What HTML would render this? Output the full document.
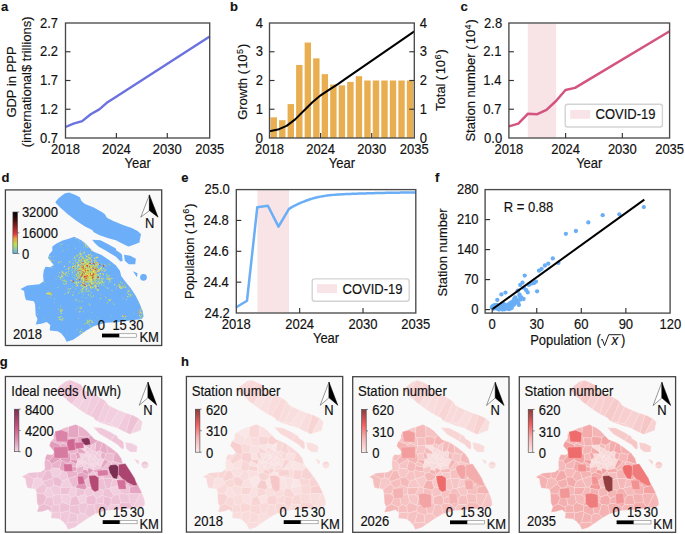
<!DOCTYPE html>
<html><head><meta charset="utf-8"><style>
html,body{margin:0;padding:0;background:#fff;}
svg{display:block;font-family:"Liberation Sans", sans-serif;}
text{stroke:#111;stroke-width:0.15px;}
</style></head><body>
<svg width="685" height="534" viewBox="0 0 685 534">
<rect width="685" height="534" fill="#fff"/>
<text x="0" y="0" font-size="13" text-anchor="start" fill="#111" font-weight="bold" transform="translate(0.9 10.6)">a</text>
<text x="0" y="0" font-size="13" text-anchor="start" fill="#111" font-weight="bold" transform="translate(229.9 10.7)">b</text>
<text x="0" y="0" font-size="13" text-anchor="start" fill="#111" font-weight="bold" transform="translate(460.6 10.6)">c</text>
<text x="0" y="0" font-size="13" text-anchor="start" fill="#111" font-weight="bold" transform="translate(1.6 182.3)">d</text>
<text x="0" y="0" font-size="13" text-anchor="start" fill="#111" font-weight="bold" transform="translate(181.2 182.1)">e</text>
<text x="0" y="0" font-size="13" text-anchor="start" fill="#111" font-weight="bold" transform="translate(435 182)">f</text>
<text x="0" y="0" font-size="13" text-anchor="start" fill="#111" font-weight="bold" transform="translate(-0.2 366)">g</text>
<text x="0" y="0" font-size="13" text-anchor="start" fill="#111" font-weight="bold" transform="translate(181.1 366.2)">h</text>
<polyline points="65.5,127 73.5,123.7 82.2,121.1 90.7,114.2 99.3,109.4 107.6,102.2 116.2,96.7 209.7,36.6" fill="none" stroke="#6b72e0" stroke-width="2.4" stroke-linejoin="round"/>
<rect x="65.5" y="23" width="144.2" height="115" fill="none" stroke="#4a4a4a" stroke-width="1.35"/>
<line x1="65.5" y1="51.75" x2="70.5" y2="51.75" stroke="#333" stroke-width="1.15"/>
<text x="0" y="0" font-size="13" text-anchor="end" fill="#111" transform="translate(58 56.35) scale(1 1.06)">2.2</text>
<line x1="65.5" y1="80.5" x2="70.5" y2="80.5" stroke="#333" stroke-width="1.15"/>
<text x="0" y="0" font-size="13" text-anchor="end" fill="#111" transform="translate(58 85.1) scale(1 1.06)">1.7</text>
<line x1="65.5" y1="109.25" x2="70.5" y2="109.25" stroke="#333" stroke-width="1.15"/>
<text x="0" y="0" font-size="13" text-anchor="end" fill="#111" transform="translate(58 113.85) scale(1 1.06)">1.2</text>
<text x="0" y="0" font-size="13" text-anchor="end" fill="#111" transform="translate(58 27.6) scale(1 1.06)">2.7</text>
<text x="0" y="0" font-size="13" text-anchor="end" fill="#111" transform="translate(58 142.6) scale(1 1.06)">0.7</text>
<line x1="116.39" y1="133" x2="116.39" y2="138" stroke="#333" stroke-width="1.15"/>
<line x1="167.29" y1="133" x2="167.29" y2="138" stroke="#333" stroke-width="1.15"/>
<text x="0" y="0" font-size="13" text-anchor="middle" fill="#111" transform="translate(65.5 153.6) scale(1 1.06)">2018</text>
<text x="0" y="0" font-size="13" text-anchor="middle" fill="#111" transform="translate(116.39 153.6) scale(1 1.06)">2024</text>
<text x="0" y="0" font-size="13" text-anchor="middle" fill="#111" transform="translate(167.29 153.6) scale(1 1.06)">2030</text>
<text x="0" y="0" font-size="13" text-anchor="middle" fill="#111" transform="translate(209.7 153.6) scale(1 1.06)">2035</text>
<text x="0" y="0" font-size="13" text-anchor="middle" fill="#111" transform="translate(137.6 167.7) scale(1 1.06)">Year</text>
<text x="0" y="0" font-size="13" text-anchor="middle" fill="#111" transform="translate(16.2 82) rotate(-90) scale(1 1.03)">GDP in PPP</text>
<text x="0" y="0" font-size="13" text-anchor="middle" fill="#111" transform="translate(31.2 81.8) rotate(-90) scale(1 1.03)">(international$ trillions)</text>
<rect x="270.56" y="117.3" width="6.4" height="20.7" fill="#e9ae50" stroke="none" stroke-width="1"/>
<rect x="279.08" y="120.17" width="6.4" height="17.82" fill="#e9ae50" stroke="none" stroke-width="1"/>
<rect x="287.59" y="104.08" width="6.4" height="33.92" fill="#e9ae50" stroke="none" stroke-width="1"/>
<rect x="296.11" y="64.97" width="6.4" height="73.03" fill="#e9ae50" stroke="none" stroke-width="1"/>
<rect x="304.63" y="42.55" width="6.4" height="95.45" fill="#e9ae50" stroke="none" stroke-width="1"/>
<rect x="313.15" y="58.36" width="6.4" height="79.64" fill="#e9ae50" stroke="none" stroke-width="1"/>
<rect x="321.66" y="74.17" width="6.4" height="63.83" fill="#e9ae50" stroke="none" stroke-width="1"/>
<rect x="330.18" y="84.53" width="6.4" height="53.48" fill="#e9ae50" stroke="none" stroke-width="1"/>
<rect x="338.7" y="85.39" width="6.4" height="52.61" fill="#e9ae50" stroke="none" stroke-width="1"/>
<rect x="347.22" y="81.94" width="6.4" height="56.06" fill="#e9ae50" stroke="none" stroke-width="1"/>
<rect x="355.74" y="76.19" width="6.4" height="61.81" fill="#e9ae50" stroke="none" stroke-width="1"/>
<rect x="364.25" y="80.5" width="6.4" height="57.5" fill="#e9ae50" stroke="none" stroke-width="1"/>
<rect x="372.77" y="80.5" width="6.4" height="57.5" fill="#e9ae50" stroke="none" stroke-width="1"/>
<rect x="381.29" y="80.5" width="6.4" height="57.5" fill="#e9ae50" stroke="none" stroke-width="1"/>
<rect x="389.81" y="80.5" width="6.4" height="57.5" fill="#e9ae50" stroke="none" stroke-width="1"/>
<rect x="398.32" y="80.5" width="6.4" height="57.5" fill="#e9ae50" stroke="none" stroke-width="1"/>
<rect x="406.84" y="80.5" width="6.4" height="57.5" fill="#e9ae50" stroke="none" stroke-width="1"/>
<polyline points="269.5,131.3 277.9,129.6 286.6,125.9 295.2,119.4 303.8,110.8 312.4,102.2 321,95.1 329.7,89.3 338.3,83.9 345,79.1 414.3,31.4" fill="none" stroke="#000" stroke-width="2" stroke-linejoin="round"/>
<rect x="269.5" y="23" width="144.8" height="115" fill="none" stroke="#4a4a4a" stroke-width="1.35"/>
<line x1="269.5" y1="51.75" x2="274.5" y2="51.75" stroke="#333" stroke-width="1.15"/>
<line x1="409.3" y1="51.75" x2="414.3" y2="51.75" stroke="#333" stroke-width="1.15"/>
<line x1="269.5" y1="80.5" x2="274.5" y2="80.5" stroke="#333" stroke-width="1.15"/>
<line x1="409.3" y1="80.5" x2="414.3" y2="80.5" stroke="#333" stroke-width="1.15"/>
<line x1="269.5" y1="109.25" x2="274.5" y2="109.25" stroke="#333" stroke-width="1.15"/>
<line x1="409.3" y1="109.25" x2="414.3" y2="109.25" stroke="#333" stroke-width="1.15"/>
<text x="0" y="0" font-size="13" text-anchor="end" fill="#111" transform="translate(263 27.6) scale(1 1.06)">4</text>
<text x="0" y="0" font-size="13" text-anchor="start" fill="#111" transform="translate(419.8 27.6) scale(1 1.06)">4</text>
<text x="0" y="0" font-size="13" text-anchor="end" fill="#111" transform="translate(263 56.35) scale(1 1.06)">3</text>
<text x="0" y="0" font-size="13" text-anchor="start" fill="#111" transform="translate(419.8 56.35) scale(1 1.06)">3</text>
<text x="0" y="0" font-size="13" text-anchor="end" fill="#111" transform="translate(263 85.1) scale(1 1.06)">2</text>
<text x="0" y="0" font-size="13" text-anchor="start" fill="#111" transform="translate(419.8 85.1) scale(1 1.06)">2</text>
<text x="0" y="0" font-size="13" text-anchor="end" fill="#111" transform="translate(263 113.85) scale(1 1.06)">1</text>
<text x="0" y="0" font-size="13" text-anchor="start" fill="#111" transform="translate(419.8 113.85) scale(1 1.06)">1</text>
<text x="0" y="0" font-size="13" text-anchor="end" fill="#111" transform="translate(263 142.6) scale(1 1.06)">0</text>
<text x="0" y="0" font-size="13" text-anchor="start" fill="#111" transform="translate(419.8 142.6) scale(1 1.06)">0</text>
<line x1="320.61" y1="133" x2="320.61" y2="138" stroke="#333" stroke-width="1.15"/>
<line x1="371.71" y1="133" x2="371.71" y2="138" stroke="#333" stroke-width="1.15"/>
<text x="0" y="0" font-size="13" text-anchor="middle" fill="#111" transform="translate(269.5 153.6) scale(1 1.06)">2018</text>
<text x="0" y="0" font-size="13" text-anchor="middle" fill="#111" transform="translate(320.61 153.6) scale(1 1.06)">2024</text>
<text x="0" y="0" font-size="13" text-anchor="middle" fill="#111" transform="translate(371.71 153.6) scale(1 1.06)">2030</text>
<text x="0" y="0" font-size="13" text-anchor="middle" fill="#111" transform="translate(414.3 153.6) scale(1 1.06)">2035</text>
<text x="0" y="0" font-size="13" text-anchor="middle" fill="#111" transform="translate(341.9 167.7) scale(1 1.06)">Year</text>
<text x="0" y="0" font-size="13" text-anchor="middle" fill="#111" transform="translate(247.4 81.8) rotate(-90) scale(1 1.03)">Growth (<tspan dx="1.2">10</tspan><tspan font-size="9" dy="-4.6" dx="0.3">5</tspan><tspan dy="4.6" dx="1">)</tspan></text>
<text x="0" y="0" font-size="13" text-anchor="middle" fill="#111" transform="translate(445.3 80.1) rotate(-90) scale(1 1.03)">Total (<tspan dx="1.2">10</tspan><tspan font-size="9" dy="-4.6" dx="0.3">6</tspan><tspan dy="4.6" dx="1">)</tspan></text>
<rect x="527.81" y="23.5" width="28.36" height="114" fill="#f8e4e6" stroke="none" stroke-width="1"/>
<polyline points="508.9,126.4 518.3,123.6 527.8,113.8 537.3,114.2 546.5,109.8 556,101 565.5,90 575,87.9 669.6,31.2" fill="none" stroke="#d4547f" stroke-width="2.5" stroke-linejoin="round"/>
<rect x="508.9" y="23" width="160.7" height="115" fill="none" stroke="#4a4a4a" stroke-width="1.35"/>
<line x1="508.9" y1="51.75" x2="513.9" y2="51.75" stroke="#333" stroke-width="1.15"/>
<text x="0" y="0" font-size="13" text-anchor="end" fill="#111" transform="translate(501.4 56.35) scale(1 1.06)">2.1</text>
<line x1="508.9" y1="80.5" x2="513.9" y2="80.5" stroke="#333" stroke-width="1.15"/>
<text x="0" y="0" font-size="13" text-anchor="end" fill="#111" transform="translate(501.4 85.1) scale(1 1.06)">1.4</text>
<line x1="508.9" y1="109.25" x2="513.9" y2="109.25" stroke="#333" stroke-width="1.15"/>
<text x="0" y="0" font-size="13" text-anchor="end" fill="#111" transform="translate(501.4 113.85) scale(1 1.06)">0.7</text>
<text x="0" y="0" font-size="13" text-anchor="end" fill="#111" transform="translate(502.1 27.6) scale(1 1.06)">2.8</text>
<text x="0" y="0" font-size="13" text-anchor="end" fill="#111" transform="translate(502.1 142.6) scale(1 1.06)">0.0</text>
<line x1="565.62" y1="133" x2="565.62" y2="138" stroke="#333" stroke-width="1.15"/>
<line x1="622.34" y1="133" x2="622.34" y2="138" stroke="#333" stroke-width="1.15"/>
<text x="0" y="0" font-size="13" text-anchor="middle" fill="#111" transform="translate(508.9 153.6) scale(1 1.06)">2018</text>
<text x="0" y="0" font-size="13" text-anchor="middle" fill="#111" transform="translate(565.62 153.6) scale(1 1.06)">2024</text>
<text x="0" y="0" font-size="13" text-anchor="middle" fill="#111" transform="translate(622.34 153.6) scale(1 1.06)">2030</text>
<text x="0" y="0" font-size="13" text-anchor="middle" fill="#111" transform="translate(669.6 153.6) scale(1 1.06)">2035</text>
<text x="0" y="0" font-size="13" text-anchor="middle" fill="#111" transform="translate(589.25 167.7) scale(1 1.06)">Year</text>
<text x="0" y="0" font-size="13" text-anchor="middle" fill="#111" transform="translate(475.4 80.4) rotate(-90) scale(1 1.03)">Station number (<tspan dx="1.2">10</tspan><tspan font-size="9" dy="-4.6" dx="0.3">4</tspan><tspan dy="4.6" dx="1">)</tspan></text>
<rect x="565.2" y="104.2" width="97.2" height="22.8" fill="#fff" stroke="#d3d3d3" stroke-width="1.4" rx="2.5"/>
<rect x="570.2" y="110" width="20" height="8.8" fill="#f8e4e6" stroke="none" stroke-width="1"/>
<text x="0" y="0" font-size="13" text-anchor="start" fill="#111" transform="translate(595.6 119.3) scale(1 1.06)">COVID-19</text>
<rect x="257.42" y="190.1" width="31.68" height="122.4" fill="#f8e4e6" stroke="none" stroke-width="1"/>
<polyline points="236.3,307.2 247,300.7 257.3,207.2 267.9,205.8 278.5,226.6 289,208.9 291.11,207.65 293.23,206.44 295.34,205.31 297.45,204.25 299.57,203.29 301.68,202.4 303.79,201.54 305.91,200.73 308.02,199.96 310.13,199.26 312.25,198.62 314.36,198.05 316.47,197.56 318.59,197.09 320.7,196.65 322.81,196.25 324.93,195.88 327.04,195.56 329.15,195.28 331.27,195.07 333.38,194.88 335.49,194.71 337.61,194.56 339.72,194.42 341.83,194.3 343.95,194.18 346.06,194.08 348.17,193.98 350.29,193.89 352.4,193.8 354.51,193.72 356.63,193.64 358.74,193.57 360.85,193.51 362.97,193.44 365.08,193.38 367.19,193.32 369.31,193.27 371.42,193.21 373.53,193.16 375.65,193.1 377.76,193.05 379.87,193 381.99,192.96 384.1,192.91 386.21,192.87 388.33,192.82 390.44,192.78 392.55,192.74 394.67,192.71 396.78,192.67 398.89,192.63 401.01,192.6 403.12,192.57 405.23,192.54 407.35,192.51 409.46,192.48 411.57,192.45 413.69,192.42 415.8,192.4" fill="none" stroke="#6aaef5" stroke-width="2.5" stroke-linejoin="round"/>
<rect x="236.3" y="189.6" width="179.5" height="123.4" fill="none" stroke="#4a4a4a" stroke-width="1.35"/>
<line x1="236.3" y1="220.45" x2="241.3" y2="220.45" stroke="#333" stroke-width="1.15"/>
<text x="0" y="0" font-size="13" text-anchor="end" fill="#111" transform="translate(228.8 225.05) scale(1 1.06)">24.8</text>
<line x1="236.3" y1="251.3" x2="241.3" y2="251.3" stroke="#333" stroke-width="1.15"/>
<text x="0" y="0" font-size="13" text-anchor="end" fill="#111" transform="translate(228.8 255.9) scale(1 1.06)">24.6</text>
<line x1="236.3" y1="282.15" x2="241.3" y2="282.15" stroke="#333" stroke-width="1.15"/>
<text x="0" y="0" font-size="13" text-anchor="end" fill="#111" transform="translate(228.8 286.75) scale(1 1.06)">24.4</text>
<text x="0" y="0" font-size="13" text-anchor="end" fill="#111" transform="translate(229.8 194.2) scale(1 1.06)">25.0</text>
<text x="0" y="0" font-size="13" text-anchor="end" fill="#111" transform="translate(229.8 317.6) scale(1 1.06)">24.2</text>
<line x1="299.65" y1="308" x2="299.65" y2="313" stroke="#333" stroke-width="1.15"/>
<line x1="363.01" y1="308" x2="363.01" y2="313" stroke="#333" stroke-width="1.15"/>
<text x="0" y="0" font-size="13" text-anchor="middle" fill="#111" transform="translate(236.3 328.6) scale(1 1.06)">2018</text>
<text x="0" y="0" font-size="13" text-anchor="middle" fill="#111" transform="translate(299.65 328.6) scale(1 1.06)">2024</text>
<text x="0" y="0" font-size="13" text-anchor="middle" fill="#111" transform="translate(363.01 328.6) scale(1 1.06)">2030</text>
<text x="0" y="0" font-size="13" text-anchor="middle" fill="#111" transform="translate(415.8 328.6) scale(1 1.06)">2035</text>
<text x="0" y="0" font-size="13" text-anchor="middle" fill="#111" transform="translate(326.05 343) scale(1 1.06)">Year</text>
<text x="0" y="0" font-size="13" text-anchor="middle" fill="#111" transform="translate(193.9 251.1) rotate(-90) scale(1 1.03)">Population (<tspan dx="1.2">10</tspan><tspan font-size="9" dy="-4.6" dx="0.3">6</tspan><tspan dy="4.6" dx="1">)</tspan></text>
<rect x="312.2" y="278.9" width="97" height="22.4" fill="#fff" stroke="#d3d3d3" stroke-width="1.4" rx="2.5"/>
<rect x="317" y="284.2" width="20" height="8.9" fill="#f8e4e6" stroke="none" stroke-width="1"/>
<text x="0" y="0" font-size="13" text-anchor="start" fill="#111" transform="translate(342.6 293.6) scale(1 1.06)">COVID-19</text>
<circle cx="552.8" cy="258.4" r="2.15" fill="#6aaef5"/>
<circle cx="558.4" cy="262.9" r="2.15" fill="#6aaef5"/>
<circle cx="548.3" cy="263.6" r="2.15" fill="#6aaef5"/>
<circle cx="544.9" cy="265.5" r="2.15" fill="#6aaef5"/>
<circle cx="541.6" cy="268.8" r="2.15" fill="#6aaef5"/>
<circle cx="539" cy="270.7" r="2.15" fill="#6aaef5"/>
<circle cx="524.7" cy="275.6" r="2.15" fill="#6aaef5"/>
<circle cx="536" cy="281.6" r="2.15" fill="#6aaef5"/>
<circle cx="534.1" cy="283.1" r="2.15" fill="#6aaef5"/>
<circle cx="531.8" cy="283.4" r="2.15" fill="#6aaef5"/>
<circle cx="529.6" cy="284.2" r="2.15" fill="#6aaef5"/>
<circle cx="528.8" cy="284.9" r="2.15" fill="#6aaef5"/>
<circle cx="522.5" cy="282.7" r="2.15" fill="#6aaef5"/>
<circle cx="520.2" cy="284.9" r="2.15" fill="#6aaef5"/>
<circle cx="524" cy="287.9" r="2.15" fill="#6aaef5"/>
<circle cx="526.2" cy="290.2" r="2.15" fill="#6aaef5"/>
<circle cx="527.7" cy="292.4" r="2.15" fill="#6aaef5"/>
<circle cx="537.1" cy="291.3" r="2.15" fill="#6aaef5"/>
<circle cx="518" cy="290.6" r="2.15" fill="#6aaef5"/>
<circle cx="519.5" cy="294.7" r="2.15" fill="#6aaef5"/>
<circle cx="492.6" cy="306.1" r="2.15" fill="#6aaef5"/>
<circle cx="494.4" cy="305.2" r="2.15" fill="#6aaef5"/>
<circle cx="496.7" cy="304.9" r="2.15" fill="#6aaef5"/>
<circle cx="499" cy="307.2" r="2.15" fill="#6aaef5"/>
<circle cx="499" cy="309.6" r="2.15" fill="#6aaef5"/>
<circle cx="501.4" cy="307.2" r="2.15" fill="#6aaef5"/>
<circle cx="503.7" cy="304.3" r="2.15" fill="#6aaef5"/>
<circle cx="504.3" cy="307.2" r="2.15" fill="#6aaef5"/>
<circle cx="507.2" cy="308.4" r="2.15" fill="#6aaef5"/>
<circle cx="508.4" cy="304.3" r="2.15" fill="#6aaef5"/>
<circle cx="510.7" cy="308.4" r="2.15" fill="#6aaef5"/>
<circle cx="511.3" cy="306.1" r="2.15" fill="#6aaef5"/>
<circle cx="513.1" cy="301.4" r="2.15" fill="#6aaef5"/>
<circle cx="514.2" cy="299" r="2.15" fill="#6aaef5"/>
<circle cx="516" cy="302.5" r="2.15" fill="#6aaef5"/>
<circle cx="518.9" cy="304.9" r="2.15" fill="#6aaef5"/>
<circle cx="519.5" cy="296.1" r="2.15" fill="#6aaef5"/>
<circle cx="521.3" cy="297.3" r="2.15" fill="#6aaef5"/>
<circle cx="523.6" cy="299" r="2.15" fill="#6aaef5"/>
<circle cx="516.6" cy="299.6" r="2.15" fill="#6aaef5"/>
<circle cx="497.3" cy="299.9" r="2.15" fill="#6aaef5"/>
<circle cx="501.4" cy="294.4" r="2.15" fill="#6aaef5"/>
<circle cx="505.5" cy="292.6" r="2.15" fill="#6aaef5"/>
<circle cx="517.7" cy="290.8" r="2.15" fill="#6aaef5"/>
<circle cx="498.5" cy="308.4" r="2.15" fill="#6aaef5"/>
<circle cx="506" cy="306.1" r="2.15" fill="#6aaef5"/>
<circle cx="509.6" cy="306.6" r="2.15" fill="#6aaef5"/>
<circle cx="512.5" cy="304.3" r="2.15" fill="#6aaef5"/>
<circle cx="502.5" cy="309.6" r="2.15" fill="#6aaef5"/>
<circle cx="494.9" cy="307.2" r="2.15" fill="#6aaef5"/>
<circle cx="491.8" cy="307.5" r="2.15" fill="#6aaef5"/>
<circle cx="493.5" cy="308.8" r="2.15" fill="#6aaef5"/>
<circle cx="496.5" cy="308.6" r="2.15" fill="#6aaef5"/>
<circle cx="500.5" cy="305.5" r="2.15" fill="#6aaef5"/>
<circle cx="505.2" cy="305" r="2.15" fill="#6aaef5"/>
<circle cx="507.8" cy="306.8" r="2.15" fill="#6aaef5"/>
<circle cx="510" cy="303.2" r="2.15" fill="#6aaef5"/>
<circle cx="512" cy="302" r="2.15" fill="#6aaef5"/>
<circle cx="515.3" cy="301.2" r="2.15" fill="#6aaef5"/>
<circle cx="517.5" cy="300.3" r="2.15" fill="#6aaef5"/>
<circle cx="514" cy="304.8" r="2.15" fill="#6aaef5"/>
<circle cx="502.8" cy="303.4" r="2.15" fill="#6aaef5"/>
<circle cx="498.2" cy="305.8" r="2.15" fill="#6aaef5"/>
<circle cx="495.6" cy="306.5" r="2.15" fill="#6aaef5"/>
<circle cx="509" cy="309.2" r="2.15" fill="#6aaef5"/>
<circle cx="511.8" cy="307.8" r="2.15" fill="#6aaef5"/>
<circle cx="504.8" cy="309.3" r="2.15" fill="#6aaef5"/>
<circle cx="515.2" cy="297.5" r="2.15" fill="#6aaef5"/>
<circle cx="520.5" cy="299.6" r="2.15" fill="#6aaef5"/>
<circle cx="518.2" cy="302.8" r="2.15" fill="#6aaef5"/>
<circle cx="565.9" cy="233.8" r="2.15" fill="#6aaef5"/>
<circle cx="575.9" cy="231" r="2.15" fill="#6aaef5"/>
<circle cx="588.3" cy="222.4" r="2.15" fill="#6aaef5"/>
<circle cx="602.7" cy="215.2" r="2.15" fill="#6aaef5"/>
<circle cx="619.3" cy="214.3" r="2.15" fill="#6aaef5"/>
<circle cx="643.8" cy="207.1" r="2.15" fill="#6aaef5"/>
<line x1="492.3" y1="309.3" x2="644.3" y2="199.6" stroke="#000" stroke-width="2"/>
<rect x="485.1" y="189.6" width="185" height="123.5" fill="none" stroke="#4a4a4a" stroke-width="1.35"/>
<line x1="485.1" y1="219.6" x2="490.1" y2="219.6" stroke="#333" stroke-width="1.15"/>
<text x="0" y="0" font-size="13" text-anchor="end" fill="#111" transform="translate(478.6 224.2) scale(1 1.06)">210</text>
<line x1="485.1" y1="249.6" x2="490.1" y2="249.6" stroke="#333" stroke-width="1.15"/>
<text x="0" y="0" font-size="13" text-anchor="end" fill="#111" transform="translate(478.6 254.2) scale(1 1.06)">140</text>
<line x1="485.1" y1="279.6" x2="490.1" y2="279.6" stroke="#333" stroke-width="1.15"/>
<text x="0" y="0" font-size="13" text-anchor="end" fill="#111" transform="translate(478.6 284.2) scale(1 1.06)">70</text>
<line x1="485.1" y1="309.6" x2="490.1" y2="309.6" stroke="#333" stroke-width="1.15"/>
<text x="0" y="0" font-size="13" text-anchor="end" fill="#111" transform="translate(478.6 314.2) scale(1 1.06)">0</text>
<text x="0" y="0" font-size="13" text-anchor="end" fill="#111" transform="translate(478.6 194.2) scale(1 1.06)">280</text>
<line x1="492.2" y1="308.1" x2="492.2" y2="313.1" stroke="#333" stroke-width="1.15"/>
<line x1="536.75" y1="308.1" x2="536.75" y2="313.1" stroke="#333" stroke-width="1.15"/>
<line x1="581.3" y1="308.1" x2="581.3" y2="313.1" stroke="#333" stroke-width="1.15"/>
<line x1="625.85" y1="308.1" x2="625.85" y2="313.1" stroke="#333" stroke-width="1.15"/>
<text x="0" y="0" font-size="13" text-anchor="middle" fill="#111" transform="translate(492.2 328.6) scale(1 1.06)">0</text>
<text x="0" y="0" font-size="13" text-anchor="middle" fill="#111" transform="translate(536.75 328.6) scale(1 1.06)">30</text>
<text x="0" y="0" font-size="13" text-anchor="middle" fill="#111" transform="translate(581.3 328.6) scale(1 1.06)">60</text>
<text x="0" y="0" font-size="13" text-anchor="middle" fill="#111" transform="translate(625.85 328.6) scale(1 1.06)">90</text>
<text x="0" y="0" font-size="13" text-anchor="middle" fill="#111" transform="translate(670.4 328.6) scale(1 1.06)">120</text>
<text x="0" y="0" font-size="13" text-anchor="start" fill="#111" transform="translate(503.8 211.8) scale(1 1.06)">R = 0.88</text>
<text x="0" y="0" font-size="13" text-anchor="middle" fill="#111" transform="translate(447.2 252.5) rotate(-90) scale(1 1.03)">Station number</text>
<text x="0" y="0" font-size="13" text-anchor="start" fill="#111" transform="translate(530.2 345.2) scale(1 1.06)">Population</text>
<text x="0" y="0" font-size="13" text-anchor="start" fill="#111" transform="translate(596.5 345.2) scale(1 1.06)">(</text>
<path d="M600.9,340.2 L602.3,339.3 L604.6,345.6 L608.7,334.7 L620.8,334.7" fill="none" stroke="#111" stroke-width="0.95" stroke-linejoin="miter"/>
<text x="0" y="0" font-size="13.4" text-anchor="start" fill="#111" transform="translate(611.4 345.2) scale(1 1.06)" font-style="italic">x</text>
<text x="0" y="0" font-size="13" text-anchor="start" fill="#111" transform="translate(620.9 345.2) scale(1 1.06)">)</text>
<rect x="5.4" y="189.9" width="156.3" height="155.6" fill="#f9f9f9" stroke="#444" stroke-width="1.3"/>
<path transform="translate(5.4 189.9)" d="M50.1,11.8 L53.4,8.1 L59.2,3.7 L63.6,2.7 L70.1,5.2 L74.5,7.4 L76,11.1 L79.6,14 L88.4,17.6 L96.4,22 L99.3,24.2 L101.5,27.8 L107.4,30.8 L117.6,35.1 L126.4,38.1 L132.2,41 L135.1,43.9 L135.7,44.2 L134.4,49.7 L134.2,52.5 L132.2,53.4 L124.2,56.3 L122.9,56.6 L114.6,52.7 L110.5,50.4 L103,48.3 L94.2,45.4 L88.4,42.4 L86.8,40.1 L79.6,36.6 L70.9,30.8 L62.1,24.2 L54.8,17.6 L50.4,13.2ZM86.8,49.9 L95,50.4 L103.3,54.5 L110.5,58.6 L111,60.7 L114.6,62.8 L116.7,64.8 L117.2,71 L115.1,71.5 L110.5,66.9 L100.2,60.7 L93,56.6 L88.9,52.5ZM118.6,64.8 L124.9,65.8 L130.5,68.8 L129.8,74.4 L123.4,74.4 L119.4,70.8ZM127.6,81.4 L132.2,83.3 L131.5,87.4ZM68.8,46.9 L75.5,50 L79.6,53 L87.8,61.7 L96.2,65.1 L104,70.3 L110.6,75.6 L114.5,80.8 L115.8,86.1 L119.7,91.3 L125,97.9 L130.2,105.7 L134.2,113.6 L137.4,121.5 L138.1,126.7 L136.1,129.3 L128.2,130.2 L113.7,132.1 L100.6,132.8 L88.8,136.1 L80.9,140.7 L74.3,145.3 L67.7,149.9 L61.2,151.9 L59.9,149.2 L59.5,148 L55.9,143.7 L52.2,141.3 L44.3,140.6 L44.9,135.2 L41.3,132.1 L35.8,133.9 L30.3,134.6 L32.1,129.1 L30.3,125.4 L29.7,114.5 L28.5,111.4 L20.6,110.2 L19.3,105.9 L18.7,101.1 L15.1,99.2 L21.8,95.6 L26.8,95 L34,94.4 L38.2,91.3 L37.7,85.3 L38.4,80.4 L40.2,76.8 L45.1,77.4 L48.1,74.9 L45.7,71.9 L42.6,68.2 L43.8,64.6 L46.9,60.9 L46.9,56.7 L51.1,53.6 L57.2,50.6 L63.3,48.8ZM134.7,87.4 a3.4,3.4 0 1,0 6.8,0 a3.4,3.4 0 1,0 -6.8,0Z" fill="#6caef8"/>
<g transform="translate(5.4 189.9)"><rect x="73.7" y="75.3" width="1.1" height="1.1" fill="#dfe35a"/><rect x="87.5" y="79.8" width="0.9" height="0.9" fill="#dfe35a"/><rect x="78.3" y="89.0" width="0.9" height="0.9" fill="#a8da78"/><rect x="72.1" y="78.9" width="1.1" height="1.1" fill="#a8da78"/><rect x="78.3" y="70.0" width="1.1" height="1.1" fill="#dfe35a"/><rect x="76.5" y="80.4" width="1.1" height="1.1" fill="#dfe35a"/><rect x="83.9" y="80.1" width="1.1" height="1.1" fill="#d8382a"/><rect x="81.9" y="69.0" width="1.4" height="1.4" fill="#a8da78"/><rect x="75.2" y="83.4" width="1.4" height="1.4" fill="#dfe35a"/><rect x="80.1" y="80.1" width="0.9" height="0.9" fill="#d8382a"/><rect x="76.4" y="75.8" width="0.9" height="0.9" fill="#ee9a3a"/><rect x="77.5" y="92.6" width="0.9" height="0.9" fill="#a8da78"/><rect x="70.6" y="89.0" width="1.1" height="1.1" fill="#a8da78"/><rect x="76.9" y="68.8" width="1.1" height="1.1" fill="#d8382a"/><rect x="81.7" y="89.0" width="1.1" height="1.1" fill="#a8da78"/><rect x="74.2" y="82.7" width="1.1" height="1.1" fill="#a8da78"/><rect x="90.2" y="82.0" width="0.9" height="0.9" fill="#dfe35a"/><rect x="87.5" y="85.4" width="1.4" height="1.4" fill="#ee9a3a"/><rect x="83.6" y="91.1" width="1.4" height="1.4" fill="#dfe35a"/><rect x="82.2" y="86.1" width="1.1" height="1.1" fill="#d8382a"/><rect x="80.7" y="84.0" width="0.9" height="0.9" fill="#ee9a3a"/><rect x="83.1" y="71.1" width="1.4" height="1.4" fill="#a8da78"/><rect x="76.1" y="91.7" width="1.1" height="1.1" fill="#ee9a3a"/><rect x="75.7" y="87.7" width="1.4" height="1.4" fill="#dfe35a"/><rect x="75.4" y="89.4" width="1.1" height="1.1" fill="#dfe35a"/><rect x="80.0" y="79.1" width="1.1" height="1.1" fill="#dfe35a"/><rect x="87.2" y="75.1" width="0.9" height="0.9" fill="#dfe35a"/><rect x="79.1" y="80.2" width="1.4" height="1.4" fill="#d8382a"/><rect x="77.4" y="80.0" width="1.4" height="1.4" fill="#a8da78"/><rect x="81.0" y="79.1" width="1.4" height="1.4" fill="#d8382a"/><rect x="92.5" y="80.2" width="1.4" height="1.4" fill="#ee9a3a"/><rect x="80.8" y="74.9" width="1.4" height="1.4" fill="#d8382a"/><rect x="79.7" y="77.9" width="0.9" height="0.9" fill="#ee9a3a"/><rect x="83.6" y="88.9" width="1.4" height="1.4" fill="#dfe35a"/><rect x="87.4" y="93.3" width="0.9" height="0.9" fill="#dfe35a"/><rect x="77.0" y="75.8" width="1.4" height="1.4" fill="#dfe35a"/><rect x="81.9" y="84.9" width="1.1" height="1.1" fill="#dfe35a"/><rect x="85.6" y="82.1" width="0.9" height="0.9" fill="#ee9a3a"/><rect x="84.6" y="84.0" width="0.9" height="0.9" fill="#ee9a3a"/><rect x="83.3" y="86.3" width="1.1" height="1.1" fill="#ee9a3a"/><rect x="80.9" y="88.1" width="1.1" height="1.1" fill="#a8da78"/><rect x="77.8" y="72.3" width="1.4" height="1.4" fill="#dfe35a"/><rect x="84.7" y="72.2" width="0.9" height="0.9" fill="#a8da78"/><rect x="70.1" y="83.9" width="1.1" height="1.1" fill="#dfe35a"/><rect x="88.0" y="72.6" width="1.4" height="1.4" fill="#d8382a"/><rect x="76.9" y="77.0" width="1.1" height="1.1" fill="#d8382a"/><rect x="88.3" y="83.3" width="1.1" height="1.1" fill="#dfe35a"/><rect x="80.1" y="77.0" width="1.4" height="1.4" fill="#dfe35a"/><rect x="76.1" y="99.2" width="1.1" height="1.1" fill="#dfe35a"/><rect x="88.9" y="88.5" width="1.4" height="1.4" fill="#dfe35a"/><rect x="77.1" y="80.9" width="1.1" height="1.1" fill="#ee9a3a"/><rect x="79.6" y="82.2" width="0.9" height="0.9" fill="#d8382a"/><rect x="91.7" y="72.9" width="1.1" height="1.1" fill="#dfe35a"/><rect x="81.0" y="74.5" width="0.9" height="0.9" fill="#dfe35a"/><rect x="82.3" y="85.1" width="0.9" height="0.9" fill="#dfe35a"/><rect x="77.3" y="87.6" width="0.9" height="0.9" fill="#ee9a3a"/><rect x="91.3" y="77.0" width="0.9" height="0.9" fill="#ee9a3a"/><rect x="87.8" y="74.7" width="0.9" height="0.9" fill="#dfe35a"/><rect x="77.8" y="83.5" width="0.9" height="0.9" fill="#d8382a"/><rect x="86.4" y="85.5" width="0.9" height="0.9" fill="#a8da78"/><rect x="83.9" y="94.2" width="1.4" height="1.4" fill="#dfe35a"/><rect x="85.3" y="88.6" width="1.4" height="1.4" fill="#dfe35a"/><rect x="78.6" y="76.6" width="0.9" height="0.9" fill="#dfe35a"/><rect x="95.8" y="73.5" width="1.1" height="1.1" fill="#a8da78"/><rect x="87.9" y="77.3" width="0.9" height="0.9" fill="#a8da78"/><rect x="83.4" y="87.4" width="1.1" height="1.1" fill="#dfe35a"/><rect x="76.9" y="92.0" width="1.4" height="1.4" fill="#dfe35a"/><rect x="77.8" y="79.4" width="0.9" height="0.9" fill="#ee9a3a"/><rect x="82.9" y="79.0" width="0.9" height="0.9" fill="#a8da78"/><rect x="89.1" y="80.9" width="0.9" height="0.9" fill="#a8da78"/><rect x="77.3" y="73.9" width="1.4" height="1.4" fill="#a8da78"/><rect x="79.6" y="75.8" width="1.4" height="1.4" fill="#ee9a3a"/><rect x="80.9" y="79.5" width="1.4" height="1.4" fill="#d8382a"/><rect x="83.2" y="83.2" width="1.1" height="1.1" fill="#dfe35a"/><rect x="89.0" y="88.4" width="0.9" height="0.9" fill="#dfe35a"/><rect x="81.8" y="85.4" width="1.1" height="1.1" fill="#a8da78"/><rect x="86.6" y="88.2" width="1.1" height="1.1" fill="#d8382a"/><rect x="87.6" y="79.0" width="1.1" height="1.1" fill="#dfe35a"/><rect x="77.5" y="96.9" width="1.4" height="1.4" fill="#a8da78"/><rect x="79.3" y="83.7" width="0.9" height="0.9" fill="#ee9a3a"/><rect x="85.4" y="78.6" width="1.1" height="1.1" fill="#a8da78"/><rect x="87.9" y="78.5" width="1.1" height="1.1" fill="#d8382a"/><rect x="76.3" y="66.2" width="1.4" height="1.4" fill="#a8da78"/><rect x="79.6" y="83.2" width="1.1" height="1.1" fill="#a8da78"/><rect x="72.9" y="78.4" width="1.1" height="1.1" fill="#ee9a3a"/><rect x="74.1" y="78.7" width="1.1" height="1.1" fill="#d8382a"/><rect x="83.8" y="76.1" width="1.4" height="1.4" fill="#d8382a"/><rect x="77.8" y="92.7" width="1.4" height="1.4" fill="#d8382a"/><rect x="75.8" y="79.6" width="1.1" height="1.1" fill="#a8da78"/><rect x="82.0" y="88.8" width="1.4" height="1.4" fill="#ee9a3a"/><rect x="77.3" y="75.0" width="1.4" height="1.4" fill="#ee9a3a"/><rect x="75.9" y="78.9" width="1.4" height="1.4" fill="#dfe35a"/><rect x="78.2" y="63.4" width="1.1" height="1.1" fill="#a8da78"/><rect x="87.9" y="82.8" width="1.1" height="1.1" fill="#dfe35a"/><rect x="91.9" y="80.9" width="1.1" height="1.1" fill="#dfe35a"/><rect x="79.0" y="77.3" width="0.9" height="0.9" fill="#dfe35a"/><rect x="77.0" y="83.6" width="1.1" height="1.1" fill="#a8da78"/><rect x="73.3" y="84.3" width="1.1" height="1.1" fill="#a8da78"/><rect x="83.9" y="89.8" width="1.1" height="1.1" fill="#dfe35a"/><rect x="82.0" y="71.0" width="1.1" height="1.1" fill="#dfe35a"/><rect x="75.5" y="72.8" width="1.4" height="1.4" fill="#d8382a"/><rect x="72.3" y="87.7" width="0.9" height="0.9" fill="#dfe35a"/><rect x="75.1" y="77.5" width="1.1" height="1.1" fill="#dfe35a"/><rect x="78.6" y="82.7" width="0.9" height="0.9" fill="#d8382a"/><rect x="84.3" y="84.4" width="1.1" height="1.1" fill="#a8da78"/><rect x="78.6" y="86.5" width="1.1" height="1.1" fill="#dfe35a"/><rect x="75.3" y="65.7" width="1.1" height="1.1" fill="#dfe35a"/><rect x="85.9" y="90.3" width="1.4" height="1.4" fill="#a8da78"/><rect x="82.3" y="81.5" width="0.9" height="0.9" fill="#d8382a"/><rect x="78.8" y="86.9" width="1.1" height="1.1" fill="#d8382a"/><rect x="84.5" y="87.2" width="1.1" height="1.1" fill="#dfe35a"/><rect x="75.5" y="81.7" width="1.4" height="1.4" fill="#ee9a3a"/><rect x="81.6" y="90.8" width="1.4" height="1.4" fill="#a8da78"/><rect x="83.2" y="73.2" width="0.9" height="0.9" fill="#ee9a3a"/><rect x="88.2" y="73.3" width="1.4" height="1.4" fill="#d8382a"/><rect x="80.4" y="74.1" width="1.4" height="1.4" fill="#dfe35a"/><rect x="75.5" y="72.8" width="1.1" height="1.1" fill="#dfe35a"/><rect x="85.0" y="84.2" width="1.4" height="1.4" fill="#dfe35a"/><rect x="81.4" y="87.4" width="1.1" height="1.1" fill="#a8da78"/><rect x="81.1" y="78.4" width="1.4" height="1.4" fill="#ee9a3a"/><rect x="90.3" y="88.6" width="1.1" height="1.1" fill="#d8382a"/><rect x="89.5" y="83.5" width="1.4" height="1.4" fill="#dfe35a"/><rect x="73.0" y="82.9" width="1.1" height="1.1" fill="#ee9a3a"/><rect x="74.5" y="94.8" width="0.9" height="0.9" fill="#ee9a3a"/><rect x="80.8" y="73.1" width="1.4" height="1.4" fill="#dfe35a"/><rect x="73.0" y="88.1" width="1.1" height="1.1" fill="#a8da78"/><rect x="79.0" y="89.2" width="0.9" height="0.9" fill="#a8da78"/><rect x="84.4" y="82.1" width="1.1" height="1.1" fill="#d8382a"/><rect x="88.5" y="88.5" width="0.9" height="0.9" fill="#dfe35a"/><rect x="87.6" y="85.8" width="1.1" height="1.1" fill="#d8382a"/><rect x="83.0" y="73.0" width="0.9" height="0.9" fill="#dfe35a"/><rect x="81.8" y="77.9" width="1.4" height="1.4" fill="#dfe35a"/><rect x="85.3" y="93.8" width="1.4" height="1.4" fill="#dfe35a"/><rect x="85.9" y="76.4" width="1.4" height="1.4" fill="#d8382a"/><rect x="82.4" y="82.0" width="1.1" height="1.1" fill="#d8382a"/><rect x="85.7" y="83.7" width="1.4" height="1.4" fill="#a8da78"/><rect x="70.5" y="80.2" width="0.9" height="0.9" fill="#a8da78"/><rect x="85.2" y="84.9" width="1.1" height="1.1" fill="#a8da78"/><rect x="80.9" y="75.2" width="1.1" height="1.1" fill="#d8382a"/><rect x="80.8" y="85.5" width="1.1" height="1.1" fill="#ee9a3a"/><rect x="85.6" y="83.3" width="1.1" height="1.1" fill="#dfe35a"/><rect x="69.4" y="75.3" width="1.1" height="1.1" fill="#dfe35a"/><rect x="90.6" y="92.8" width="1.1" height="1.1" fill="#dfe35a"/><rect x="77.8" y="89.3" width="1.4" height="1.4" fill="#a8da78"/><rect x="73.2" y="78.8" width="1.4" height="1.4" fill="#dfe35a"/><rect x="65.0" y="90.1" width="1.1" height="1.1" fill="#dfe35a"/><rect x="80.6" y="84.2" width="1.1" height="1.1" fill="#ee9a3a"/><rect x="82.7" y="79.3" width="1.1" height="1.1" fill="#a8da78"/><rect x="85.4" y="91.3" width="1.4" height="1.4" fill="#dfe35a"/><rect x="76.3" y="99.3" width="1.1" height="1.1" fill="#a8da78"/><rect x="78.9" y="77.0" width="1.1" height="1.1" fill="#ee9a3a"/><rect x="82.5" y="83.3" width="1.1" height="1.1" fill="#ee9a3a"/><rect x="73.6" y="79.8" width="1.1" height="1.1" fill="#d8382a"/><rect x="90.2" y="88.1" width="0.9" height="0.9" fill="#dfe35a"/><rect x="85.8" y="70.8" width="1.1" height="1.1" fill="#dfe35a"/><rect x="82.6" y="81.4" width="1.4" height="1.4" fill="#ee9a3a"/><rect x="72.4" y="91.7" width="1.4" height="1.4" fill="#dfe35a"/><rect x="74.9" y="71.7" width="1.4" height="1.4" fill="#a8da78"/><rect x="90.3" y="90.1" width="0.9" height="0.9" fill="#dfe35a"/><rect x="77.7" y="92.9" width="1.4" height="1.4" fill="#dfe35a"/><rect x="78.3" y="85.5" width="1.1" height="1.1" fill="#dfe35a"/><rect x="66.5" y="86.1" width="0.9" height="0.9" fill="#a8da78"/><rect x="71.2" y="80.2" width="0.9" height="0.9" fill="#ee9a3a"/><rect x="83.9" y="81.0" width="1.4" height="1.4" fill="#a8da78"/><rect x="77.3" y="83.1" width="1.4" height="1.4" fill="#ee9a3a"/><rect x="81.1" y="82.9" width="0.9" height="0.9" fill="#dfe35a"/><rect x="73.6" y="87.5" width="0.9" height="0.9" fill="#a8da78"/><rect x="69.3" y="92.2" width="1.1" height="1.1" fill="#dfe35a"/><rect x="77.8" y="87.0" width="0.9" height="0.9" fill="#dfe35a"/><rect x="82.3" y="87.4" width="0.9" height="0.9" fill="#dfe35a"/><rect x="78.2" y="90.3" width="0.9" height="0.9" fill="#a8da78"/><rect x="81.5" y="87.6" width="1.1" height="1.1" fill="#a8da78"/><rect x="84.9" y="89.0" width="1.4" height="1.4" fill="#dfe35a"/><rect x="77.3" y="85.3" width="1.1" height="1.1" fill="#d8382a"/><rect x="75.1" y="76.2" width="1.1" height="1.1" fill="#d8382a"/><rect x="78.4" y="89.9" width="1.1" height="1.1" fill="#a8da78"/><rect x="74.4" y="91.4" width="1.1" height="1.1" fill="#dfe35a"/><rect x="97.1" y="83.5" width="1.4" height="1.4" fill="#dfe35a"/><rect x="77.2" y="67.3" width="1.1" height="1.1" fill="#dfe35a"/><rect x="82.2" y="82.2" width="0.9" height="0.9" fill="#dfe35a"/><rect x="94.3" y="83.2" width="1.4" height="1.4" fill="#dfe35a"/><rect x="85.2" y="85.9" width="1.1" height="1.1" fill="#dfe35a"/><rect x="90.7" y="72.0" width="1.1" height="1.1" fill="#dfe35a"/><rect x="91.1" y="71.9" width="0.9" height="0.9" fill="#dfe35a"/><rect x="98.4" y="74.7" width="1.4" height="1.4" fill="#dfe35a"/><rect x="93.5" y="81.1" width="0.9" height="0.9" fill="#dfe35a"/><rect x="89.2" y="83.3" width="1.4" height="1.4" fill="#dfe35a"/><rect x="81.0" y="73.5" width="1.1" height="1.1" fill="#a8da78"/><rect x="91.9" y="81.0" width="1.1" height="1.1" fill="#ee9a3a"/><rect x="87.0" y="86.2" width="0.9" height="0.9" fill="#d8382a"/><rect x="85.8" y="92.8" width="1.1" height="1.1" fill="#dfe35a"/><rect x="72.7" y="70.2" width="1.4" height="1.4" fill="#dfe35a"/><rect x="89.7" y="77.4" width="1.4" height="1.4" fill="#d8382a"/><rect x="80.2" y="81.6" width="0.9" height="0.9" fill="#d8382a"/><rect x="78.2" y="88.2" width="1.1" height="1.1" fill="#a8da78"/><rect x="80.6" y="91.3" width="1.4" height="1.4" fill="#ee9a3a"/><rect x="76.9" y="81.0" width="1.1" height="1.1" fill="#d8382a"/><rect x="76.8" y="86.4" width="1.4" height="1.4" fill="#dfe35a"/><rect x="67.0" y="73.1" width="1.4" height="1.4" fill="#a8da78"/><rect x="84.9" y="85.3" width="1.4" height="1.4" fill="#ee9a3a"/><rect x="78.8" y="78.8" width="1.1" height="1.1" fill="#d8382a"/><rect x="76.7" y="93.6" width="0.9" height="0.9" fill="#a8da78"/><rect x="92.0" y="80.7" width="0.9" height="0.9" fill="#a8da78"/><rect x="84.7" y="69.7" width="0.9" height="0.9" fill="#d8382a"/><rect x="75.6" y="85.8" width="0.9" height="0.9" fill="#a8da78"/><rect x="75.8" y="80.4" width="1.1" height="1.1" fill="#dfe35a"/><rect x="87.4" y="80.0" width="0.9" height="0.9" fill="#d8382a"/><rect x="83.1" y="82.9" width="1.4" height="1.4" fill="#ee9a3a"/><rect x="83.4" y="73.4" width="0.9" height="0.9" fill="#a8da78"/><rect x="84.1" y="87.3" width="1.4" height="1.4" fill="#a8da78"/><rect x="79.5" y="75.4" width="1.4" height="1.4" fill="#d8382a"/><rect x="80.9" y="73.9" width="1.1" height="1.1" fill="#dfe35a"/><rect x="79.2" y="84.7" width="1.1" height="1.1" fill="#ee9a3a"/><rect x="82.0" y="79.0" width="1.4" height="1.4" fill="#a8da78"/><rect x="80.9" y="79.5" width="0.9" height="0.9" fill="#dfe35a"/><rect x="76.5" y="89.1" width="0.9" height="0.9" fill="#a8da78"/><rect x="77.4" y="88.2" width="1.4" height="1.4" fill="#a8da78"/><rect x="84.5" y="81.6" width="1.4" height="1.4" fill="#d8382a"/><rect x="81.3" y="89.0" width="1.4" height="1.4" fill="#ee9a3a"/><rect x="70.5" y="89.1" width="1.1" height="1.1" fill="#dfe35a"/><rect x="83.4" y="81.4" width="1.1" height="1.1" fill="#a8da78"/><rect x="76.4" y="85.6" width="1.1" height="1.1" fill="#dfe35a"/><rect x="83.5" y="79.9" width="1.4" height="1.4" fill="#a8da78"/><rect x="68.5" y="67.0" width="1.4" height="1.4" fill="#dfe35a"/><rect x="72.1" y="82.4" width="1.4" height="1.4" fill="#dfe35a"/><rect x="84.2" y="81.8" width="1.1" height="1.1" fill="#d8382a"/><rect x="89.7" y="75.0" width="1.4" height="1.4" fill="#a8da78"/><rect x="72.0" y="74.5" width="1.4" height="1.4" fill="#dfe35a"/><rect x="84.9" y="85.5" width="0.9" height="0.9" fill="#a8da78"/><rect x="85.7" y="76.9" width="0.9" height="0.9" fill="#d8382a"/><rect x="76.0" y="86.2" width="1.4" height="1.4" fill="#a8da78"/><rect x="92.0" y="100.2" width="1.1" height="1.1" fill="#dfe35a"/><rect x="88.5" y="86.5" width="1.1" height="1.1" fill="#dfe35a"/><rect x="90.0" y="83.7" width="1.4" height="1.4" fill="#a8da78"/><rect x="80.7" y="85.1" width="0.9" height="0.9" fill="#d8382a"/><rect x="93.9" y="74.3" width="0.9" height="0.9" fill="#d8382a"/><rect x="81.5" y="88.9" width="1.4" height="1.4" fill="#dfe35a"/><rect x="73.2" y="81.0" width="0.9" height="0.9" fill="#dfe35a"/><rect x="92.0" y="83.9" width="1.4" height="1.4" fill="#a8da78"/><rect x="82.0" y="81.6" width="0.9" height="0.9" fill="#ee9a3a"/><rect x="86.6" y="81.8" width="0.9" height="0.9" fill="#ee9a3a"/><rect x="76.0" y="72.0" width="0.9" height="0.9" fill="#ee9a3a"/><rect x="80.1" y="72.5" width="1.4" height="1.4" fill="#a8da78"/><rect x="92.5" y="80.0" width="1.1" height="1.1" fill="#dfe35a"/><rect x="84.2" y="83.5" width="1.4" height="1.4" fill="#d8382a"/><rect x="85.4" y="84.6" width="1.1" height="1.1" fill="#dfe35a"/><rect x="74.5" y="82.7" width="0.9" height="0.9" fill="#d8382a"/><rect x="75.0" y="76.2" width="1.1" height="1.1" fill="#dfe35a"/><rect x="95.0" y="78.4" width="1.4" height="1.4" fill="#dfe35a"/><rect x="66.5" y="81.7" width="1.1" height="1.1" fill="#dfe35a"/><rect x="69.6" y="92.0" width="0.9" height="0.9" fill="#a8da78"/><rect x="97.6" y="75.3" width="1.4" height="1.4" fill="#d8382a"/><rect x="81.4" y="78.8" width="0.9" height="0.9" fill="#ee9a3a"/><rect x="85.7" y="76.8" width="1.4" height="1.4" fill="#dfe35a"/><rect x="70.9" y="78.0" width="0.9" height="0.9" fill="#a8da78"/><rect x="85.4" y="88.2" width="1.4" height="1.4" fill="#a8da78"/><rect x="85.6" y="81.6" width="1.4" height="1.4" fill="#a8da78"/><rect x="84.0" y="68.3" width="1.1" height="1.1" fill="#dfe35a"/><rect x="84.1" y="77.3" width="1.4" height="1.4" fill="#a8da78"/><rect x="75.5" y="85.6" width="0.9" height="0.9" fill="#dfe35a"/><rect x="93.0" y="88.6" width="0.9" height="0.9" fill="#a8da78"/><rect x="83.7" y="88.7" width="1.4" height="1.4" fill="#a8da78"/><rect x="78.4" y="89.6" width="1.1" height="1.1" fill="#dfe35a"/><rect x="75.2" y="69.8" width="1.4" height="1.4" fill="#dfe35a"/><rect x="77.1" y="72.8" width="0.9" height="0.9" fill="#dfe35a"/><rect x="91.8" y="82.1" width="0.9" height="0.9" fill="#d8382a"/><rect x="94.1" y="86.0" width="1.1" height="1.1" fill="#dfe35a"/><rect x="85.0" y="75.5" width="0.9" height="0.9" fill="#a8da78"/><rect x="80.9" y="91.7" width="1.1" height="1.1" fill="#dfe35a"/><rect x="80.7" y="84.1" width="0.9" height="0.9" fill="#dfe35a"/><rect x="75.1" y="94.3" width="0.9" height="0.9" fill="#a8da78"/><rect x="83.8" y="87.6" width="0.9" height="0.9" fill="#dfe35a"/><rect x="92.4" y="74.0" width="1.1" height="1.1" fill="#dfe35a"/><rect x="79.4" y="89.4" width="0.9" height="0.9" fill="#d8382a"/><rect x="83.9" y="87.9" width="1.4" height="1.4" fill="#a8da78"/><rect x="91.8" y="86.9" width="0.9" height="0.9" fill="#a8da78"/><rect x="83.6" y="82.4" width="0.9" height="0.9" fill="#ee9a3a"/><rect x="82.3" y="84.6" width="1.4" height="1.4" fill="#a8da78"/><rect x="91.0" y="85.1" width="1.1" height="1.1" fill="#a8da78"/><rect x="84.4" y="75.3" width="1.4" height="1.4" fill="#dfe35a"/><rect x="86.2" y="87.7" width="0.9" height="0.9" fill="#dfe35a"/><rect x="80.3" y="87.8" width="1.4" height="1.4" fill="#d8382a"/><rect x="82.6" y="82.5" width="1.4" height="1.4" fill="#dfe35a"/><rect x="87.4" y="82.1" width="1.4" height="1.4" fill="#d8382a"/><rect x="76.7" y="81.8" width="1.4" height="1.4" fill="#d8382a"/><rect x="88.0" y="79.9" width="0.9" height="0.9" fill="#dfe35a"/><rect x="83.3" y="76.4" width="0.9" height="0.9" fill="#ee9a3a"/><rect x="80.6" y="86.7" width="0.9" height="0.9" fill="#dfe35a"/><rect x="82.4" y="86.1" width="1.1" height="1.1" fill="#d8382a"/><rect x="79.4" y="81.6" width="1.1" height="1.1" fill="#a8da78"/><rect x="67.0" y="77.1" width="1.1" height="1.1" fill="#dfe35a"/><rect x="88.7" y="78.0" width="1.4" height="1.4" fill="#dfe35a"/><rect x="87.5" y="81.3" width="0.9" height="0.9" fill="#dfe35a"/><rect x="85.1" y="85.5" width="1.4" height="1.4" fill="#a8da78"/><rect x="89.8" y="85.9" width="0.9" height="0.9" fill="#dfe35a"/><rect x="86.8" y="80.0" width="1.4" height="1.4" fill="#d8382a"/><rect x="89.3" y="80.1" width="1.1" height="1.1" fill="#dfe35a"/><rect x="85.4" y="78.7" width="1.4" height="1.4" fill="#dfe35a"/><rect x="82.2" y="83.1" width="0.9" height="0.9" fill="#dfe35a"/><rect x="87.0" y="77.3" width="1.1" height="1.1" fill="#d8382a"/><rect x="79.1" y="89.5" width="1.1" height="1.1" fill="#d8382a"/><rect x="89.7" y="89.3" width="0.9" height="0.9" fill="#a8da78"/><rect x="82.5" y="66.7" width="1.1" height="1.1" fill="#dfe35a"/><rect x="70.8" y="73.7" width="0.9" height="0.9" fill="#d8382a"/><rect x="83.7" y="84.0" width="1.4" height="1.4" fill="#d8382a"/><rect x="82.3" y="71.3" width="0.9" height="0.9" fill="#a8da78"/><rect x="80.9" y="90.3" width="1.1" height="1.1" fill="#a8da78"/><rect x="87.1" y="97.5" width="0.9" height="0.9" fill="#dfe35a"/><rect x="81.2" y="81.5" width="1.1" height="1.1" fill="#a8da78"/><rect x="76.7" y="77.8" width="1.4" height="1.4" fill="#a8da78"/><rect x="82.9" y="73.9" width="1.4" height="1.4" fill="#a8da78"/><rect x="79.9" y="81.0" width="1.4" height="1.4" fill="#d8382a"/><rect x="78.1" y="77.6" width="1.1" height="1.1" fill="#a8da78"/><rect x="79.7" y="82.6" width="1.1" height="1.1" fill="#a8da78"/><rect x="79.1" y="85.8" width="1.4" height="1.4" fill="#d8382a"/><rect x="86.1" y="80.5" width="1.1" height="1.1" fill="#ee9a3a"/><rect x="85.8" y="65.3" width="1.1" height="1.1" fill="#dfe35a"/><rect x="75.5" y="78.9" width="0.9" height="0.9" fill="#dfe35a"/><rect x="77.1" y="83.6" width="0.9" height="0.9" fill="#ee9a3a"/><rect x="79.8" y="75.6" width="1.4" height="1.4" fill="#d8382a"/><rect x="81.5" y="88.9" width="1.1" height="1.1" fill="#a8da78"/><rect x="89.0" y="86.9" width="1.4" height="1.4" fill="#a8da78"/><rect x="89.5" y="83.8" width="1.4" height="1.4" fill="#d8382a"/><rect x="82.6" y="80.4" width="1.1" height="1.1" fill="#a8da78"/><rect x="71.5" y="84.7" width="0.9" height="0.9" fill="#d8382a"/><rect x="77.8" y="84.6" width="1.4" height="1.4" fill="#dfe35a"/><rect x="80.0" y="88.9" width="1.4" height="1.4" fill="#dfe35a"/><rect x="85.5" y="86.6" width="1.4" height="1.4" fill="#dfe35a"/><rect x="78.8" y="94.6" width="1.4" height="1.4" fill="#d8382a"/><rect x="87.7" y="84.7" width="0.9" height="0.9" fill="#d8382a"/><rect x="77.0" y="72.2" width="1.4" height="1.4" fill="#d8382a"/><rect x="85.0" y="94.3" width="1.4" height="1.4" fill="#d8382a"/><rect x="78.4" y="73.0" width="0.9" height="0.9" fill="#a8da78"/><rect x="77.5" y="86.9" width="1.1" height="1.1" fill="#ee9a3a"/><rect x="79.5" y="80.1" width="1.4" height="1.4" fill="#d8382a"/><rect x="75.3" y="95.2" width="1.4" height="1.4" fill="#dfe35a"/><rect x="81.9" y="83.7" width="1.1" height="1.1" fill="#d8382a"/><rect x="81.6" y="80.0" width="0.9" height="0.9" fill="#a8da78"/><rect x="71.7" y="79.0" width="0.9" height="0.9" fill="#a8da78"/><rect x="83.2" y="95.4" width="0.9" height="0.9" fill="#dfe35a"/><rect x="80.1" y="85.8" width="1.1" height="1.1" fill="#d8382a"/><rect x="85.1" y="75.8" width="1.4" height="1.4" fill="#d8382a"/><rect x="87.3" y="81.1" width="1.1" height="1.1" fill="#dfe35a"/><rect x="92.9" y="87.4" width="1.4" height="1.4" fill="#dfe35a"/><rect x="78.5" y="71.3" width="1.4" height="1.4" fill="#a8da78"/><rect x="78.4" y="61.6" width="1.1" height="1.1" fill="#dfe35a"/><rect x="89.4" y="85.3" width="1.4" height="1.4" fill="#dfe35a"/><rect x="80.9" y="80.6" width="1.4" height="1.4" fill="#dfe35a"/><rect x="86.2" y="75.8" width="1.1" height="1.1" fill="#a8da78"/><rect x="76.5" y="94.3" width="0.9" height="0.9" fill="#dfe35a"/><rect x="84.7" y="88.4" width="0.9" height="0.9" fill="#a8da78"/><rect x="86.9" y="81.9" width="1.4" height="1.4" fill="#dfe35a"/><rect x="69.2" y="77.0" width="0.9" height="0.9" fill="#dfe35a"/><rect x="79.5" y="78.2" width="1.1" height="1.1" fill="#d8382a"/><rect x="82.7" y="85.3" width="1.4" height="1.4" fill="#dfe35a"/><rect x="81.7" y="88.7" width="0.9" height="0.9" fill="#dfe35a"/><rect x="73.9" y="78.1" width="1.4" height="1.4" fill="#dfe35a"/><rect x="87.1" y="77.0" width="0.9" height="0.9" fill="#a8da78"/><rect x="78.9" y="81.5" width="1.4" height="1.4" fill="#a8da78"/><rect x="86.8" y="79.3" width="1.4" height="1.4" fill="#dfe35a"/><rect x="73.3" y="87.0" width="1.1" height="1.1" fill="#a8da78"/><rect x="76.0" y="78.1" width="0.9" height="0.9" fill="#ee9a3a"/><rect x="85.6" y="87.1" width="0.9" height="0.9" fill="#d8382a"/><rect x="79.8" y="81.8" width="0.9" height="0.9" fill="#ee9a3a"/><rect x="87.1" y="83.7" width="1.4" height="1.4" fill="#d8382a"/><rect x="79.9" y="75.8" width="1.4" height="1.4" fill="#a8da78"/><rect x="81.9" y="86.7" width="1.1" height="1.1" fill="#dfe35a"/><rect x="79.8" y="87.1" width="1.1" height="1.1" fill="#a8da78"/><rect x="79.0" y="83.8" width="1.4" height="1.4" fill="#ee9a3a"/><rect x="73.5" y="87.1" width="1.4" height="1.4" fill="#ee9a3a"/><rect x="66.7" y="76.3" width="0.9" height="0.9" fill="#dfe35a"/><rect x="84.4" y="88.0" width="0.9" height="0.9" fill="#dfe35a"/><rect x="90.7" y="66.9" width="1.4" height="1.4" fill="#dfe35a"/><rect x="71.5" y="76.2" width="1.4" height="1.4" fill="#dfe35a"/><rect x="89.7" y="87.4" width="0.9" height="0.9" fill="#dfe35a"/><rect x="79.6" y="79.0" width="1.1" height="1.1" fill="#ee9a3a"/><rect x="85.7" y="93.0" width="1.1" height="1.1" fill="#dfe35a"/><rect x="84.0" y="89.0" width="1.4" height="1.4" fill="#dfe35a"/><rect x="81.6" y="76.2" width="0.9" height="0.9" fill="#ee9a3a"/><rect x="87.0" y="89.8" width="1.1" height="1.1" fill="#ee9a3a"/><rect x="85.0" y="81.4" width="0.9" height="0.9" fill="#dfe35a"/><rect x="88.6" y="72.2" width="1.1" height="1.1" fill="#dfe35a"/><rect x="82.1" y="88.3" width="0.9" height="0.9" fill="#dfe35a"/><rect x="89.7" y="79.3" width="1.1" height="1.1" fill="#d8382a"/><rect x="84.1" y="85.8" width="1.4" height="1.4" fill="#dfe35a"/><rect x="83.5" y="68.0" width="1.4" height="1.4" fill="#dfe35a"/><rect x="83.3" y="72.7" width="0.9" height="0.9" fill="#dfe35a"/><rect x="86.8" y="88.0" width="1.1" height="1.1" fill="#d8382a"/><rect x="83.8" y="88.0" width="1.4" height="1.4" fill="#a8da78"/><rect x="85.5" y="69.7" width="1.1" height="1.1" fill="#dfe35a"/><rect x="78.0" y="80.0" width="1.4" height="1.4" fill="#ee9a3a"/><rect x="96.1" y="80.1" width="1.1" height="1.1" fill="#dfe35a"/><rect x="92.5" y="84.6" width="1.1" height="1.1" fill="#dfe35a"/><rect x="84.1" y="76.4" width="1.1" height="1.1" fill="#d8382a"/><rect x="79.7" y="85.8" width="1.4" height="1.4" fill="#a8da78"/><rect x="78.8" y="85.0" width="1.1" height="1.1" fill="#d8382a"/><rect x="78.2" y="78.0" width="1.4" height="1.4" fill="#d8382a"/><rect x="90.9" y="76.9" width="1.4" height="1.4" fill="#a8da78"/><rect x="74.9" y="78.0" width="1.1" height="1.1" fill="#dfe35a"/><rect x="76.9" y="82.0" width="1.1" height="1.1" fill="#d8382a"/><rect x="84.3" y="83.8" width="0.9" height="0.9" fill="#ee9a3a"/><rect x="67.3" y="76.1" width="1.4" height="1.4" fill="#dfe35a"/><rect x="79.4" y="71.9" width="1.4" height="1.4" fill="#dfe35a"/><rect x="92.5" y="78.7" width="1.4" height="1.4" fill="#dfe35a"/><rect x="87.6" y="80.6" width="1.4" height="1.4" fill="#dfe35a"/><rect x="76.6" y="85.7" width="0.9" height="0.9" fill="#d8382a"/><rect x="83.5" y="72.2" width="1.1" height="1.1" fill="#a8da78"/><rect x="79.6" y="83.0" width="0.9" height="0.9" fill="#ee9a3a"/><rect x="84.9" y="85.4" width="1.4" height="1.4" fill="#a8da78"/><rect x="79.9" y="74.5" width="1.4" height="1.4" fill="#ee9a3a"/><rect x="72.2" y="84.6" width="1.4" height="1.4" fill="#a8da78"/><rect x="92.2" y="91.2" width="1.4" height="1.4" fill="#dfe35a"/><rect x="85.5" y="87.3" width="1.4" height="1.4" fill="#dfe35a"/><rect x="83.6" y="81.4" width="0.9" height="0.9" fill="#a8da78"/><rect x="75.5" y="69.6" width="0.9" height="0.9" fill="#ee9a3a"/><rect x="93.7" y="81.3" width="0.9" height="0.9" fill="#ee9a3a"/><rect x="87.1" y="83.8" width="1.4" height="1.4" fill="#ee9a3a"/><rect x="73.2" y="86.6" width="1.1" height="1.1" fill="#dfe35a"/><rect x="68.7" y="80.6" width="0.9" height="0.9" fill="#dfe35a"/><rect x="79.2" y="68.7" width="1.1" height="1.1" fill="#a8da78"/><rect x="85.0" y="84.5" width="1.4" height="1.4" fill="#dfe35a"/><rect x="81.3" y="72.7" width="0.9" height="0.9" fill="#dfe35a"/><rect x="77.7" y="94.4" width="1.1" height="1.1" fill="#a8da78"/><rect x="71.3" y="94.9" width="1.4" height="1.4" fill="#dfe35a"/><rect x="68.3" y="75.7" width="0.9" height="0.9" fill="#dfe35a"/><rect x="90.0" y="74.1" width="1.1" height="1.1" fill="#dfe35a"/><rect x="88.1" y="82.4" width="1.4" height="1.4" fill="#dfe35a"/><rect x="81.8" y="88.8" width="1.1" height="1.1" fill="#dfe35a"/><rect x="72.1" y="93.0" width="0.9" height="0.9" fill="#dfe35a"/><rect x="77.3" y="80.4" width="0.9" height="0.9" fill="#a8da78"/><rect x="70.5" y="95.8" width="0.9" height="0.9" fill="#dfe35a"/><rect x="89.2" y="78.9" width="0.9" height="0.9" fill="#d8382a"/><rect x="84.4" y="86.2" width="1.4" height="1.4" fill="#dfe35a"/><rect x="80.7" y="85.5" width="1.4" height="1.4" fill="#dfe35a"/><rect x="82.6" y="64.5" width="1.4" height="1.4" fill="#dfe35a"/><rect x="82.8" y="81.0" width="1.1" height="1.1" fill="#a8da78"/><rect x="91.2" y="72.5" width="1.1" height="1.1" fill="#dfe35a"/><rect x="76.1" y="83.2" width="1.1" height="1.1" fill="#d8382a"/><rect x="85.9" y="76.3" width="1.1" height="1.1" fill="#dfe35a"/><rect x="75.4" y="82.1" width="1.4" height="1.4" fill="#a8da78"/><rect x="78.3" y="75.8" width="1.4" height="1.4" fill="#dfe35a"/><rect x="77.7" y="78.6" width="1.1" height="1.1" fill="#d8382a"/><rect x="85.0" y="66.9" width="1.4" height="1.4" fill="#a8da78"/><rect x="83.0" y="72.4" width="0.9" height="0.9" fill="#dfe35a"/><rect x="88.6" y="69.8" width="1.4" height="1.4" fill="#a8da78"/><rect x="86.9" y="87.3" width="1.1" height="1.1" fill="#a8da78"/><rect x="77.4" y="82.9" width="1.1" height="1.1" fill="#a8da78"/><rect x="71.3" y="85.8" width="0.9" height="0.9" fill="#dfe35a"/><rect x="82.3" y="82.7" width="1.4" height="1.4" fill="#ee9a3a"/><rect x="71.3" y="85.9" width="0.9" height="0.9" fill="#a8da78"/><rect x="77.9" y="76.2" width="0.9" height="0.9" fill="#d8382a"/><rect x="78.6" y="86.8" width="1.1" height="1.1" fill="#ee9a3a"/><rect x="76.6" y="79.3" width="1.1" height="1.1" fill="#dfe35a"/><rect x="78.9" y="80.7" width="0.9" height="0.9" fill="#dfe35a"/><rect x="84.4" y="96.6" width="1.1" height="1.1" fill="#ee9a3a"/><rect x="83.0" y="89.3" width="0.9" height="0.9" fill="#dfe35a"/><rect x="84.4" y="69.6" width="0.9" height="0.9" fill="#dfe35a"/><rect x="79.2" y="76.9" width="0.9" height="0.9" fill="#d8382a"/><rect x="79.6" y="76.6" width="1.4" height="1.4" fill="#a8da78"/><rect x="86.9" y="85.2" width="1.1" height="1.1" fill="#d8382a"/><rect x="81.8" y="84.3" width="0.9" height="0.9" fill="#ee9a3a"/><rect x="74.8" y="79.1" width="1.1" height="1.1" fill="#ee9a3a"/><rect x="79.4" y="75.0" width="1.1" height="1.1" fill="#dfe35a"/><rect x="80.9" y="89.3" width="1.4" height="1.4" fill="#ee9a3a"/><rect x="67.6" y="77.2" width="0.9" height="0.9" fill="#d8382a"/><rect x="85.4" y="85.2" width="1.1" height="1.1" fill="#d8382a"/><rect x="89.3" y="91.3" width="0.9" height="0.9" fill="#dfe35a"/><rect x="79.0" y="78.8" width="1.1" height="1.1" fill="#dfe35a"/><rect x="78.4" y="77.9" width="1.1" height="1.1" fill="#a8da78"/><rect x="79.2" y="83.7" width="1.1" height="1.1" fill="#ee9a3a"/><rect x="87.2" y="86.5" width="0.9" height="0.9" fill="#dfe35a"/><rect x="81.3" y="75.1" width="1.4" height="1.4" fill="#d8382a"/><rect x="83.5" y="82.8" width="0.9" height="0.9" fill="#a8da78"/><rect x="91.9" y="86.7" width="1.4" height="1.4" fill="#d8382a"/><rect x="91.2" y="99.2" width="0.9" height="0.9" fill="#dfe35a"/><rect x="84.9" y="81.5" width="0.9" height="0.9" fill="#d8382a"/><rect x="77.4" y="89.0" width="1.4" height="1.4" fill="#dfe35a"/><rect x="83.9" y="74.5" width="1.4" height="1.4" fill="#dfe35a"/><rect x="83.1" y="85.3" width="1.4" height="1.4" fill="#dfe35a"/><rect x="82.0" y="78.5" width="1.1" height="1.1" fill="#a8da78"/><rect x="80.5" y="81.3" width="1.4" height="1.4" fill="#dfe35a"/><rect x="82.8" y="85.3" width="0.9" height="0.9" fill="#dfe35a"/><rect x="84.4" y="79.0" width="0.9" height="0.9" fill="#d8382a"/><rect x="84.2" y="81.5" width="1.1" height="1.1" fill="#ee9a3a"/><rect x="85.1" y="81.3" width="1.4" height="1.4" fill="#a8da78"/><rect x="90.2" y="87.0" width="1.4" height="1.4" fill="#dfe35a"/><rect x="81.1" y="82.9" width="1.4" height="1.4" fill="#ee9a3a"/><rect x="75.1" y="76.5" width="1.1" height="1.1" fill="#dfe35a"/><rect x="91.1" y="74.7" width="1.4" height="1.4" fill="#dfe35a"/><rect x="84.9" y="89.5" width="0.9" height="0.9" fill="#dfe35a"/><rect x="82.8" y="83.1" width="0.9" height="0.9" fill="#ee9a3a"/><rect x="88.6" y="84.0" width="1.4" height="1.4" fill="#ee9a3a"/><rect x="91.7" y="66.9" width="1.1" height="1.1" fill="#dfe35a"/><rect x="81.8" y="80.0" width="1.4" height="1.4" fill="#d8382a"/><rect x="84.1" y="77.6" width="1.1" height="1.1" fill="#dfe35a"/><rect x="74.8" y="79.1" width="1.4" height="1.4" fill="#ee9a3a"/><rect x="84.0" y="85.0" width="0.9" height="0.9" fill="#ee9a3a"/><rect x="73.7" y="89.3" width="1.1" height="1.1" fill="#d8382a"/><rect x="75.8" y="76.8" width="1.1" height="1.1" fill="#d8382a"/><rect x="76.2" y="84.3" width="1.1" height="1.1" fill="#d8382a"/><rect x="84.9" y="95.8" width="1.1" height="1.1" fill="#dfe35a"/><rect x="75.6" y="85.4" width="1.4" height="1.4" fill="#a8da78"/><rect x="81.9" y="87.5" width="1.4" height="1.4" fill="#dfe35a"/><rect x="89.1" y="81.0" width="1.4" height="1.4" fill="#ee9a3a"/><rect x="77.0" y="78.6" width="0.9" height="0.9" fill="#d8382a"/><rect x="78.8" y="75.1" width="0.9" height="0.9" fill="#d8382a"/><rect x="86.1" y="93.6" width="1.1" height="1.1" fill="#dfe35a"/><rect x="79.7" y="87.4" width="0.9" height="0.9" fill="#ee9a3a"/><rect x="78.2" y="77.0" width="1.1" height="1.1" fill="#ee9a3a"/><rect x="91.3" y="75.7" width="0.9" height="0.9" fill="#dfe35a"/><rect x="84.2" y="84.3" width="1.1" height="1.1" fill="#d8382a"/><rect x="81.2" y="85.0" width="1.4" height="1.4" fill="#d8382a"/><rect x="87.0" y="76.5" width="0.9" height="0.9" fill="#a8da78"/><rect x="79.9" y="83.0" width="1.4" height="1.4" fill="#dfe35a"/><rect x="80.7" y="66.0" width="1.4" height="1.4" fill="#dfe35a"/><rect x="87.4" y="83.8" width="0.9" height="0.9" fill="#ee9a3a"/><rect x="90.4" y="78.7" width="1.4" height="1.4" fill="#ee9a3a"/><rect x="77.1" y="94.1" width="1.1" height="1.1" fill="#d8382a"/><rect x="71.8" y="82.5" width="1.4" height="1.4" fill="#a8da78"/><rect x="76.4" y="86.5" width="1.4" height="1.4" fill="#dfe35a"/><rect x="78.8" y="73.2" width="0.9" height="0.9" fill="#a8da78"/><rect x="72.5" y="74.2" width="1.4" height="1.4" fill="#dfe35a"/><rect x="90.7" y="86.8" width="1.1" height="1.1" fill="#a8da78"/><rect x="88.9" y="76.5" width="1.4" height="1.4" fill="#dfe35a"/><rect x="88.2" y="80.7" width="1.1" height="1.1" fill="#dfe35a"/><rect x="80.9" y="83.5" width="1.1" height="1.1" fill="#dfe35a"/><rect x="77.3" y="90.2" width="1.1" height="1.1" fill="#dfe35a"/><rect x="85.6" y="89.4" width="1.4" height="1.4" fill="#dfe35a"/><rect x="88.7" y="92.2" width="1.4" height="1.4" fill="#ee9a3a"/><rect x="86.3" y="75.0" width="0.9" height="0.9" fill="#dfe35a"/><rect x="84.2" y="77.2" width="1.1" height="1.1" fill="#ee9a3a"/><rect x="88.6" y="67.5" width="1.4" height="1.4" fill="#dfe35a"/><rect x="87.3" y="83.1" width="1.4" height="1.4" fill="#d8382a"/><rect x="77.1" y="77.2" width="0.9" height="0.9" fill="#d8382a"/><rect x="87.1" y="87.8" width="1.4" height="1.4" fill="#dfe35a"/><rect x="70.1" y="91.4" width="1.1" height="1.1" fill="#a8da78"/><rect x="69.6" y="98.4" width="1.1" height="1.1" fill="#a8da78"/><rect x="82.8" y="82.5" width="0.9" height="0.9" fill="#dfe35a"/><rect x="82.1" y="82.1" width="1.1" height="1.1" fill="#dfe35a"/><rect x="95.1" y="76.9" width="1.4" height="1.4" fill="#dfe35a"/><rect x="79.1" y="86.4" width="1.1" height="1.1" fill="#d8382a"/><rect x="80.1" y="81.6" width="0.9" height="0.9" fill="#a8da78"/><rect x="89.9" y="81.0" width="0.9" height="0.9" fill="#ee9a3a"/><rect x="75.3" y="85.6" width="1.4" height="1.4" fill="#d8382a"/><rect x="78.5" y="75.2" width="1.1" height="1.1" fill="#a8da78"/><rect x="73.1" y="80.1" width="1.1" height="1.1" fill="#ee9a3a"/><rect x="75.9" y="77.5" width="1.1" height="1.1" fill="#dfe35a"/><rect x="87.0" y="81.8" width="1.1" height="1.1" fill="#dfe35a"/><rect x="81.6" y="86.9" width="1.4" height="1.4" fill="#ee9a3a"/><rect x="85.0" y="76.5" width="1.4" height="1.4" fill="#dfe35a"/><rect x="86.7" y="87.1" width="1.4" height="1.4" fill="#d8382a"/><rect x="78.0" y="92.9" width="0.9" height="0.9" fill="#dfe35a"/><rect x="82.8" y="78.4" width="1.4" height="1.4" fill="#ee9a3a"/><rect x="77.0" y="70.9" width="0.9" height="0.9" fill="#a8da78"/><rect x="84.3" y="69.5" width="1.1" height="1.1" fill="#ee9a3a"/><rect x="82.3" y="78.9" width="1.4" height="1.4" fill="#dfe35a"/><rect x="71.1" y="84.5" width="0.9" height="0.9" fill="#dfe35a"/><rect x="81.7" y="68.8" width="1.1" height="1.1" fill="#dfe35a"/><rect x="79.3" y="92.0" width="0.9" height="0.9" fill="#a8da78"/><rect x="74.8" y="84.5" width="0.9" height="0.9" fill="#dfe35a"/><rect x="78.7" y="86.3" width="0.9" height="0.9" fill="#d8382a"/><rect x="80.2" y="78.3" width="1.1" height="1.1" fill="#ee9a3a"/><rect x="80.5" y="90.7" width="1.1" height="1.1" fill="#d8382a"/><rect x="89.4" y="82.2" width="1.1" height="1.1" fill="#dfe35a"/><rect x="80.2" y="82.8" width="0.9" height="0.9" fill="#ee9a3a"/><rect x="75.0" y="84.1" width="1.4" height="1.4" fill="#ee9a3a"/><rect x="89.9" y="97.9" width="1.4" height="1.4" fill="#a8da78"/><rect x="90.2" y="70.5" width="0.9" height="0.9" fill="#dfe35a"/><rect x="81.0" y="84.3" width="1.1" height="1.1" fill="#dfe35a"/><rect x="89.9" y="97.3" width="0.9" height="0.9" fill="#dfe35a"/><rect x="78.1" y="84.4" width="1.1" height="1.1" fill="#a8da78"/><rect x="89.5" y="77.7" width="0.9" height="0.9" fill="#ee9a3a"/><rect x="80.0" y="83.6" width="1.1" height="1.1" fill="#a8da78"/><rect x="77.5" y="80.2" width="1.4" height="1.4" fill="#dfe35a"/><rect x="80.3" y="79.2" width="1.1" height="1.1" fill="#dfe35a"/><rect x="85.1" y="75.9" width="1.1" height="1.1" fill="#dfe35a"/><rect x="85.3" y="91.1" width="1.4" height="1.4" fill="#dfe35a"/><rect x="85.8" y="82.0" width="1.1" height="1.1" fill="#a8da78"/><rect x="86.0" y="81.5" width="0.9" height="0.9" fill="#dfe35a"/><rect x="86.5" y="82.5" width="1.4" height="1.4" fill="#a8da78"/><rect x="67.3" y="90.8" width="1.4" height="1.4" fill="#d8382a"/><rect x="93.5" y="79.1" width="1.4" height="1.4" fill="#dfe35a"/><rect x="79.8" y="84.9" width="1.4" height="1.4" fill="#ee9a3a"/><rect x="80.1" y="86.2" width="1.1" height="1.1" fill="#d8382a"/><rect x="83.8" y="72.9" width="1.4" height="1.4" fill="#d8382a"/><rect x="78.5" y="85.2" width="0.9" height="0.9" fill="#dfe35a"/><rect x="84.8" y="81.1" width="1.4" height="1.4" fill="#a8da78"/><rect x="74.4" y="76.2" width="1.1" height="1.1" fill="#dfe35a"/><rect x="74.8" y="74.0" width="1.1" height="1.1" fill="#dfe35a"/><rect x="90.1" y="84.1" width="1.4" height="1.4" fill="#dfe35a"/><rect x="79.2" y="82.3" width="0.9" height="0.9" fill="#ee9a3a"/><rect x="91.5" y="81.0" width="1.4" height="1.4" fill="#dfe35a"/><rect x="100.3" y="88.3" width="0.9" height="0.9" fill="#a8da78"/><rect x="79.7" y="90.9" width="0.9" height="0.9" fill="#dfe35a"/><rect x="74.5" y="78.7" width="1.4" height="1.4" fill="#a8da78"/><rect x="90.2" y="86.6" width="1.4" height="1.4" fill="#a8da78"/><rect x="92.0" y="97.3" width="0.9" height="0.9" fill="#d8382a"/><rect x="91.0" y="84.0" width="0.9" height="0.9" fill="#dfe35a"/><rect x="83.4" y="83.8" width="1.4" height="1.4" fill="#dfe35a"/><rect x="75.3" y="76.1" width="1.1" height="1.1" fill="#a8da78"/><rect x="85.5" y="60.1" width="1.2" height="1.2" fill="#dfe35a"/><rect x="66.2" y="83.6" width="1.0" height="1.0" fill="#a8da78"/><rect x="62.1" y="83.2" width="0.8" height="0.8" fill="#a8da78"/><rect x="73.2" y="69.1" width="1.0" height="1.0" fill="#a8da78"/><rect x="62.4" y="102.2" width="1.2" height="1.2" fill="#dfe35a"/><rect x="76.8" y="68.1" width="1.0" height="1.0" fill="#a8da78"/><rect x="52.1" y="97.2" width="1.2" height="1.2" fill="#a8da78"/><rect x="84.6" y="96.4" width="1.2" height="1.2" fill="#dfe35a"/><rect x="88.3" y="85.5" width="1.0" height="1.0" fill="#dfe35a"/><rect x="94.1" y="91.8" width="1.0" height="1.0" fill="#dfe35a"/><rect x="70.5" y="65.5" width="1.2" height="1.2" fill="#a8da78"/><rect x="104.2" y="74.7" width="0.8" height="0.8" fill="#dfe35a"/><rect x="85.9" y="106.2" width="0.8" height="0.8" fill="#dfe35a"/><rect x="80.2" y="76.6" width="1.2" height="1.2" fill="#a8da78"/><rect x="81.3" y="101.0" width="1.0" height="1.0" fill="#a8da78"/><rect x="80.8" y="65.7" width="0.8" height="0.8" fill="#dfe35a"/><rect x="80.8" y="71.9" width="1.0" height="1.0" fill="#a8da78"/><rect x="104.1" y="104.3" width="0.8" height="0.8" fill="#a8da78"/><rect x="76.3" y="86.0" width="0.8" height="0.8" fill="#a8da78"/><rect x="85.6" y="81.7" width="0.8" height="0.8" fill="#dfe35a"/><rect x="76.6" y="96.3" width="0.8" height="0.8" fill="#dfe35a"/><rect x="89.0" y="92.3" width="1.0" height="1.0" fill="#dfe35a"/><rect x="69.9" y="69.4" width="0.8" height="0.8" fill="#dfe35a"/><rect x="100.5" y="75.8" width="0.8" height="0.8" fill="#dfe35a"/><rect x="62.9" y="79.0" width="1.0" height="1.0" fill="#dfe35a"/><rect x="73.1" y="78.1" width="0.8" height="0.8" fill="#dfe35a"/><rect x="83.2" y="65.7" width="1.0" height="1.0" fill="#ee9a3a"/><rect x="83.0" y="87.9" width="0.8" height="0.8" fill="#dfe35a"/><rect x="80.7" y="91.2" width="0.8" height="0.8" fill="#a8da78"/><rect x="70.4" y="69.5" width="0.8" height="0.8" fill="#a8da78"/><rect x="83.1" y="99.6" width="0.8" height="0.8" fill="#dfe35a"/><rect x="88.9" y="81.7" width="1.2" height="1.2" fill="#dfe35a"/><rect x="65.8" y="80.2" width="0.8" height="0.8" fill="#a8da78"/><rect x="80.3" y="107.7" width="1.0" height="1.0" fill="#a8da78"/><rect x="96.6" y="88.9" width="0.8" height="0.8" fill="#a8da78"/><rect x="97.9" y="94.7" width="1.2" height="1.2" fill="#a8da78"/><rect x="71.8" y="87.7" width="1.0" height="1.0" fill="#a8da78"/><rect x="63.7" y="71.4" width="1.2" height="1.2" fill="#dfe35a"/><rect x="89.7" y="95.5" width="1.0" height="1.0" fill="#dfe35a"/><rect x="84.3" y="63.8" width="1.0" height="1.0" fill="#dfe35a"/><rect x="86.9" y="97.2" width="1.0" height="1.0" fill="#dfe35a"/><rect x="104.3" y="91.2" width="1.2" height="1.2" fill="#a8da78"/><rect x="72.0" y="72.2" width="1.2" height="1.2" fill="#dfe35a"/><rect x="66.3" y="78.6" width="0.8" height="0.8" fill="#a8da78"/><rect x="69.4" y="70.8" width="1.0" height="1.0" fill="#a8da78"/><rect x="102.9" y="92.6" width="0.8" height="0.8" fill="#a8da78"/><rect x="52.7" y="71.9" width="1.2" height="1.2" fill="#dfe35a"/><rect x="83.8" y="91.2" width="0.8" height="0.8" fill="#a8da78"/><rect x="69.0" y="87.3" width="1.0" height="1.0" fill="#dfe35a"/><rect x="77.1" y="62.6" width="1.2" height="1.2" fill="#a8da78"/><rect x="101.9" y="97.6" width="1.2" height="1.2" fill="#dfe35a"/><rect x="92.5" y="79.2" width="1.2" height="1.2" fill="#a8da78"/><rect x="89.9" y="84.0" width="1.2" height="1.2" fill="#dfe35a"/><rect x="68.9" y="66.6" width="0.8" height="0.8" fill="#a8da78"/><rect x="82.2" y="84.5" width="1.2" height="1.2" fill="#dfe35a"/><rect x="87.4" y="105.5" width="1.2" height="1.2" fill="#a8da78"/><rect x="74.7" y="83.5" width="0.8" height="0.8" fill="#a8da78"/><rect x="71.4" y="64.9" width="0.8" height="0.8" fill="#a8da78"/><rect x="97.4" y="85.8" width="0.8" height="0.8" fill="#a8da78"/><rect x="89.2" y="69.7" width="0.8" height="0.8" fill="#dfe35a"/><rect x="80.6" y="91.6" width="1.0" height="1.0" fill="#a8da78"/><rect x="74.6" y="84.4" width="1.0" height="1.0" fill="#dfe35a"/><rect x="77.7" y="95.7" width="0.8" height="0.8" fill="#a8da78"/><rect x="96.2" y="88.0" width="1.0" height="1.0" fill="#dfe35a"/><rect x="84.8" y="97.2" width="1.2" height="1.2" fill="#dfe35a"/><rect x="91.0" y="72.1" width="1.2" height="1.2" fill="#ee9a3a"/><rect x="83.4" y="67.1" width="0.8" height="0.8" fill="#dfe35a"/><rect x="73.1" y="110.7" width="1.0" height="1.0" fill="#a8da78"/><rect x="76.6" y="107.2" width="0.8" height="0.8" fill="#a8da78"/><rect x="57.5" y="93.3" width="1.0" height="1.0" fill="#a8da78"/><rect x="103.3" y="73.6" width="1.2" height="1.2" fill="#a8da78"/><rect x="89.4" y="86.0" width="1.2" height="1.2" fill="#a8da78"/><rect x="83.2" y="79.2" width="1.0" height="1.0" fill="#dfe35a"/><rect x="79.5" y="83.1" width="1.2" height="1.2" fill="#dfe35a"/><rect x="74.7" y="60.6" width="1.0" height="1.0" fill="#a8da78"/><rect x="78.4" y="76.7" width="1.2" height="1.2" fill="#a8da78"/><rect x="71.2" y="72.2" width="1.2" height="1.2" fill="#dfe35a"/><rect x="70.6" y="85.2" width="1.2" height="1.2" fill="#a8da78"/><rect x="83.1" y="72.4" width="1.0" height="1.0" fill="#a8da78"/><rect x="73.9" y="81.1" width="0.8" height="0.8" fill="#dfe35a"/><rect x="83.1" y="75.2" width="1.0" height="1.0" fill="#dfe35a"/><rect x="62.6" y="77.6" width="1.2" height="1.2" fill="#dfe35a"/><rect x="81.2" y="86.7" width="0.8" height="0.8" fill="#a8da78"/><rect x="78.1" y="101.5" width="0.8" height="0.8" fill="#dfe35a"/><rect x="80.0" y="100.4" width="1.2" height="1.2" fill="#a8da78"/><rect x="61.4" y="85.4" width="1.0" height="1.0" fill="#dfe35a"/><rect x="69.2" y="78.3" width="1.2" height="1.2" fill="#dfe35a"/><rect x="84.3" y="107.7" width="0.8" height="0.8" fill="#a8da78"/><rect x="90.2" y="67.7" width="0.8" height="0.8" fill="#dfe35a"/><rect x="69.1" y="91.1" width="0.8" height="0.8" fill="#a8da78"/><rect x="94.7" y="108.0" width="1.0" height="1.0" fill="#dfe35a"/><rect x="80.9" y="95.2" width="1.2" height="1.2" fill="#dfe35a"/><rect x="81.4" y="71.0" width="1.0" height="1.0" fill="#a8da78"/><rect x="79.9" y="94.1" width="1.0" height="1.0" fill="#dfe35a"/><rect x="82.5" y="104.5" width="1.0" height="1.0" fill="#dfe35a"/><rect x="94.8" y="104.4" width="1.0" height="1.0" fill="#a8da78"/><rect x="66.4" y="79.8" width="0.8" height="0.8" fill="#a8da78"/><rect x="85.5" y="102.2" width="0.8" height="0.8" fill="#dfe35a"/><rect x="84.1" y="77.9" width="1.0" height="1.0" fill="#dfe35a"/><rect x="92.6" y="91.7" width="1.0" height="1.0" fill="#a8da78"/><rect x="79.6" y="97.4" width="0.8" height="0.8" fill="#dfe35a"/><rect x="92.4" y="79.4" width="1.0" height="1.0" fill="#a8da78"/><rect x="78.8" y="96.3" width="1.2" height="1.2" fill="#dfe35a"/><rect x="77.1" y="87.4" width="1.0" height="1.0" fill="#dfe35a"/><rect x="66.8" y="96.6" width="1.0" height="1.0" fill="#a8da78"/><rect x="100.4" y="85.4" width="1.2" height="1.2" fill="#a8da78"/><rect x="89.1" y="96.2" width="1.0" height="1.0" fill="#dfe35a"/><rect x="85.2" y="94.4" width="0.8" height="0.8" fill="#a8da78"/><rect x="64.7" y="76.8" width="1.0" height="1.0" fill="#a8da78"/><rect x="62.8" y="81.0" width="0.8" height="0.8" fill="#a8da78"/><rect x="80.4" y="95.9" width="1.2" height="1.2" fill="#dfe35a"/><rect x="68.5" y="67.0" width="0.8" height="0.8" fill="#dfe35a"/><rect x="83.8" y="81.0" width="0.8" height="0.8" fill="#ee9a3a"/><rect x="80.9" y="97.9" width="1.2" height="1.2" fill="#dfe35a"/><rect x="59.3" y="90.6" width="1.2" height="1.2" fill="#a8da78"/><rect x="83.0" y="75.6" width="0.8" height="0.8" fill="#dfe35a"/><rect x="88.0" y="85.6" width="1.2" height="1.2" fill="#dfe35a"/><rect x="79.0" y="78.5" width="1.0" height="1.0" fill="#a8da78"/><rect x="72.2" y="111.5" width="0.8" height="0.8" fill="#a8da78"/><rect x="82.5" y="92.3" width="1.2" height="1.2" fill="#a8da78"/><rect x="70.9" y="91.7" width="0.8" height="0.8" fill="#dfe35a"/><rect x="108.6" y="94.0" width="1.2" height="1.2" fill="#dfe35a"/><rect x="70.1" y="93.7" width="1.0" height="1.0" fill="#dfe35a"/><rect x="96.1" y="77.8" width="0.8" height="0.8" fill="#dfe35a"/><rect x="89.3" y="76.5" width="1.0" height="1.0" fill="#a8da78"/><rect x="84.4" y="104.7" width="1.0" height="1.0" fill="#a8da78"/><rect x="89.5" y="94.9" width="1.2" height="1.2" fill="#dfe35a"/><rect x="81.5" y="73.7" width="1.2" height="1.2" fill="#dfe35a"/><rect x="89.4" y="73.3" width="0.8" height="0.8" fill="#dfe35a"/><rect x="74.9" y="81.2" width="0.8" height="0.8" fill="#dfe35a"/><rect x="66.8" y="69.3" width="1.0" height="1.0" fill="#a8da78"/><rect x="69.8" y="57.9" width="0.8" height="0.8" fill="#dfe35a"/><rect x="89.0" y="71.7" width="1.0" height="1.0" fill="#dfe35a"/><rect x="60.3" y="79.0" width="0.8" height="0.8" fill="#dfe35a"/><rect x="82.6" y="94.1" width="1.2" height="1.2" fill="#a8da78"/><rect x="68.2" y="101.7" width="0.8" height="0.8" fill="#a8da78"/><rect x="96.7" y="91.9" width="0.8" height="0.8" fill="#a8da78"/><rect x="89.4" y="81.8" width="1.0" height="1.0" fill="#a8da78"/><rect x="80.7" y="69.4" width="1.0" height="1.0" fill="#dfe35a"/><rect x="94.6" y="78.1" width="0.8" height="0.8" fill="#dfe35a"/><rect x="69.5" y="70.7" width="1.0" height="1.0" fill="#a8da78"/><rect x="88.6" y="81.8" width="0.8" height="0.8" fill="#a8da78"/><rect x="86.4" y="83.6" width="1.0" height="1.0" fill="#a8da78"/><rect x="87.5" y="80.3" width="1.2" height="1.2" fill="#dfe35a"/><rect x="58.4" y="75.8" width="1.2" height="1.2" fill="#dfe35a"/><rect x="69.2" y="78.4" width="1.0" height="1.0" fill="#a8da78"/><rect x="78.7" y="76.7" width="1.0" height="1.0" fill="#dfe35a"/><rect x="89.2" y="90.1" width="1.2" height="1.2" fill="#a8da78"/><rect x="106.0" y="100.1" width="1.2" height="1.2" fill="#a8da78"/><rect x="106.5" y="88.3" width="0.8" height="0.8" fill="#dfe35a"/><rect x="95.6" y="90.9" width="1.2" height="1.2" fill="#dfe35a"/><rect x="103.8" y="88.0" width="1.0" height="1.0" fill="#dfe35a"/><rect x="71.4" y="81.0" width="0.8" height="0.8" fill="#a8da78"/><rect x="83.3" y="100.2" width="1.0" height="1.0" fill="#a8da78"/><rect x="99.9" y="79.3" width="1.0" height="1.0" fill="#dfe35a"/><rect x="64.8" y="93.7" width="0.8" height="0.8" fill="#a8da78"/><rect x="97.8" y="78.2" width="1.0" height="1.0" fill="#dfe35a"/><rect x="79.3" y="84.8" width="1.0" height="1.0" fill="#a8da78"/><rect x="104.1" y="85.2" width="0.8" height="0.8" fill="#a8da78"/><rect x="85.7" y="72.9" width="1.0" height="1.0" fill="#dfe35a"/><rect x="82.8" y="82.2" width="1.0" height="1.0" fill="#a8da78"/><rect x="83.5" y="81.3" width="1.2" height="1.2" fill="#a8da78"/><rect x="90.4" y="84.3" width="1.2" height="1.2" fill="#a8da78"/><rect x="69.9" y="109.3" width="1.2" height="1.2" fill="#dfe35a"/><rect x="90.4" y="63.4" width="0.8" height="0.8" fill="#a8da78"/><rect x="70.8" y="93.5" width="1.0" height="1.0" fill="#a8da78"/><rect x="87.8" y="74.9" width="1.2" height="1.2" fill="#dfe35a"/><rect x="71.4" y="74.6" width="0.8" height="0.8" fill="#dfe35a"/><rect x="74.9" y="78.8" width="1.0" height="1.0" fill="#a8da78"/><rect x="77.0" y="82.0" width="0.8" height="0.8" fill="#dfe35a"/><rect x="84.0" y="85.1" width="0.8" height="0.8" fill="#a8da78"/><rect x="76.1" y="73.1" width="1.0" height="1.0" fill="#dfe35a"/><rect x="70.3" y="92.3" width="1.2" height="1.2" fill="#dfe35a"/><rect x="74.1" y="63.4" width="1.2" height="1.2" fill="#dfe35a"/><rect x="77.5" y="90.5" width="1.2" height="1.2" fill="#dfe35a"/><rect x="88.9" y="90.4" width="1.0" height="1.0" fill="#a8da78"/><rect x="78.5" y="92.8" width="1.2" height="1.2" fill="#ee9a3a"/><rect x="83.3" y="113.7" width="1.2" height="1.2" fill="#a8da78"/><rect x="75.6" y="83.0" width="1.0" height="1.0" fill="#a8da78"/><rect x="66.8" y="77.7" width="1.0" height="1.0" fill="#a8da78"/><rect x="74.0" y="86.0" width="0.8" height="0.8" fill="#dfe35a"/><rect x="85.8" y="97.9" width="0.8" height="0.8" fill="#dfe35a"/><rect x="72.9" y="102.8" width="1.2" height="1.2" fill="#a8da78"/><rect x="92.1" y="99.2" width="1.2" height="1.2" fill="#dfe35a"/><rect x="74.7" y="82.3" width="1.2" height="1.2" fill="#a8da78"/><rect x="99.3" y="80.0" width="1.0" height="1.0" fill="#dfe35a"/><rect x="64.5" y="98.2" width="1.0" height="1.0" fill="#dfe35a"/><rect x="91.1" y="88.8" width="1.2" height="1.2" fill="#a8da78"/><rect x="68.7" y="81.8" width="0.8" height="0.8" fill="#a8da78"/><rect x="79.6" y="70.7" width="1.2" height="1.2" fill="#a8da78"/><rect x="68.2" y="85.1" width="0.8" height="0.8" fill="#a8da78"/><rect x="66.9" y="104.6" width="1.2" height="1.2" fill="#dfe35a"/><rect x="98.3" y="80.9" width="1.0" height="1.0" fill="#dfe35a"/><rect x="96.3" y="89.9" width="1.0" height="1.0" fill="#a8da78"/><rect x="84.5" y="81.1" width="1.2" height="1.2" fill="#a8da78"/><rect x="63.7" y="76.9" width="1.0" height="1.0" fill="#a8da78"/><rect x="90.0" y="96.3" width="1.2" height="1.2" fill="#dfe35a"/><rect x="85.5" y="83.3" width="1.2" height="1.2" fill="#dfe35a"/><rect x="70.0" y="74.1" width="0.8" height="0.8" fill="#a8da78"/><rect x="54.9" y="71.3" width="1.2" height="1.2" fill="#a8da78"/><rect x="93.4" y="90.0" width="0.8" height="0.8" fill="#dfe35a"/><rect x="75.4" y="99.4" width="0.8" height="0.8" fill="#a8da78"/><rect x="80.8" y="91.1" width="0.8" height="0.8" fill="#dfe35a"/><rect x="77.3" y="104.2" width="0.8" height="0.8" fill="#a8da78"/><rect x="79.0" y="75.2" width="1.2" height="1.2" fill="#dfe35a"/><rect x="85.0" y="103.5" width="0.8" height="0.8" fill="#a8da78"/><rect x="77.3" y="78.9" width="1.0" height="1.0" fill="#dfe35a"/><rect x="76.4" y="95.3" width="1.0" height="1.0" fill="#a8da78"/><rect x="75.8" y="111.0" width="1.2" height="1.2" fill="#a8da78"/><rect x="82.8" y="76.3" width="0.8" height="0.8" fill="#a8da78"/><rect x="68.8" y="87.8" width="0.8" height="0.8" fill="#a8da78"/><rect x="83.9" y="82.2" width="1.0" height="1.0" fill="#dfe35a"/><rect x="76.9" y="81.8" width="0.8" height="0.8" fill="#a8da78"/><rect x="82.9" y="101.3" width="0.8" height="0.8" fill="#dfe35a"/><rect x="87.1" y="92.0" width="1.2" height="1.2" fill="#a8da78"/><rect x="85.3" y="85.8" width="1.0" height="1.0" fill="#dfe35a"/><rect x="62.9" y="83.2" width="1.0" height="1.0" fill="#a8da78"/><rect x="101.4" y="85.7" width="0.8" height="0.8" fill="#a8da78"/><rect x="68.0" y="92.0" width="1.2" height="1.2" fill="#a8da78"/><rect x="74.4" y="63.6" width="1.2" height="1.2" fill="#dfe35a"/><rect x="80.1" y="65.5" width="1.0" height="1.0" fill="#dfe35a"/><rect x="93.8" y="88.0" width="1.0" height="1.0" fill="#dfe35a"/><rect x="92.6" y="95.6" width="1.0" height="1.0" fill="#dfe35a"/><rect x="103.2" y="89.1" width="1.2" height="1.2" fill="#a8da78"/><rect x="81.2" y="83.6" width="1.2" height="1.2" fill="#dfe35a"/><rect x="79.1" y="133.9" width="0.8" height="0.8" fill="#ee9a3a"/><rect x="81.7" y="129.7" width="1.2" height="1.2" fill="#a8da78"/><rect x="78.4" y="133.6" width="1.0" height="1.0" fill="#a8da78"/><rect x="81.1" y="133.0" width="0.8" height="0.8" fill="#dfe35a"/><rect x="80.3" y="133.0" width="1.0" height="1.0" fill="#a8da78"/><rect x="81.5" y="131.1" width="1.2" height="1.2" fill="#a8da78"/><rect x="82.6" y="131.0" width="1.0" height="1.0" fill="#a8da78"/><rect x="81.5" y="132.3" width="1.0" height="1.0" fill="#dfe35a"/><rect x="56.7" y="81.9" width="1.2" height="1.2" fill="#dfe35a"/><rect x="53.7" y="82.4" width="0.8" height="0.8" fill="#dfe35a"/><rect x="57.3" y="82.9" width="1.0" height="1.0" fill="#dfe35a"/><rect x="56.3" y="84.9" width="0.8" height="0.8" fill="#dfe35a"/><rect x="59.5" y="82.5" width="0.8" height="0.8" fill="#dfe35a"/><rect x="59.3" y="83.1" width="0.8" height="0.8" fill="#a8da78"/><rect x="58.1" y="83.4" width="0.8" height="0.8" fill="#dfe35a"/><rect x="55.9" y="84.0" width="1.2" height="1.2" fill="#ee9a3a"/><rect x="56.5" y="81.5" width="1.0" height="1.0" fill="#dfe35a"/><rect x="57.3" y="85.1" width="0.8" height="0.8" fill="#dfe35a"/><rect x="55.6" y="80.8" width="0.8" height="0.8" fill="#a8da78"/><rect x="60.5" y="82.3" width="1.0" height="1.0" fill="#dfe35a"/><rect x="55.8" y="83.7" width="0.8" height="0.8" fill="#dfe35a"/><rect x="45.6" y="104.4" width="1.0" height="1.0" fill="#dfe35a"/><rect x="42.6" y="102.8" width="1.0" height="1.0" fill="#dfe35a"/><rect x="45.9" y="103.6" width="1.0" height="1.0" fill="#ee9a3a"/><rect x="44.2" y="104.1" width="1.0" height="1.0" fill="#a8da78"/><rect x="45.2" y="101.7" width="0.8" height="0.8" fill="#a8da78"/><rect x="43.8" y="103.1" width="1.0" height="1.0" fill="#dfe35a"/><rect x="43.5" y="104.1" width="0.8" height="0.8" fill="#dfe35a"/><rect x="42.9" y="101.9" width="1.0" height="1.0" fill="#a8da78"/><rect x="45.6" y="102.3" width="1.0" height="1.0" fill="#ee9a3a"/><rect x="42.3" y="104.0" width="0.8" height="0.8" fill="#dfe35a"/><rect x="40.6" y="103.1" width="1.2" height="1.2" fill="#dfe35a"/><rect x="44.1" y="66.5" width="1.0" height="1.0" fill="#dfe35a"/><rect x="43.6" y="67.0" width="0.8" height="0.8" fill="#a8da78"/><rect x="44.7" y="70.4" width="1.2" height="1.2" fill="#dfe35a"/><rect x="47.6" y="66.1" width="0.8" height="0.8" fill="#a8da78"/><rect x="48.0" y="70.0" width="0.8" height="0.8" fill="#dfe35a"/><rect x="44.2" y="69.6" width="1.0" height="1.0" fill="#dfe35a"/><rect x="134.7" y="122.2" width="0.8" height="0.8" fill="#a8da78"/><rect x="134.6" y="120.8" width="0.8" height="0.8" fill="#dfe35a"/><rect x="134.2" y="119.7" width="0.8" height="0.8" fill="#dfe35a"/><rect x="135.3" y="118.4" width="1.2" height="1.2" fill="#dfe35a"/><rect x="134.1" y="122.6" width="0.8" height="0.8" fill="#dfe35a"/><rect x="133.4" y="120.9" width="0.8" height="0.8" fill="#dfe35a"/><rect x="136.3" y="118.8" width="0.8" height="0.8" fill="#dfe35a"/><rect x="133.0" y="121.4" width="1.2" height="1.2" fill="#ee9a3a"/><rect x="134.3" y="122.3" width="1.0" height="1.0" fill="#dfe35a"/><rect x="133.3" y="123.7" width="1.0" height="1.0" fill="#ee9a3a"/><rect x="135.7" y="122.7" width="1.2" height="1.2" fill="#dfe35a"/><rect x="104.4" y="89.0" width="1.0" height="1.0" fill="#a8da78"/><rect x="102.0" y="84.9" width="1.2" height="1.2" fill="#a8da78"/><rect x="103.8" y="89.8" width="1.0" height="1.0" fill="#dfe35a"/><rect x="103.4" y="91.5" width="0.8" height="0.8" fill="#a8da78"/><rect x="101.2" y="89.0" width="0.8" height="0.8" fill="#dfe35a"/><rect x="101.2" y="87.8" width="1.2" height="1.2" fill="#dfe35a"/><rect x="102.6" y="88.6" width="1.2" height="1.2" fill="#dfe35a"/><rect x="102.8" y="86.6" width="1.0" height="1.0" fill="#dfe35a"/><rect x="100.6" y="83.7" width="1.0" height="1.0" fill="#a8da78"/><rect x="102.3" y="87.5" width="0.8" height="0.8" fill="#ee9a3a"/><rect x="105.4" y="87.9" width="1.0" height="1.0" fill="#dfe35a"/><rect x="76.6" y="73.6" width="1.0" height="1.0" fill="#a8da78"/><rect x="78.6" y="72.5" width="1.2" height="1.2" fill="#a8da78"/><rect x="74.8" y="75.4" width="1.2" height="1.2" fill="#ee9a3a"/><rect x="77.6" y="73.0" width="1.0" height="1.0" fill="#dfe35a"/><rect x="79.2" y="73.9" width="0.8" height="0.8" fill="#dfe35a"/><rect x="78.8" y="71.1" width="0.8" height="0.8" fill="#dfe35a"/><rect x="58.0" y="127.9" width="1.0" height="1.0" fill="#a8da78"/><rect x="54.3" y="129.0" width="1.0" height="1.0" fill="#dfe35a"/><rect x="53.0" y="126.9" width="0.8" height="0.8" fill="#a8da78"/><rect x="56.2" y="129.2" width="1.0" height="1.0" fill="#dfe35a"/><rect x="53.4" y="129.2" width="0.8" height="0.8" fill="#dfe35a"/><rect x="53.5" y="127.1" width="1.2" height="1.2" fill="#a8da78"/><rect x="53.1" y="126.9" width="1.0" height="1.0" fill="#dfe35a"/><rect x="54.2" y="129.6" width="0.8" height="0.8" fill="#dfe35a"/><rect x="55.1" y="126.3" width="1.0" height="1.0" fill="#dfe35a"/><rect x="53.9" y="127.0" width="1.0" height="1.0" fill="#dfe35a"/><rect x="56.2" y="129.8" width="1.0" height="1.0" fill="#dfe35a"/><rect x="81.9" y="130.7" width="0.8" height="0.8" fill="#a8da78"/><rect x="84.8" y="130.0" width="0.8" height="0.8" fill="#a8da78"/><rect x="83.2" y="133.8" width="1.0" height="1.0" fill="#dfe35a"/><rect x="86.6" y="131.7" width="1.2" height="1.2" fill="#a8da78"/><rect x="83.0" y="131.7" width="1.2" height="1.2" fill="#a8da78"/><rect x="86.6" y="132.0" width="0.8" height="0.8" fill="#dfe35a"/><rect x="83.5" y="130.5" width="1.2" height="1.2" fill="#a8da78"/><rect x="85.6" y="130.4" width="0.8" height="0.8" fill="#dfe35a"/><rect x="83.9" y="129.8" width="0.8" height="0.8" fill="#dfe35a"/><rect x="84.6" y="135.7" width="1.2" height="1.2" fill="#a8da78"/><rect x="86.0" y="131.5" width="1.0" height="1.0" fill="#dfe35a"/><rect x="121.1" y="102.7" width="1.0" height="1.0" fill="#a8da78"/><rect x="123.9" y="100.4" width="0.8" height="0.8" fill="#a8da78"/><rect x="122.4" y="99.8" width="0.8" height="0.8" fill="#dfe35a"/><rect x="122.4" y="97.8" width="0.8" height="0.8" fill="#a8da78"/><rect x="122.7" y="103.9" width="1.2" height="1.2" fill="#dfe35a"/><rect x="124.1" y="101.8" width="0.8" height="0.8" fill="#dfe35a"/><rect x="122.2" y="100.8" width="1.2" height="1.2" fill="#dfe35a"/><rect x="123.4" y="100.5" width="0.8" height="0.8" fill="#a8da78"/><rect x="118.6" y="128.0" width="1.2" height="1.2" fill="#a8da78"/><rect x="119.2" y="128.0" width="0.8" height="0.8" fill="#a8da78"/><rect x="117.3" y="126.2" width="1.0" height="1.0" fill="#dfe35a"/><rect x="116.6" y="125.6" width="1.0" height="1.0" fill="#dfe35a"/><rect x="118.5" y="125.1" width="1.2" height="1.2" fill="#ee9a3a"/><rect x="119.8" y="126.1" width="1.0" height="1.0" fill="#dfe35a"/><rect x="44.3" y="105.8" width="1.0" height="1.0" fill="#ee9a3a"/><rect x="43.3" y="102.7" width="1.0" height="1.0" fill="#dfe35a"/><rect x="44.9" y="103.3" width="0.8" height="0.8" fill="#a8da78"/><rect x="45.3" y="104.5" width="0.8" height="0.8" fill="#a8da78"/><rect x="44.2" y="103.1" width="1.2" height="1.2" fill="#dfe35a"/><rect x="41.7" y="102.6" width="1.2" height="1.2" fill="#dfe35a"/><rect x="95.6" y="90.4" width="1.2" height="1.2" fill="#a8da78"/><rect x="98.4" y="91.7" width="1.0" height="1.0" fill="#a8da78"/><rect x="97.4" y="92.2" width="0.8" height="0.8" fill="#dfe35a"/><rect x="93.4" y="89.2" width="0.8" height="0.8" fill="#a8da78"/><rect x="93.7" y="92.8" width="1.2" height="1.2" fill="#dfe35a"/><rect x="95.7" y="94.6" width="1.0" height="1.0" fill="#a8da78"/><rect x="96.1" y="92.7" width="0.8" height="0.8" fill="#dfe35a"/><rect x="97.2" y="92.3" width="1.2" height="1.2" fill="#a8da78"/><rect x="96.3" y="91.2" width="1.0" height="1.0" fill="#dfe35a"/><rect x="95.8" y="88.6" width="0.8" height="0.8" fill="#dfe35a"/><rect x="96.9" y="88.2" width="1.2" height="1.2" fill="#dfe35a"/><rect x="94.8" y="91.6" width="1.2" height="1.2" fill="#a8da78"/><rect x="96.0" y="92.5" width="1.2" height="1.2" fill="#a8da78"/><rect x="57.2" y="88.2" width="0.8" height="0.8" fill="#a8da78"/><rect x="59.4" y="84.1" width="1.2" height="1.2" fill="#dfe35a"/><rect x="54.4" y="87.0" width="1.2" height="1.2" fill="#dfe35a"/><rect x="54.5" y="89.1" width="0.8" height="0.8" fill="#dfe35a"/><rect x="52.3" y="86.0" width="1.2" height="1.2" fill="#a8da78"/><rect x="58.5" y="89.6" width="1.2" height="1.2" fill="#a8da78"/><rect x="56.6" y="86.5" width="1.0" height="1.0" fill="#dfe35a"/><rect x="55.0" y="87.5" width="1.0" height="1.0" fill="#dfe35a"/><rect x="55.9" y="85.9" width="1.2" height="1.2" fill="#dfe35a"/><rect x="126.2" y="104.4" width="1.0" height="1.0" fill="#a8da78"/><rect x="121.8" y="106.2" width="1.2" height="1.2" fill="#dfe35a"/><rect x="124.4" y="105.3" width="1.2" height="1.2" fill="#dfe35a"/><rect x="124.8" y="104.1" width="1.0" height="1.0" fill="#a8da78"/><rect x="120.8" y="109.4" width="0.8" height="0.8" fill="#dfe35a"/><rect x="122.6" y="106.5" width="0.8" height="0.8" fill="#a8da78"/><rect x="55.5" y="123.1" width="1.0" height="1.0" fill="#dfe35a"/><rect x="54.7" y="121.3" width="1.2" height="1.2" fill="#dfe35a"/><rect x="54.4" y="120.8" width="0.8" height="0.8" fill="#a8da78"/><rect x="55.9" y="121.0" width="0.8" height="0.8" fill="#dfe35a"/><rect x="54.9" y="118.8" width="1.0" height="1.0" fill="#a8da78"/><rect x="54.5" y="115.7" width="1.0" height="1.0" fill="#a8da78"/><rect x="55.0" y="120.3" width="1.2" height="1.2" fill="#a8da78"/><rect x="55.0" y="117.9" width="1.0" height="1.0" fill="#ee9a3a"/><rect x="56.4" y="119.8" width="1.0" height="1.0" fill="#dfe35a"/><rect x="55.3" y="119.9" width="1.0" height="1.0" fill="#dfe35a"/><rect x="56.2" y="119.1" width="0.8" height="0.8" fill="#a8da78"/><rect x="53.0" y="119.3" width="0.8" height="0.8" fill="#dfe35a"/><rect x="118.7" y="94.3" width="1.2" height="1.2" fill="#a8da78"/><rect x="115.4" y="93.2" width="0.8" height="0.8" fill="#a8da78"/><rect x="113.8" y="95.6" width="1.0" height="1.0" fill="#dfe35a"/><rect x="113.6" y="96.5" width="1.0" height="1.0" fill="#dfe35a"/><rect x="113.5" y="93.4" width="0.8" height="0.8" fill="#ee9a3a"/><rect x="118.1" y="94.5" width="1.0" height="1.0" fill="#ee9a3a"/><rect x="119.3" y="96.9" width="1.2" height="1.2" fill="#dfe35a"/><rect x="114.8" y="96.0" width="0.8" height="0.8" fill="#dfe35a"/><rect x="116.2" y="96.2" width="1.0" height="1.0" fill="#dfe35a"/><rect x="114.6" y="91.6" width="1.0" height="1.0" fill="#a8da78"/><rect x="116.7" y="92.6" width="0.8" height="0.8" fill="#dfe35a"/><rect x="71.9" y="65.5" width="1.0" height="1.0" fill="#dfe35a"/><rect x="73.4" y="67.2" width="1.2" height="1.2" fill="#dfe35a"/><rect x="75.1" y="64.1" width="1.2" height="1.2" fill="#dfe35a"/><rect x="72.3" y="64.5" width="1.0" height="1.0" fill="#a8da78"/><rect x="74.1" y="62.6" width="1.0" height="1.0" fill="#dfe35a"/><rect x="71.3" y="64.9" width="0.8" height="0.8" fill="#a8da78"/><rect x="74.9" y="66.4" width="0.8" height="0.8" fill="#dfe35a"/><rect x="73.8" y="63.9" width="0.8" height="0.8" fill="#a8da78"/><rect x="60.7" y="91.2" width="1.0" height="1.0" fill="#dfe35a"/><rect x="58.2" y="91.5" width="1.0" height="1.0" fill="#a8da78"/><rect x="57.0" y="90.3" width="1.0" height="1.0" fill="#dfe35a"/><rect x="59.0" y="94.1" width="0.8" height="0.8" fill="#dfe35a"/><rect x="60.1" y="93.0" width="1.2" height="1.2" fill="#dfe35a"/><rect x="75.3" y="70.9" width="0.8" height="0.8" fill="#a8da78"/><rect x="78.4" y="69.2" width="0.8" height="0.8" fill="#a8da78"/><rect x="76.9" y="68.1" width="1.0" height="1.0" fill="#a8da78"/><rect x="79.5" y="70.4" width="1.0" height="1.0" fill="#dfe35a"/><rect x="77.2" y="68.5" width="1.2" height="1.2" fill="#dfe35a"/><rect x="75.8" y="68.8" width="1.0" height="1.0" fill="#dfe35a"/><rect x="80.9" y="70.1" width="1.0" height="1.0" fill="#dfe35a"/><rect x="79.3" y="68.5" width="1.2" height="1.2" fill="#a8da78"/><rect x="82.7" y="77.2" width="1.0" height="1.0" fill="#dfe35a"/><rect x="83.5" y="79.5" width="1.2" height="1.2" fill="#dfe35a"/><rect x="81.7" y="81.5" width="1.2" height="1.2" fill="#a8da78"/><rect x="84.1" y="80.4" width="1.0" height="1.0" fill="#a8da78"/><rect x="81.7" y="79.3" width="1.0" height="1.0" fill="#a8da78"/><rect x="80.9" y="80.5" width="1.0" height="1.0" fill="#dfe35a"/><rect x="82.9" y="78.1" width="1.2" height="1.2" fill="#a8da78"/><rect x="82.5" y="77.4" width="1.0" height="1.0" fill="#a8da78"/><rect x="80.6" y="78.5" width="1.2" height="1.2" fill="#dfe35a"/><rect x="78.8" y="81.1" width="0.8" height="0.8" fill="#dfe35a"/><rect x="80.1" y="99.2" width="1.0" height="1.0" fill="#dfe35a"/><rect x="77.5" y="99.3" width="0.8" height="0.8" fill="#a8da78"/><rect x="76.1" y="100.7" width="0.8" height="0.8" fill="#dfe35a"/><rect x="74.3" y="100.5" width="1.0" height="1.0" fill="#a8da78"/><rect x="76.6" y="98.1" width="1.2" height="1.2" fill="#dfe35a"/><rect x="76.0" y="101.4" width="1.0" height="1.0" fill="#dfe35a"/><rect x="76.0" y="101.2" width="1.2" height="1.2" fill="#a8da78"/><rect x="74.2" y="118.4" width="0.8" height="0.8" fill="#a8da78"/><rect x="74.4" y="117.8" width="1.0" height="1.0" fill="#dfe35a"/><rect x="77.6" y="121.4" width="0.8" height="0.8" fill="#dfe35a"/><rect x="75.7" y="116.7" width="0.8" height="0.8" fill="#dfe35a"/><rect x="74.8" y="117.4" width="0.8" height="0.8" fill="#a8da78"/><rect x="72.3" y="116.7" width="1.0" height="1.0" fill="#a8da78"/><rect x="75.8" y="118.4" width="0.8" height="0.8" fill="#dfe35a"/><rect x="74.3" y="121.1" width="1.0" height="1.0" fill="#a8da78"/><rect x="73.5" y="121.4" width="1.0" height="1.0" fill="#dfe35a"/><rect x="79.4" y="54.2" width="1.0" height="1.0" fill="#dfe35a"/><rect x="77.9" y="52.5" width="1.0" height="1.0" fill="#dfe35a"/><rect x="81.5" y="56.9" width="1.0" height="1.0" fill="#dfe35a"/><rect x="79.5" y="55.3" width="0.8" height="0.8" fill="#a8da78"/><rect x="82.2" y="56.9" width="1.0" height="1.0" fill="#a8da78"/><rect x="80.0" y="56.2" width="0.8" height="0.8" fill="#dfe35a"/><rect x="77.9" y="57.2" width="0.8" height="0.8" fill="#a8da78"/><rect x="80.2" y="55.4" width="0.8" height="0.8" fill="#dfe35a"/><rect x="79.8" y="55.8" width="1.2" height="1.2" fill="#a8da78"/><rect x="137.8" y="125.5" width="0.8" height="0.8" fill="#dfe35a"/><rect x="135.0" y="127.6" width="1.0" height="1.0" fill="#a8da78"/><rect x="133.7" y="125.2" width="1.0" height="1.0" fill="#dfe35a"/><rect x="134.4" y="127.8" width="0.8" height="0.8" fill="#dfe35a"/><rect x="134.6" y="126.1" width="1.2" height="1.2" fill="#a8da78"/><rect x="135.5" y="125.1" width="0.8" height="0.8" fill="#a8da78"/><rect x="73.5" y="141.8" width="0.8" height="0.8" fill="#dfe35a"/><rect x="75.6" y="138.8" width="0.8" height="0.8" fill="#dfe35a"/><rect x="76.6" y="142.4" width="1.0" height="1.0" fill="#dfe35a"/><rect x="74.8" y="140.9" width="1.2" height="1.2" fill="#dfe35a"/><rect x="74.5" y="143.3" width="0.8" height="0.8" fill="#dfe35a"/><rect x="110.8" y="96.3" width="0.8" height="0.8" fill="#dfe35a"/><rect x="113.2" y="94.0" width="1.0" height="1.0" fill="#a8da78"/><rect x="112.8" y="95.1" width="1.0" height="1.0" fill="#dfe35a"/><rect x="114.6" y="97.4" width="1.2" height="1.2" fill="#dfe35a"/><rect x="117.1" y="96.5" width="1.2" height="1.2" fill="#dfe35a"/><rect x="113.8" y="97.0" width="1.2" height="1.2" fill="#dfe35a"/><rect x="114.4" y="91.4" width="0.8" height="0.8" fill="#a8da78"/><rect x="115.6" y="97.8" width="1.2" height="1.2" fill="#dfe35a"/><rect x="112.4" y="95.2" width="0.8" height="0.8" fill="#a8da78"/><rect x="114.2" y="94.7" width="0.8" height="0.8" fill="#dfe35a"/><rect x="101.7" y="112.1" width="0.8" height="0.8" fill="#dfe35a"/><rect x="103.9" y="110.0" width="1.2" height="1.2" fill="#dfe35a"/><rect x="99.8" y="106.9" width="1.0" height="1.0" fill="#dfe35a"/><rect x="101.3" y="112.2" width="1.2" height="1.2" fill="#a8da78"/><rect x="102.9" y="109.4" width="1.2" height="1.2" fill="#dfe35a"/><rect x="103.7" y="110.3" width="0.8" height="0.8" fill="#dfe35a"/><rect x="104.2" y="109.1" width="0.8" height="0.8" fill="#a8da78"/><rect x="59.7" y="97.8" width="0.8" height="0.8" fill="#ee9a3a"/><rect x="62.3" y="98.5" width="1.0" height="1.0" fill="#dfe35a"/><rect x="61.8" y="101.7" width="0.8" height="0.8" fill="#dfe35a"/><rect x="63.2" y="100.5" width="1.0" height="1.0" fill="#a8da78"/><rect x="63.2" y="99.3" width="0.8" height="0.8" fill="#a8da78"/><rect x="59.8" y="103.3" width="0.8" height="0.8" fill="#dfe35a"/><rect x="89.1" y="94.7" width="1.0" height="1.0" fill="#a8da78"/><rect x="88.2" y="95.9" width="1.2" height="1.2" fill="#a8da78"/><rect x="90.8" y="93.7" width="1.0" height="1.0" fill="#a8da78"/><rect x="91.7" y="92.7" width="1.2" height="1.2" fill="#a8da78"/><rect x="86.9" y="92.8" width="1.0" height="1.0" fill="#dfe35a"/><rect x="88.9" y="95.2" width="1.2" height="1.2" fill="#a8da78"/><rect x="89.5" y="95.2" width="1.2" height="1.2" fill="#dfe35a"/><rect x="87.1" y="94.0" width="0.8" height="0.8" fill="#a8da78"/><rect x="93.2" y="93.4" width="1.2" height="1.2" fill="#dfe35a"/><rect x="70.3" y="118.7" width="0.8" height="0.8" fill="#dfe35a"/><rect x="56.6" y="128.0" width="0.8" height="0.8" fill="#dfe35a"/><rect x="47.8" y="75.4" width="0.8" height="0.8" fill="#dfe35a"/><rect x="107.4" y="112.7" width="0.8" height="0.8" fill="#dfe35a"/><rect x="105.7" y="108.7" width="0.8" height="0.8" fill="#a8da78"/><rect x="67.2" y="102.5" width="0.8" height="0.8" fill="#a8da78"/><rect x="98.1" y="78.8" width="0.8" height="0.8" fill="#a8da78"/><rect x="72.9" y="128.1" width="0.8" height="0.8" fill="#dfe35a"/><rect x="33.7" y="117.6" width="0.8" height="0.8" fill="#dfe35a"/><rect x="58.2" y="90.0" width="0.8" height="0.8" fill="#dfe35a"/><rect x="94.5" y="83.4" width="0.8" height="0.8" fill="#dfe35a"/><rect x="50.2" y="89.0" width="0.8" height="0.8" fill="#a8da78"/><rect x="46.1" y="77.5" width="0.8" height="0.8" fill="#dfe35a"/><rect x="70.2" y="109.2" width="0.8" height="0.8" fill="#a8da78"/><rect x="48.8" y="108.5" width="0.8" height="0.8" fill="#dfe35a"/><rect x="128.0" y="122.8" width="0.8" height="0.8" fill="#a8da78"/><rect x="44.1" y="69.7" width="0.8" height="0.8" fill="#a8da78"/><rect x="70.2" y="73.0" width="0.8" height="0.8" fill="#dfe35a"/><rect x="53.1" y="85.7" width="0.8" height="0.8" fill="#a8da78"/><rect x="108.4" y="114.0" width="0.8" height="0.8" fill="#dfe35a"/><rect x="92.3" y="76.0" width="0.8" height="0.8" fill="#a8da78"/><rect x="105.3" y="125.8" width="0.8" height="0.8" fill="#a8da78"/><rect x="55.0" y="53.6" width="0.8" height="0.8" fill="#dfe35a"/><rect x="62.9" y="55.3" width="0.8" height="0.8" fill="#a8da78"/><rect x="38.6" y="127.7" width="0.8" height="0.8" fill="#a8da78"/><rect x="57.1" y="60.5" width="0.8" height="0.8" fill="#dfe35a"/><rect x="133.3" y="112.9" width="0.8" height="0.8" fill="#dfe35a"/><rect x="80.8" y="82.6" width="0.8" height="0.8" fill="#a8da78"/><rect x="99.8" y="97.2" width="0.8" height="0.8" fill="#a8da78"/><rect x="71.0" y="139.4" width="0.8" height="0.8" fill="#dfe35a"/><rect x="110.4" y="98.1" width="0.8" height="0.8" fill="#a8da78"/><rect x="84.3" y="115.3" width="0.8" height="0.8" fill="#dfe35a"/><rect x="69.7" y="48.2" width="0.8" height="0.8" fill="#dfe35a"/><rect x="58.9" y="104.1" width="0.8" height="0.8" fill="#a8da78"/><rect x="117.2" y="107.9" width="0.8" height="0.8" fill="#dfe35a"/><rect x="77.2" y="98.9" width="0.8" height="0.8" fill="#a8da78"/><rect x="77.9" y="103.8" width="0.8" height="0.8" fill="#a8da78"/><rect x="63.0" y="81.0" width="0.8" height="0.8" fill="#dfe35a"/><rect x="48.5" y="112.1" width="0.8" height="0.8" fill="#a8da78"/><rect x="86.1" y="122.2" width="0.8" height="0.8" fill="#a8da78"/><rect x="73.8" y="50.7" width="0.8" height="0.8" fill="#a8da78"/><rect x="120.0" y="96.3" width="0.8" height="0.8" fill="#a8da78"/><rect x="31.7" y="124.0" width="0.8" height="0.8" fill="#dfe35a"/><rect x="61.6" y="59.2" width="0.8" height="0.8" fill="#a8da78"/><rect x="56.2" y="54.2" width="0.8" height="0.8" fill="#dfe35a"/><rect x="91.6" y="127.3" width="0.8" height="0.8" fill="#a8da78"/><rect x="61.0" y="144.0" width="0.8" height="0.8" fill="#a8da78"/><rect x="54.9" y="56.6" width="0.8" height="0.8" fill="#a8da78"/><rect x="44.5" y="107.2" width="0.8" height="0.8" fill="#a8da78"/><rect x="38.8" y="92.0" width="0.8" height="0.8" fill="#dfe35a"/><rect x="82.6" y="90.8" width="0.8" height="0.8" fill="#dfe35a"/></g>
<defs><linearGradient id="g221" x1="0" y1="1" x2="0" y2="0"><stop offset="0" stop-color="#5aa8f0"/><stop offset="0.1" stop-color="#8cc8a8"/><stop offset="0.22" stop-color="#bce052"/><stop offset="0.36" stop-color="#f0a040"/><stop offset="0.47" stop-color="#e83a3a"/><stop offset="0.62" stop-color="#a02222"/><stop offset="0.82" stop-color="#3a0a0a"/><stop offset="1" stop-color="#000"/></linearGradient></defs>
<rect x="12.9" y="212" width="4.6" height="41.6" fill="url(#g221)" stroke="#444" stroke-width="0.6"/>
<line x1="17.5" y1="212" x2="19.3" y2="212" stroke="#555" stroke-width="0.7"/>
<text x="0" y="0" font-size="13" text-anchor="start" fill="#111" transform="translate(21.9 217.2) scale(1 1.06)">32000</text>
<line x1="17.5" y1="232.8" x2="19.3" y2="232.8" stroke="#555" stroke-width="0.7"/>
<text x="0" y="0" font-size="13" text-anchor="start" fill="#111" transform="translate(21.9 238) scale(1 1.06)">16000</text>
<line x1="17.5" y1="253.6" x2="19.3" y2="253.6" stroke="#555" stroke-width="0.7"/>
<text x="0" y="0" font-size="13" text-anchor="start" fill="#111" transform="translate(21.9 258.8) scale(1 1.06)">0</text>
<path d="M149.4,194.9 L140.8,217.2 L149.4,210.6 Z" fill="#fff" stroke="#333" stroke-width="0.5"/>
<path d="M149.4,194.9 L158.1,217.2 L149.4,210.6 Z" fill="#000" stroke="#000" stroke-width="0.5"/>
<text x="0" y="0" font-size="13" text-anchor="middle" fill="#111" transform="translate(149.8 227.5) scale(1 1.06)">N</text>
<rect x="102" y="333.6" width="17.2" height="3.8" fill="#000" stroke="none" stroke-width="1"/>
<rect x="119.2" y="333.8" width="17.2" height="3.4" fill="#fff" stroke="#666" stroke-width="0.5"/>
<text x="0" y="0" font-size="13" text-anchor="middle" fill="#111" transform="translate(101.4 330.2) scale(1 1.06)">0</text>
<text x="0" y="0" font-size="13" text-anchor="middle" fill="#111" transform="translate(119.6 330.2) scale(1 1.06)">15</text>
<text x="0" y="0" font-size="13" text-anchor="middle" fill="#111" transform="translate(136.2 330.2) scale(1 1.06)">30</text>
<text x="0" y="0" font-size="13" text-anchor="start" fill="#111" transform="translate(139.4 342.2) scale(1 1.06)">KM</text>
<text x="0" y="0" font-size="13" text-anchor="start" fill="#111" transform="translate(13.1 338.9) scale(1 1.06)">2018</text>
<rect x="5.4" y="376.5" width="156.3" height="155.6" fill="#f9f9f9" stroke="#444" stroke-width="1.3"/>
<g transform="translate(6.8 377.5)" stroke="#f7e6ee" stroke-width="0.35" stroke-opacity="0.75" stroke-linejoin="round"><path d="M27.3,101.3 L30.4,100.1 L30.3,94.7 L26.8,95.0 L21.8,95.6 L19.1,97.1Z" fill="#eec1d5"/><path d="M27.3,101.3 L19.1,97.1 L15.1,99.2 L18.7,101.1 L19.3,105.9 L20.6,110.2 L25.1,110.9Z" fill="#efc5d7"/><path d="M30.4,100.1 L34.8,101.5 L39.2,93.4 L37.2,92.0 L34.0,94.4 L30.3,94.7Z" fill="#eec3d6"/><path d="M30.4,100.1 L27.3,101.3 L25.1,110.9 L28.5,111.4 L28.7,111.9 L36.8,106.0 L36.7,103.9 L34.8,101.5Z" fill="#f3d1e0"/><path d="M36.8,106.0 L28.7,111.9 L29.7,114.5 L29.8,116.1 L37.2,116.4 L40.0,110.2Z" fill="#efc4d7"/><path d="M29.8,116.1 L30.3,125.4 L32.0,128.8 L37.2,126.3 L40.0,120.0 L37.2,116.4Z" fill="#ecbcd1"/><path d="M42.4,83.3 L48.1,76.3 L47.3,75.6 L45.1,77.4 L40.2,76.8 L38.4,80.4 L38.2,81.9Z" fill="#e7abc6"/><path d="M39.2,93.4 L43.6,93.1 L45.3,90.4 L44.9,86.8 L42.4,83.3 L38.2,81.9 L37.7,85.3 L38.2,91.3 L37.2,92.0Z" fill="#ebb7ce"/><path d="M43.6,93.1 L39.2,93.4 L34.8,101.5 L36.7,103.9 L45.8,100.7 L46.3,99.8Z" fill="#ecbdd2"/><path d="M47.1,107.4 L45.8,100.7 L36.7,103.9 L36.8,106.0 L40.0,110.2 L43.3,110.4Z" fill="#eec3d6"/><path d="M40.0,110.2 L37.2,116.4 L40.0,120.0 L45.7,119.6 L47.4,118.0 L43.3,110.4Z" fill="#f2cfde"/><path d="M37.2,126.3 L44.5,129.5 L47.2,127.1 L45.7,119.6 L40.0,120.0Z" fill="#eec3d6"/><path d="M44.5,129.5 L37.2,126.3 L32.0,128.8 L32.1,129.1 L30.3,134.6 L35.8,133.9 L41.3,132.1 L44.4,134.8Z" fill="#ecbcd1"/><path d="M53.7,67.2 L55.5,65.7 L58.0,60.2 L49.4,54.9 L46.9,56.7 L46.9,60.9 L44.6,63.6Z" fill="#e9b4cc"/><path d="M48.1,76.3 L53.6,76.8 L54.8,75.4 L53.7,67.2 L44.6,63.6 L43.8,64.6 L42.6,68.2 L45.7,71.9 L48.1,74.9 L47.3,75.6Z" fill="#e29bbb"/><path d="M53.6,76.8 L48.1,76.3 L42.4,83.3 L44.9,86.8 L53.9,81.6Z" fill="#e4a1bf"/><path d="M54.8,83.0 L53.9,81.6 L44.9,86.8 L45.3,90.4 L52.8,91.1Z" fill="#e9b3cb"/><path d="M52.8,91.1 L45.3,90.4 L43.6,93.1 L46.3,99.8 L51.5,99.4 L55.1,93.4Z" fill="#f2cfde"/><path d="M55.7,103.6 L51.5,99.4 L46.3,99.8 L45.8,100.7 L47.1,107.4 L53.7,109.8Z" fill="#ecbdd2"/><path d="M47.1,107.4 L43.3,110.4 L47.4,118.0 L53.5,116.6 L53.9,110.1 L53.7,109.8Z" fill="#f1cbdc"/><path d="M45.7,119.6 L47.2,127.1 L52.4,127.8 L55.7,124.9 L54.1,117.1 L53.5,116.6 L47.4,118.0Z" fill="#f0c9da"/><path d="M47.2,127.1 L44.5,129.5 L44.4,134.8 L44.4,134.8 L53.5,134.6 L52.4,127.8Z" fill="#eec4d7"/><path d="M54.1,135.2 L53.5,134.6 L44.4,134.8 L44.9,135.2 L44.3,140.6 L52.2,141.3 L53.5,142.2Z" fill="#f0c9da"/><path d="M61.9,49.2 L57.2,50.6 L51.1,53.6 L49.4,54.9 L58.0,60.2 L61.0,58.9Z" fill="#ecbcd1"/><path d="M61.0,58.9 L58.0,60.2 L55.5,65.7 L63.8,68.3 L62.9,60.0Z" fill="#e9b2ca"/><path d="M63.8,68.3 L63.8,68.3 L55.5,65.7 L53.7,67.2 L54.8,75.4 L61.5,75.0Z" fill="#e6a9c5"/><path d="M64.1,82.3 L63.5,76.5 L61.5,75.0 L54.8,75.4 L53.6,76.8 L53.9,81.6 L54.8,83.0 L61.4,86.0 L63.5,83.6Z" fill="#e39ebd"/><path d="M60.4,92.7 L61.8,87.9 L61.4,86.0 L54.8,83.0 L52.8,91.1 L55.1,93.4 L59.6,93.6Z" fill="#e5a4c1"/><path d="M61.6,101.1 L59.6,93.6 L55.1,93.4 L51.5,99.4 L55.7,103.6 L61.5,101.3Z" fill="#f0c9da"/><path d="M61.5,101.3 L55.7,103.6 L53.7,109.8 L53.9,110.1 L64.7,109.8 L65.5,109.2Z" fill="#f2cfde"/><path d="M53.9,110.1 L53.5,116.6 L54.1,117.1 L61.2,117.0 L64.7,109.8Z" fill="#eec1d5"/><path d="M61.2,117.0 L54.1,117.1 L55.7,124.9 L63.0,127.5 L64.6,120.2Z" fill="#f2cfde"/><path d="M55.7,124.9 L52.4,127.8 L53.5,134.6 L54.1,135.2 L62.6,133.3 L63.3,128.1 L63.0,127.5Z" fill="#eec2d6"/><path d="M60.9,144.9 L63.4,134.7 L62.6,133.3 L54.1,135.2 L53.5,142.2 L55.9,143.7 L58.4,146.7Z" fill="#f0c8d9"/><path d="M70.9,60.3 L71.9,58.9 L71.7,48.2 L68.8,46.9 L63.3,48.8 L61.9,49.2 L61.0,58.9 L62.9,60.0Z" fill="#e5a6c3"/><path d="M71.7,67.4 L70.9,60.3 L62.9,60.0 L63.8,68.3 L63.8,68.3 L71.6,67.7Z" fill="#e7adc7"/><path d="M63.8,68.3 L61.5,75.0 L63.5,76.5 L68.9,75.7 L70.5,74.6 L71.6,69.5 L71.6,67.7Z" fill="#eab4cc"/><path d="M70.4,81.8 L68.9,75.7 L63.5,76.5 L64.1,82.3 L70.1,82.6Z" fill="#eab5cd"/><path d="M69.3,89.4 L61.8,87.9 L60.4,92.7 L69.9,94.2 L69.7,90.3 L69.3,89.4Z" fill="#e4a3c0"/><path d="M70.6,98.2 L71.0,95.9 L69.9,94.2 L60.4,92.7 L59.6,93.6 L61.6,101.1Z" fill="#e9b1ca"/><path d="M69.0,109.8 L72.8,102.6 L70.6,98.2 L61.6,101.1 L61.5,101.3 L65.5,109.2Z" fill="#ecbbd1"/><path d="M69.0,109.8 L65.5,109.2 L64.7,109.8 L61.2,117.0 L64.6,120.2 L69.3,118.3 L69.6,110.5Z" fill="#f2cfde"/><path d="M64.6,120.2 L63.0,127.5 L63.3,128.1 L71.7,127.5 L73.4,125.9 L70.5,119.2 L69.3,118.3Z" fill="#edbdd2"/><path d="M63.3,128.1 L62.6,133.3 L63.4,134.7 L70.9,137.6 L73.5,135.8 L71.7,127.5Z" fill="#eec3d6"/><path d="M63.4,134.7 L60.9,144.9 L70.1,144.6 L70.9,137.6Z" fill="#efc6d8"/><path d="M70.1,144.6 L60.9,144.9 L58.4,146.7 L59.5,148.0 L59.9,149.2 L61.2,151.9 L67.7,149.9 L72.1,146.8Z" fill="#f0cadb"/><path d="M89.1,50.0 L86.8,49.9 L88.9,52.5 L88.9,52.5Z" fill="#eec4d7"/><path d="M71.9,58.9 L81.3,59.7 L84.1,57.7 L79.6,53.0 L75.5,50.0 L71.7,48.2Z" fill="#e9b1ca"/><path d="M78.5,67.2 L80.1,65.7 L81.3,59.7 L71.9,58.9 L70.9,60.3 L71.7,67.4Z" fill="#e5a3c0"/><path d="M78.5,67.2 L71.7,67.4 L71.6,67.7 L71.6,69.5 L78.5,74.2 L79.5,69.7Z" fill="#f4d6e3"/><path d="M72.8,102.6 L77.7,103.2 L81.7,99.7 L81.5,97.8 L75.0,94.5 L71.0,95.9 L70.6,98.2Z" fill="#e4a3c0"/><path d="M80.2,110.2 L77.7,103.2 L72.8,102.6 L69.0,109.8 L69.6,110.5 L77.8,112.4Z" fill="#e196b8"/><path d="M77.8,112.4 L69.6,110.5 L69.3,118.3 L70.5,119.2 L78.2,117.0Z" fill="#eec3d6"/><path d="M70.5,119.2 L73.4,125.9 L79.1,125.2 L79.7,119.2 L78.2,117.0Z" fill="#f3d2e0"/><path d="M73.4,125.9 L71.7,127.5 L73.5,135.8 L78.1,136.2 L81.0,126.8 L79.1,125.2Z" fill="#efc5d8"/><path d="M78.1,136.2 L73.5,135.8 L70.9,137.6 L70.1,144.6 L72.1,146.8 L74.3,145.3 L80.9,140.7 L82.2,140.0Z" fill="#f1ccdc"/><path d="M89.0,65.3 L91.0,63.0 L87.8,61.7 L84.1,57.7 L81.3,59.7 L80.1,65.7 L84.8,67.6Z" fill="#e5a6c3"/><path d="M84.2,71.5 L84.8,67.6 L80.1,65.7 L78.5,67.2 L79.5,69.7Z" fill="#ecbbd1"/><path d="M81.9,96.9 L81.5,97.8 L81.7,99.7 L88.8,103.6 L89.1,103.4 L88.1,95.0 L86.2,93.3Z" fill="#efc5d7"/><path d="M77.7,103.2 L80.2,110.2 L87.5,109.9 L88.8,103.6 L81.7,99.7Z" fill="#eec2d5"/><path d="M79.7,119.2 L87.0,117.3 L87.7,110.1 L87.5,109.9 L80.2,110.2 L77.8,112.4 L78.2,117.0Z" fill="#f1cbdc"/><path d="M79.7,119.2 L79.1,125.2 L81.0,126.8 L87.3,127.6 L89.2,125.6 L89.5,120.7 L87.0,117.3Z" fill="#edbed3"/><path d="M87.3,127.6 L81.0,126.8 L78.1,136.2 L82.2,140.0 L88.8,136.1 L89.3,136.0Z" fill="#efc6d8"/><path d="M95.8,64.9 L91.0,63.0 L89.0,65.3 L88.1,73.5 L89.9,74.6 L93.0,73.2Z" fill="#e8afc8"/><path d="M88.1,95.0 L89.1,103.4 L96.4,100.6 L96.1,94.6Z" fill="#eec4d7"/><path d="M87.7,110.1 L96.4,112.8 L99.3,110.7 L96.6,100.7 L96.4,100.6 L89.1,103.4 L88.8,103.6 L87.5,109.9Z" fill="#edbfd4"/><path d="M87.0,117.3 L89.5,120.7 L96.2,117.6 L96.4,112.8 L87.7,110.1Z" fill="#f0cadb"/><path d="M97.3,118.7 L96.2,117.6 L89.5,120.7 L89.2,125.6 L96.6,126.4Z" fill="#efc5d7"/><path d="M89.2,125.6 L87.3,127.6 L89.3,136.0 L100.6,132.8 L101.5,132.8 L101.5,129.9 L96.6,126.4Z" fill="#eec2d5"/><path d="M100.4,75.2 L107.6,76.7 L109.7,74.8 L104.0,70.3 L99.9,67.6Z" fill="#e9b2ca"/><path d="M101.9,83.8 L104.8,84.7 L106.1,83.6 L107.6,76.7 L100.4,75.2 L98.9,76.2 L97.5,81.8 L97.5,81.8Z" fill="#ecbcd1"/><path d="M96.4,93.1 L104.1,90.8 L104.8,84.7 L101.9,83.8 L95.3,91.2Z" fill="#edbfd3"/><path d="M96.1,94.6 L96.4,100.6 L96.6,100.7 L105.3,100.9 L105.8,92.4 L104.1,90.8 L96.4,93.1Z" fill="#ebb7ce"/><path d="M105.3,100.9 L96.6,100.7 L99.3,110.7 L102.7,111.1 L103.5,110.3 L106.0,101.4Z" fill="#ecbdd2"/><path d="M106.9,117.8 L102.7,111.1 L99.3,110.7 L96.4,112.8 L96.2,117.6 L97.3,118.7 L104.6,120.5Z" fill="#eec1d5"/><path d="M97.3,118.7 L96.6,126.4 L101.5,129.9 L103.9,126.8 L104.6,120.5Z" fill="#edbed3"/><path d="M107.6,76.7 L106.1,83.6 L116.4,87.0 L115.8,86.1 L114.5,80.8 L110.6,75.6 L109.7,74.8Z" fill="#e7aac5"/><path d="M105.8,92.4 L114.9,92.9 L118.5,89.7 L116.4,87.0 L106.1,83.6 L104.8,84.7 L104.1,90.8Z" fill="#eec1d5"/><path d="M114.9,92.9 L105.8,92.4 L105.3,100.9 L106.0,101.4 L111.3,102.3 L112.9,100.5Z" fill="#e7abc6"/><path d="M106.0,101.4 L103.5,110.3 L113.1,108.1 L111.3,102.3Z" fill="#efc5d7"/><path d="M113.4,116.1 L113.3,108.4 L113.1,108.1 L103.5,110.3 L102.7,111.1 L106.9,117.8 L112.1,117.3Z" fill="#f2d0df"/><path d="M112.1,117.3 L106.9,117.8 L104.6,120.5 L103.9,126.8 L112.8,127.0 L114.0,125.2Z" fill="#eec3d6"/><path d="M112.8,127.0 L103.9,126.8 L101.5,129.9 L101.5,132.8 L113.7,132.1 L113.8,132.1Z" fill="#f1ccdc"/><path d="M114.9,92.9 L112.9,100.5 L122.2,102.3 L125.4,98.5 L125.0,97.9 L119.7,91.3 L118.5,89.7Z" fill="#e6a9c5"/><path d="M122.2,102.3 L112.9,100.5 L111.3,102.3 L113.1,108.1 L113.3,108.4 L121.3,107.2Z" fill="#e8aec8"/><path d="M113.3,108.4 L113.4,116.1 L121.9,116.9 L122.9,115.8 L123.2,109.7 L121.3,107.2Z" fill="#efc4d7"/><path d="M123.0,125.2 L121.9,116.9 L113.4,116.1 L112.1,117.3 L114.0,125.2Z" fill="#efc5d8"/><path d="M126.8,129.6 L123.0,125.2 L114.0,125.2 L112.8,127.0 L113.8,132.1 L127.0,130.4Z" fill="#edbed2"/><path d="M122.2,102.3 L121.3,107.2 L123.2,109.7 L131.2,107.6 L130.2,105.7 L125.4,98.5Z" fill="#e6a9c5"/><path d="M134.7,87.5 L134.7,87.7 L134.8,88.1 L134.8,88.4 L135.0,88.7 L135.1,89.0 L135.3,89.3 L135.5,89.6 L135.7,89.8 L135.9,90.0 L136.2,90.2 L136.5,90.4 L136.8,90.5 L137.1,90.7 L137.4,90.7 L137.8,90.8 L138.1,90.8 L138.4,90.8 L138.8,90.7 L139.1,90.7 L139.4,90.5 L139.7,90.4 L140.0,90.2 L140.3,90.0 L140.5,89.8 L140.7,89.6 L140.9,89.3 L141.1,89.0 L141.2,88.7 L141.4,88.4 L141.4,88.1 L141.5,87.7 L141.5,87.4 L141.5,87.3Z" fill="#f3d3e1"/><path d="M123.2,109.7 L122.9,115.8 L133.3,116.3 L135.0,115.5 L134.2,113.6 L131.2,107.6Z" fill="#e5a4c1"/><path d="M126.8,129.6 L133.3,116.3 L122.9,115.8 L121.9,116.9 L123.0,125.2Z" fill="#f0c9da"/><path d="M133.3,116.3 L126.8,129.6 L127.0,130.4 L128.2,130.2 L136.1,129.3 L138.1,126.7 L137.4,121.5 L135.0,115.5Z" fill="#f1cddd"/><path d="M75.0,94.5 L81.5,97.8 L81.9,96.9 L80.7,92.7 L76.4,91.8Z" fill="#e29aba"/><path d="M82.7,90.4 L83.5,87.2 L82.1,85.9 L81.1,90.1 L81.5,90.4Z" fill="#f0c9da"/><path d="M86.1,79.9 L88.1,78.9 L84.1,76.8 L83.8,77.1 L83.3,78.3 L83.7,78.8 L84.3,79.3Z" fill="#f1cbdb"/><path d="M78.7,83.8 L79.9,82.6 L76.9,80.1 L76.1,80.7 L75.9,81.7 L76.0,83.9Z" fill="#f1ccdc"/><path d="M82.1,85.9 L83.5,87.2 L85.7,87.8 L86.2,85.9 L83.4,83.9 L82.6,84.1 L82.0,85.8Z" fill="#f4d6e3"/><path d="M76.1,80.7 L76.9,80.1 L77.7,78.7 L78.2,77.4 L78.0,76.2 L72.3,75.7 L73.7,79.8Z" fill="#f3d2e0"/><path d="M81.9,96.9 L86.2,93.3 L86.2,92.4 L86.1,91.9 L82.7,90.4 L81.5,90.4 L80.7,92.7Z" fill="#e29cbc"/><path d="M70.1,82.6 L64.1,82.3 L63.5,83.6 L69.4,87.0 L70.7,84.0 L70.6,83.4Z" fill="#e095b7"/><path d="M78.8,83.9 L78.9,85.3 L79.6,86.6 L81.5,85.9Z" fill="#f3d2e0"/><path d="M82.0,85.8 L82.6,84.1 L81.6,82.7 L81.5,82.6 L79.9,82.6 L78.7,83.8 L78.8,83.9 L81.5,85.9Z" fill="#f1cbdc"/><path d="M94.2,89.1 L97.5,81.8 L97.5,81.8 L94.7,81.1 L91.8,81.8 L90.3,85.6 L91.0,87.1Z" fill="#f4d4e2"/><path d="M83.4,83.9 L86.2,85.9 L88.0,84.6 L87.5,83.5 L86.7,83.0 L85.5,82.5 L85.4,82.6Z" fill="#f1cbdc"/><path d="M78.9,85.3 L75.6,85.0 L75.1,85.9 L75.1,85.9 L76.3,88.4 L76.9,89.0 L77.5,88.8 L79.6,86.6Z" fill="#f2d1e0"/><path d="M83.3,78.3 L83.8,77.1 L80.4,74.5 L78.7,74.7 L78.0,76.2 L78.2,77.4 L79.2,77.7 L82.1,78.7Z" fill="#f4d5e2"/><path d="M83.7,78.8 L83.3,78.3 L82.1,78.7 L81.4,81.6 L81.5,82.6 L81.6,82.7 L83.3,81.0Z" fill="#f3d3e1"/><path d="M86.7,83.0 L87.5,83.5 L89.9,80.5 L88.7,78.8 L88.7,78.8Z" fill="#f2cedd"/><path d="M76.9,89.0 L76.4,91.8 L80.7,92.7 L81.5,90.4 L81.1,90.1 L77.5,88.8Z" fill="#f2cfde"/><path d="M86.1,91.9 L86.2,92.4 L94.8,90.5 L94.2,89.1 L91.0,87.1 L86.7,89.4Z" fill="#f1ccdc"/><path d="M86.7,83.0 L88.7,78.8 L88.1,78.9 L86.1,79.9 L85.5,82.5Z" fill="#f2d1e0"/><path d="M79.2,77.7 L78.2,77.4 L77.7,78.7 L81.2,81.3Z" fill="#f1cddd"/><path d="M91.8,81.8 L89.9,80.5 L87.5,83.5 L88.0,84.6 L90.3,85.6Z" fill="#f2d1df"/><path d="M75.9,81.7 L76.1,80.7 L73.7,79.8 L70.4,81.8 L70.1,82.6 L70.6,83.4Z" fill="#f1cbdb"/><path d="M76.0,83.9 L75.9,81.7 L70.6,83.4 L70.7,84.0 L75.1,85.9 L75.6,85.0Z" fill="#f4d6e3"/><path d="M78.7,74.7 L78.5,74.2 L71.6,69.5 L70.5,74.6 L72.3,75.7 L78.0,76.2Z" fill="#e5a5c2"/><path d="M83.3,81.0 L81.6,82.7 L82.6,84.1 L83.4,83.9 L85.4,82.6 L84.3,81.2Z" fill="#f1cedd"/><path d="M70.7,84.0 L69.4,87.0 L69.3,89.4 L69.3,89.4 L75.1,85.9 L75.1,85.9Z" fill="#f4d5e2"/><path d="M93.0,73.2 L94.8,74.5 L98.9,76.2 L100.4,75.2 L99.9,67.6 L96.2,65.1 L95.8,64.9Z" fill="#e7acc6"/><path d="M98.9,76.2 L94.8,74.5 L93.8,79.3 L94.7,81.1 L97.5,81.8Z" fill="#e8b0c9"/><path d="M81.2,81.3 L77.7,78.7 L76.9,80.1 L79.9,82.6 L81.5,82.6 L81.4,81.6Z" fill="#f0c8da"/><path d="M76.3,88.4 L69.7,90.3 L69.9,94.2 L71.0,95.9 L75.0,94.5 L76.4,91.8 L76.9,89.0Z" fill="#eab4cc"/><path d="M88.7,78.8 L88.7,78.8 L89.9,75.3 L89.9,74.6 L88.1,73.5 L86.2,73.4 L84.1,76.8 L88.1,78.9Z" fill="#f2d0df"/><path d="M84.2,71.5 L79.5,69.7 L78.5,74.2 L78.7,74.7 L80.4,74.5 L84.5,72.2Z" fill="#f0cadb"/><path d="M79.6,86.6 L77.5,88.8 L81.1,90.1 L82.1,85.9 L82.0,85.8 L81.5,85.9Z" fill="#f0c8da"/><path d="M73.7,79.8 L72.3,75.7 L70.5,74.6 L68.9,75.7 L70.4,81.8Z" fill="#e4a1bf"/><path d="M85.7,87.8 L83.5,87.2 L82.7,90.4 L86.1,91.9 L86.7,89.4Z" fill="#f2d1e0"/><path d="M89.9,80.5 L91.8,81.8 L94.7,81.1 L93.8,79.3 L89.9,75.3 L88.7,78.8Z" fill="#f1cbdc"/><path d="M78.7,83.8 L76.0,83.9 L75.6,85.0 L78.9,85.3 L78.8,83.9Z" fill="#f2cfdf"/><path d="M82.1,78.7 L79.2,77.7 L81.2,81.3 L81.4,81.6Z" fill="#f2cede"/><path d="M86.2,93.3 L88.1,95.0 L96.1,94.6 L96.4,93.1 L95.3,91.2 L94.8,90.5 L86.2,92.4Z" fill="#e8aec8"/><path d="M85.4,82.6 L85.5,82.5 L86.1,79.9 L84.3,79.3 L84.3,81.2Z" fill="#f0c9da"/><path d="M88.1,73.5 L89.0,65.3 L84.8,67.6 L84.2,71.5 L84.5,72.2 L86.2,73.4Z" fill="#efc5d7"/><path d="M84.1,76.8 L86.2,73.4 L84.5,72.2 L80.4,74.5 L83.8,77.1Z" fill="#f1ccdc"/><path d="M101.9,83.8 L97.5,81.8 L94.2,89.1 L94.8,90.5 L95.3,91.2Z" fill="#e5a6c3"/><path d="M84.3,79.3 L83.7,78.8 L83.3,81.0 L84.3,81.2Z" fill="#f2d1df"/><path d="M63.5,83.6 L61.4,86.0 L61.8,87.9 L69.3,89.4 L69.4,87.0Z" fill="#e9b3cb"/><path d="M89.9,74.6 L89.9,75.3 L93.8,79.3 L94.8,74.5 L93.0,73.2Z" fill="#f1cedd"/><path d="M91.0,87.1 L90.3,85.6 L88.0,84.6 L86.2,85.9 L85.7,87.8 L86.7,89.4Z" fill="#f4d6e3"/><path d="M69.3,89.4 L69.7,90.3 L76.3,88.4 L75.1,85.9Z" fill="#f0cadb"/><path d="M62.2,3.0 L59.2,3.7 L53.4,8.1 L50.1,11.8 L50.4,13.2 L53.0,15.8Z" fill="#f0cadb"/><path d="M53.0,15.8 L54.8,17.6 L59.2,21.5 L69.4,4.9 L63.6,2.7 L62.2,3.0Z" fill="#efc7d9"/><path d="M59.2,21.5 L62.1,24.2 L65.4,26.7 L76.1,11.2 L76.0,11.1 L74.5,7.4 L70.1,5.2 L69.4,4.9Z" fill="#efc5d7"/><path d="M81.2,14.7 L79.6,14.0 L76.1,11.2 L65.4,26.7 L70.9,30.8 L71.5,31.2Z" fill="#f3d3e1"/><path d="M71.5,31.2 L79.1,36.3 L85.5,16.4 L81.2,14.7Z" fill="#f2d0df"/><path d="M79.1,36.3 L79.6,36.6 L83.6,38.6 L93.8,20.6 L88.4,17.6 L85.5,16.4Z" fill="#f1ccdc"/><path d="M83.6,38.6 L86.8,40.1 L88.4,42.4 L90.9,43.7 L99.1,24.0 L96.4,22.0 L93.8,20.6Z" fill="#f0c8d9"/><path d="M96.9,44.7 L104.0,29.1 L101.5,27.8 L99.3,24.2 L99.1,24.0 L90.9,43.7 L93.2,44.9Z" fill="#f1cddd"/><path d="M96.9,44.7 L103.7,46.2 L112.0,32.8 L107.4,30.8 L104.0,29.1Z" fill="#f2cede"/><path d="M103.7,46.2 L108.1,49.7 L110.5,50.4 L111.2,50.8 L119.1,35.6 L117.6,35.1 L112.0,32.8Z" fill="#f3d3e1"/><path d="M119.4,54.8 L124.2,37.3 L119.1,35.6 L111.2,50.8 L114.6,52.7 L118.4,54.5Z" fill="#f1cbdc"/><path d="M119.4,54.8 L120.0,55.2 L122.9,56.6 L123.9,56.4 L132.3,41.1 L132.2,41.0 L126.4,38.1 L124.2,37.3Z" fill="#eec2d5"/><path d="M123.9,56.4 L124.2,56.3 L132.2,53.4 L134.2,52.5 L134.4,49.7 L135.7,44.2 L135.1,43.9 L132.3,41.1Z" fill="#f3d3e1"/><path d="M108.0,57.2 L103.3,54.5 L95.0,50.4 L89.1,50.0 L88.9,52.5 L93.0,56.6 L100.2,60.7 L104.4,63.2Z" fill="#f0c8da"/><path d="M103.7,46.2 L96.9,44.7 L93.2,44.9 L94.2,45.4 L103.0,48.3 L108.1,49.7Z" fill="#f2d0df"/><path d="M119.5,64.9 L118.6,64.8 L118.8,66.3Z" fill="#eec1d5"/><path d="M117.1,70.0 L116.7,64.8 L114.6,62.8 L111.0,60.7 L110.5,58.6 L108.0,57.2 L104.4,63.2 L110.5,66.9 L115.1,71.5 L116.6,71.1Z" fill="#efc4d7"/><path d="M118.8,66.3 L119.4,70.8 L123.4,74.4 L129.8,74.4 L130.5,68.8 L124.9,65.8 L119.5,64.9Z" fill="#f2cfdf"/><path d="M116.6,71.1 L117.2,71.0 L117.1,70.0Z" fill="#eec1d5"/><path d="M131.6,86.8 L132.2,83.3 L127.6,81.4 L131.0,86.6Z" fill="#f1cedd"/><path d="M141.5,87.3 L141.5,87.1 L141.4,86.7 L141.4,86.4 L141.2,86.1 L141.1,85.8 L140.9,85.5 L140.7,85.2 L140.5,85.0 L140.3,84.8 L140.0,84.6 L139.7,84.4 L139.4,84.3 L139.1,84.1 L138.8,84.1 L138.4,84.0 L138.1,84.0 L137.8,84.0 L137.4,84.1 L137.1,84.1 L136.8,84.3 L136.5,84.4 L136.2,84.6 L135.9,84.8 L135.7,85.0 L135.5,85.2 L135.3,85.5 L135.1,85.8 L135.0,86.1 L134.8,86.4 L134.8,86.7 L134.7,87.1 L134.7,87.4 L134.7,87.5Z" fill="#efc6d8"/></g>
<g transform="translate(5.4 376.5)" stroke="#f7e6ee" stroke-width="0.35" stroke-opacity="0.75" stroke-linejoin="round"><path d="M75.8,62.2 L82.4,61.3 L84.3,63.2 L85.2,67.9 L80.5,68.8 L76.8,66.9Z" fill="#843258"/><path d="M104.9,88.5 L110.5,88.1 L113.3,90.4 L112.9,97.8 L111.4,102.5 L107.7,101.6 L104.3,96 L103,91.3Z" fill="#7a2e52"/><path d="M113.3,88.1 L119.9,87 L124.5,94.1 L129.2,101.6 L132,109.1 L128.3,109.1 L122.7,106.3 L117.1,102.5 L112.9,97.8Z" fill="#ab446f"/><path d="M83.3,99.3 L89.5,98.8 L93.3,101.2 L93.3,113.8 L89.5,115.4 L86.3,112.8 L84.4,106Z" fill="#b44974"/><path d="M60.8,63.2 L69.3,62.2 L70.2,73.5 L62.7,74.4Z" fill="#cf6691"/><path d="M69.3,66 L77.7,65.6 L78.6,71.6 L70.2,72.5Z" fill="#d37099"/><path d="M48.7,71.6 L59,70.7 L59.9,79.1 L51.5,80Z" fill="#d5769e"/><path d="M58,87.5 L66.5,87.5 L67.4,95 L58.9,95Z" fill="#d37099"/><path d="M72.1,99.7 L77.7,99.7 L79.6,107.2 L73,108.2Z" fill="#cf6691"/><path d="M111.4,103.5 L119.9,103.5 L120.8,112.8 L113.3,112.8Z" fill="#d37099"/><path d="M91.8,94.1 L102.1,93.2 L103,98.8 L92.7,99.7Z" fill="#d77aa1"/><path d="M49.5,55 L56,53.5 L62.5,56 L62,65.5 L51,65Z" fill="#da82a8"/><path d="M48.2,70.5 L62.5,70 L62.8,81.5 L49,81.8Z" fill="#d77aa1"/></g>
<text x="0" y="0" font-size="13" text-anchor="start" fill="#111" transform="translate(11.3 395.9) scale(1 1.06)">Ideal needs (MWh)</text>
<defs><linearGradient id="g243" x1="0" y1="1" x2="0" y2="0"><stop offset="0" stop-color="#f3d6e3"/><stop offset="0.3" stop-color="#dc8cb0"/><stop offset="0.6" stop-color="#c85080"/><stop offset="1" stop-color="#7b2e52"/></linearGradient></defs>
<rect x="14.3" y="409.2" width="4.6" height="42.5" fill="url(#g243)" stroke="#444" stroke-width="0.6"/>
<line x1="18.9" y1="409.2" x2="20.7" y2="409.2" stroke="#555" stroke-width="0.7"/>
<text x="0" y="0" font-size="13" text-anchor="start" fill="#111" transform="translate(24.9 414.9) scale(1 1.06)">8400</text>
<line x1="18.9" y1="430.45" x2="20.7" y2="430.45" stroke="#555" stroke-width="0.7"/>
<text x="0" y="0" font-size="13" text-anchor="start" fill="#111" transform="translate(24.9 436.15) scale(1 1.06)">4200</text>
<line x1="18.9" y1="451.7" x2="20.7" y2="451.7" stroke="#555" stroke-width="0.7"/>
<text x="0" y="0" font-size="13" text-anchor="start" fill="#111" transform="translate(24.9 457.4) scale(1 1.06)">0</text>
<path d="M148,382.1 L139.2,405.3 L148,397.7 Z" fill="#fff" stroke="#333" stroke-width="0.5"/>
<path d="M148,382.1 L156.8,405.3 L148,397.7 Z" fill="#000" stroke="#000" stroke-width="0.5"/>
<text x="0" y="0" font-size="13" text-anchor="middle" fill="#111" transform="translate(148 414.7) scale(1 1.06)">N</text>
<rect x="102.7" y="520.2" width="17.2" height="3.8" fill="#000" stroke="none" stroke-width="1"/>
<rect x="119.9" y="520.4" width="17.2" height="3.4" fill="#fff" stroke="#666" stroke-width="0.5"/>
<text x="0" y="0" font-size="13" text-anchor="middle" fill="#111" transform="translate(102.1 516.8) scale(1 1.06)">0</text>
<text x="0" y="0" font-size="13" text-anchor="middle" fill="#111" transform="translate(120.3 516.8) scale(1 1.06)">15</text>
<text x="0" y="0" font-size="13" text-anchor="middle" fill="#111" transform="translate(136.9 516.8) scale(1 1.06)">30</text>
<text x="0" y="0" font-size="13" text-anchor="start" fill="#111" transform="translate(139.4 528.8) scale(1 1.06)">KM</text>
<rect x="186.4" y="376.5" width="156.3" height="155.6" fill="#f9f9f9" stroke="#444" stroke-width="1.3"/>
<g transform="translate(187.8 377.5)" stroke="#fbeeee" stroke-width="0.35" stroke-opacity="0.75" stroke-linejoin="round"><path d="M27.3,101.3 L30.4,100.1 L30.3,94.7 L26.8,95.0 L21.8,95.6 L19.1,97.1Z" fill="#f8d6d6"/><path d="M27.3,101.3 L19.1,97.1 L15.1,99.2 L18.7,101.1 L19.3,105.9 L20.6,110.2 L25.1,110.9Z" fill="#f9d9d9"/><path d="M30.4,100.1 L34.8,101.5 L39.2,93.4 L37.2,92.0 L34.0,94.4 L30.3,94.7Z" fill="#f9d7d7"/><path d="M30.4,100.1 L27.3,101.3 L25.1,110.9 L28.5,111.4 L28.7,111.9 L36.8,106.0 L36.7,103.9 L34.8,101.5Z" fill="#fae2e2"/><path d="M36.8,106.0 L28.7,111.9 L29.7,114.5 L29.8,116.1 L37.2,116.4 L40.0,110.2Z" fill="#f9d9d9"/><path d="M29.8,116.1 L30.3,125.4 L32.0,128.8 L37.2,126.3 L40.0,120.0 L37.2,116.4Z" fill="#f8d3d3"/><path d="M42.4,83.3 L48.1,76.3 L47.3,75.6 L45.1,77.4 L40.2,76.8 L38.4,80.4 L38.2,81.9Z" fill="#f9dbdb"/><path d="M39.2,93.4 L43.6,93.1 L45.3,90.4 L44.9,86.8 L42.4,83.3 L38.2,81.9 L37.7,85.3 L38.2,91.3 L37.2,92.0Z" fill="#fae4e4"/><path d="M43.6,93.1 L39.2,93.4 L34.8,101.5 L36.7,103.9 L45.8,100.7 L46.3,99.8Z" fill="#f8d3d3"/><path d="M47.1,107.4 L45.8,100.7 L36.7,103.9 L36.8,106.0 L40.0,110.2 L43.3,110.4Z" fill="#f9d8d8"/><path d="M40.0,110.2 L37.2,116.4 L40.0,120.0 L45.7,119.6 L47.4,118.0 L43.3,110.4Z" fill="#fae0e0"/><path d="M37.2,126.3 L44.5,129.5 L47.2,127.1 L45.7,119.6 L40.0,120.0Z" fill="#f9d8d8"/><path d="M44.5,129.5 L37.2,126.3 L32.0,128.8 L32.1,129.1 L30.3,134.6 L35.8,133.9 L41.3,132.1 L44.4,134.8Z" fill="#f8d2d2"/><path d="M53.7,67.2 L55.5,65.7 L58.0,60.2 L49.4,54.9 L46.9,56.7 L46.9,60.9 L44.6,63.6Z" fill="#fae1e1"/><path d="M48.1,76.3 L53.6,76.8 L54.8,75.4 L53.7,67.2 L44.6,63.6 L43.8,64.6 L42.6,68.2 L45.7,71.9 L48.1,74.9 L47.3,75.6Z" fill="#f8cfcf"/><path d="M53.6,76.8 L48.1,76.3 L42.4,83.3 L44.9,86.8 L53.9,81.6Z" fill="#f8d4d4"/><path d="M54.8,83.0 L53.9,81.6 L44.9,86.8 L45.3,90.4 L52.8,91.1Z" fill="#fae1e1"/><path d="M52.8,91.1 L45.3,90.4 L43.6,93.1 L46.3,99.8 L51.5,99.4 L55.1,93.4Z" fill="#fae0e0"/><path d="M55.7,103.6 L51.5,99.4 L46.3,99.8 L45.8,100.7 L47.1,107.4 L53.7,109.8Z" fill="#f8d3d3"/><path d="M47.1,107.4 L43.3,110.4 L47.4,118.0 L53.5,116.6 L53.9,110.1 L53.7,109.8Z" fill="#f9dede"/><path d="M45.7,119.6 L47.2,127.1 L52.4,127.8 L55.7,124.9 L54.1,117.1 L53.5,116.6 L47.4,118.0Z" fill="#f9dcdc"/><path d="M47.2,127.1 L44.5,129.5 L44.4,134.8 L44.4,134.8 L53.5,134.6 L52.4,127.8Z" fill="#f9d8d8"/><path d="M54.1,135.2 L53.5,134.6 L44.4,134.8 L44.9,135.2 L44.3,140.6 L52.2,141.3 L53.5,142.2Z" fill="#f9dcdc"/><path d="M61.9,49.2 L57.2,50.6 L51.1,53.6 L49.4,54.9 L58.0,60.2 L61.0,58.9Z" fill="#fae7e7"/><path d="M61.0,58.9 L58.0,60.2 L55.5,65.7 L63.8,68.3 L62.9,60.0Z" fill="#fae0e0"/><path d="M63.8,68.3 L63.8,68.3 L55.5,65.7 L53.7,67.2 L54.8,75.4 L61.5,75.0Z" fill="#f9dada"/><path d="M64.1,82.3 L63.5,76.5 L61.5,75.0 L54.8,75.4 L53.6,76.8 L53.9,81.6 L54.8,83.0 L61.4,86.0 L63.5,83.6Z" fill="#f8d2d2"/><path d="M60.4,92.7 L61.8,87.9 L61.4,86.0 L54.8,83.0 L52.8,91.1 L55.1,93.4 L59.6,93.6Z" fill="#f8d6d6"/><path d="M61.6,101.1 L59.6,93.6 L55.1,93.4 L51.5,99.4 L55.7,103.6 L61.5,101.3Z" fill="#f9dcdc"/><path d="M61.5,101.3 L55.7,103.6 L53.7,109.8 L53.9,110.1 L64.7,109.8 L65.5,109.2Z" fill="#fae0e0"/><path d="M53.9,110.1 L53.5,116.6 L54.1,117.1 L61.2,117.0 L64.7,109.8Z" fill="#f8d6d6"/><path d="M61.2,117.0 L54.1,117.1 L55.7,124.9 L63.0,127.5 L64.6,120.2Z" fill="#fae0e0"/><path d="M55.7,124.9 L52.4,127.8 L53.5,134.6 L54.1,135.2 L62.6,133.3 L63.3,128.1 L63.0,127.5Z" fill="#f9d7d7"/><path d="M60.9,144.9 L63.4,134.7 L62.6,133.3 L54.1,135.2 L53.5,142.2 L55.9,143.7 L58.4,146.7Z" fill="#f9dbdb"/><path d="M70.9,60.3 L71.9,58.9 L71.7,48.2 L68.8,46.9 L63.3,48.8 L61.9,49.2 L61.0,58.9 L62.9,60.0Z" fill="#f9d8d8"/><path d="M71.7,67.4 L70.9,60.3 L62.9,60.0 L63.8,68.3 L63.8,68.3 L71.6,67.7Z" fill="#f9dcdc"/><path d="M63.8,68.3 L61.5,75.0 L63.5,76.5 L68.9,75.7 L70.5,74.6 L71.6,69.5 L71.6,67.7Z" fill="#fae1e1"/><path d="M70.4,81.8 L68.9,75.7 L63.5,76.5 L64.1,82.3 L70.1,82.6Z" fill="#fae2e2"/><path d="M69.3,89.4 L61.8,87.9 L60.4,92.7 L69.9,94.2 L69.7,90.3 L69.3,89.4Z" fill="#f8d5d5"/><path d="M70.6,98.2 L71.0,95.9 L69.9,94.2 L60.4,92.7 L59.6,93.6 L61.6,101.1Z" fill="#fadfdf"/><path d="M69.0,109.8 L72.8,102.6 L70.6,98.2 L61.6,101.1 L61.5,101.3 L65.5,109.2Z" fill="#fae6e6"/><path d="M69.0,109.8 L65.5,109.2 L64.7,109.8 L61.2,117.0 L64.6,120.2 L69.3,118.3 L69.6,110.5Z" fill="#fae0e0"/><path d="M64.6,120.2 L63.0,127.5 L63.3,128.1 L71.7,127.5 L73.4,125.9 L70.5,119.2 L69.3,118.3Z" fill="#f8d4d4"/><path d="M63.3,128.1 L62.6,133.3 L63.4,134.7 L70.9,137.6 L73.5,135.8 L71.7,127.5Z" fill="#f9d7d7"/><path d="M63.4,134.7 L60.9,144.9 L70.1,144.6 L70.9,137.6Z" fill="#f9d9d9"/><path d="M70.1,144.6 L60.9,144.9 L58.4,146.7 L59.5,148.0 L59.9,149.2 L61.2,151.9 L67.7,149.9 L72.1,146.8Z" fill="#f9dddd"/><path d="M89.1,50.0 L86.8,49.9 L88.9,52.5 L88.9,52.5Z" fill="#f8d6d6"/><path d="M71.9,58.9 L81.3,59.7 L84.1,57.7 L79.6,53.0 L75.5,50.0 L71.7,48.2Z" fill="#fae0e0"/><path d="M78.5,67.2 L80.1,65.7 L81.3,59.7 L71.9,58.9 L70.9,60.3 L71.7,67.4Z" fill="#f8d5d5"/><path d="M78.5,67.2 L71.7,67.4 L71.6,67.7 L71.6,69.5 L78.5,74.2 L79.5,69.7Z" fill="#fae3e3"/><path d="M72.8,102.6 L77.7,103.2 L81.7,99.7 L81.5,97.8 L75.0,94.5 L71.0,95.9 L70.6,98.2Z" fill="#f8d5d5"/><path d="M80.2,110.2 L77.7,103.2 L72.8,102.6 L69.0,109.8 L69.6,110.5 L77.8,112.4Z" fill="#f7cccc"/><path d="M77.8,112.4 L69.6,110.5 L69.3,118.3 L70.5,119.2 L78.2,117.0Z" fill="#f9d7d7"/><path d="M70.5,119.2 L73.4,125.9 L79.1,125.2 L79.7,119.2 L78.2,117.0Z" fill="#fae2e2"/><path d="M73.4,125.9 L71.7,127.5 L73.5,135.8 L78.1,136.2 L81.0,126.8 L79.1,125.2Z" fill="#f9d9d9"/><path d="M78.1,136.2 L73.5,135.8 L70.9,137.6 L70.1,144.6 L72.1,146.8 L74.3,145.3 L80.9,140.7 L82.2,140.0Z" fill="#f9dede"/><path d="M89.0,65.3 L91.0,63.0 L87.8,61.7 L84.1,57.7 L81.3,59.7 L80.1,65.7 L84.8,67.6Z" fill="#f8d1d1"/><path d="M84.2,71.5 L84.8,67.6 L80.1,65.7 L78.5,67.2 L79.5,69.7Z" fill="#fae6e6"/><path d="M81.9,96.9 L81.5,97.8 L81.7,99.7 L88.8,103.6 L89.1,103.4 L88.1,95.0 L86.2,93.3Z" fill="#fae7e7"/><path d="M77.7,103.2 L80.2,110.2 L87.5,109.9 L88.8,103.6 L81.7,99.7Z" fill="#fae5e5"/><path d="M79.7,119.2 L87.0,117.3 L87.7,110.1 L87.5,109.9 L80.2,110.2 L77.8,112.4 L78.2,117.0Z" fill="#f9dede"/><path d="M79.7,119.2 L79.1,125.2 L81.0,126.8 L87.3,127.6 L89.2,125.6 L89.5,120.7 L87.0,117.3Z" fill="#f8d4d4"/><path d="M87.3,127.6 L81.0,126.8 L78.1,136.2 L82.2,140.0 L88.8,136.1 L89.3,136.0Z" fill="#f9dada"/><path d="M95.8,64.9 L91.0,63.0 L89.0,65.3 L88.1,73.5 L89.9,74.6 L93.0,73.2Z" fill="#f9d7d7"/><path d="M88.1,95.0 L89.1,103.4 L96.4,100.6 L96.1,94.6Z" fill="#fae6e6"/><path d="M87.7,110.1 L96.4,112.8 L99.3,110.7 L96.6,100.7 L96.4,100.6 L89.1,103.4 L88.8,103.6 L87.5,109.9Z" fill="#fae3e3"/><path d="M87.0,117.3 L89.5,120.7 L96.2,117.6 L96.4,112.8 L87.7,110.1Z" fill="#f9dddd"/><path d="M97.3,118.7 L96.2,117.6 L89.5,120.7 L89.2,125.6 L96.6,126.4Z" fill="#f9d9d9"/><path d="M89.2,125.6 L87.3,127.6 L89.3,136.0 L100.6,132.8 L101.5,132.8 L101.5,129.9 L96.6,126.4Z" fill="#f8d7d7"/><path d="M100.4,75.2 L107.6,76.7 L109.7,74.8 L104.0,70.3 L99.9,67.6Z" fill="#f9d9d9"/><path d="M101.9,83.8 L104.8,84.7 L106.1,83.6 L107.6,76.7 L100.4,75.2 L98.9,76.2 L97.5,81.8 L97.5,81.8Z" fill="#fae0e0"/><path d="M96.4,93.1 L104.1,90.8 L104.8,84.7 L101.9,83.8 L95.3,91.2Z" fill="#fae3e3"/><path d="M96.1,94.6 L96.4,100.6 L96.6,100.7 L105.3,100.9 L105.8,92.4 L104.1,90.8 L96.4,93.1Z" fill="#f9dddd"/><path d="M105.3,100.9 L96.6,100.7 L99.3,110.7 L102.7,111.1 L103.5,110.3 L106.0,101.4Z" fill="#fae1e1"/><path d="M106.9,117.8 L102.7,111.1 L99.3,110.7 L96.4,112.8 L96.2,117.6 L97.3,118.7 L104.6,120.5Z" fill="#f8d6d6"/><path d="M97.3,118.7 L96.6,126.4 L101.5,129.9 L103.9,126.8 L104.6,120.5Z" fill="#f8d4d4"/><path d="M107.6,76.7 L106.1,83.6 L116.4,87.0 L115.8,86.1 L114.5,80.8 L110.6,75.6 L109.7,74.8Z" fill="#f8d4d4"/><path d="M105.8,92.4 L114.9,92.9 L118.5,89.7 L116.4,87.0 L106.1,83.6 L104.8,84.7 L104.1,90.8Z" fill="#fae4e4"/><path d="M114.9,92.9 L105.8,92.4 L105.3,100.9 L106.0,101.4 L111.3,102.3 L112.9,100.5Z" fill="#f8d4d4"/><path d="M106.0,101.4 L103.5,110.3 L113.1,108.1 L111.3,102.3Z" fill="#fae6e6"/><path d="M113.4,116.1 L113.3,108.4 L113.1,108.1 L103.5,110.3 L102.7,111.1 L106.9,117.8 L112.1,117.3Z" fill="#fae1e1"/><path d="M112.1,117.3 L106.9,117.8 L104.6,120.5 L103.9,126.8 L112.8,127.0 L114.0,125.2Z" fill="#f9d7d7"/><path d="M112.8,127.0 L103.9,126.8 L101.5,129.9 L101.5,132.8 L113.7,132.1 L113.8,132.1Z" fill="#f9dede"/><path d="M114.9,92.9 L112.9,100.5 L122.2,102.3 L125.4,98.5 L125.0,97.9 L119.7,91.3 L118.5,89.7Z" fill="#f8d3d3"/><path d="M122.2,102.3 L112.9,100.5 L111.3,102.3 L113.1,108.1 L113.3,108.4 L121.3,107.2Z" fill="#f8d6d6"/><path d="M113.3,108.4 L113.4,116.1 L121.9,116.9 L122.9,115.8 L123.2,109.7 L121.3,107.2Z" fill="#f9d8d8"/><path d="M123.0,125.2 L121.9,116.9 L113.4,116.1 L112.1,117.3 L114.0,125.2Z" fill="#f9d9d9"/><path d="M126.8,129.6 L123.0,125.2 L114.0,125.2 L112.8,127.0 L113.8,132.1 L127.0,130.4Z" fill="#f8d4d4"/><path d="M122.2,102.3 L121.3,107.2 L123.2,109.7 L131.2,107.6 L130.2,105.7 L125.4,98.5Z" fill="#f8d3d3"/><path d="M134.7,87.5 L134.7,87.7 L134.8,88.1 L134.8,88.4 L135.0,88.7 L135.1,89.0 L135.3,89.3 L135.5,89.6 L135.7,89.8 L135.9,90.0 L136.2,90.2 L136.5,90.4 L136.8,90.5 L137.1,90.7 L137.4,90.7 L137.8,90.8 L138.1,90.8 L138.4,90.8 L138.8,90.7 L139.1,90.7 L139.4,90.5 L139.7,90.4 L140.0,90.2 L140.3,90.0 L140.5,89.8 L140.7,89.6 L140.9,89.3 L141.1,89.0 L141.2,88.7 L141.4,88.4 L141.4,88.1 L141.5,87.7 L141.5,87.4 L141.5,87.3Z" fill="#fae1e1"/><path d="M123.2,109.7 L122.9,115.8 L133.3,116.3 L135.0,115.5 L134.2,113.6 L131.2,107.6Z" fill="#f8cfcf"/><path d="M126.8,129.6 L133.3,116.3 L122.9,115.8 L121.9,116.9 L123.0,125.2Z" fill="#f9dcdc"/><path d="M133.3,116.3 L126.8,129.6 L127.0,130.4 L128.2,130.2 L136.1,129.3 L138.1,126.7 L137.4,121.5 L135.0,115.5Z" fill="#f9dede"/><path d="M75.0,94.5 L81.5,97.8 L81.9,96.9 L80.7,92.7 L76.4,91.8Z" fill="#f8cfcf"/><path d="M82.7,90.4 L83.5,87.2 L82.1,85.9 L81.1,90.1 L81.5,90.4Z" fill="#f9dada"/><path d="M86.1,79.9 L88.1,78.9 L84.1,76.8 L83.8,77.1 L83.3,78.3 L83.7,78.8 L84.3,79.3Z" fill="#f9dbdb"/><path d="M78.7,83.8 L79.9,82.6 L76.9,80.1 L76.1,80.7 L75.9,81.7 L76.0,83.9Z" fill="#f9dcdc"/><path d="M82.1,85.9 L83.5,87.2 L85.7,87.8 L86.2,85.9 L83.4,83.9 L82.6,84.1 L82.0,85.8Z" fill="#fae3e3"/><path d="M76.1,80.7 L76.9,80.1 L77.7,78.7 L78.2,77.4 L78.0,76.2 L72.3,75.7 L73.7,79.8Z" fill="#fae1e1"/><path d="M81.9,96.9 L86.2,93.3 L86.2,92.4 L86.1,91.9 L82.7,90.4 L81.5,90.4 L80.7,92.7Z" fill="#f8d1d1"/><path d="M70.1,82.6 L64.1,82.3 L63.5,83.6 L69.4,87.0 L70.7,84.0 L70.6,83.4Z" fill="#f7cbcb"/><path d="M78.8,83.9 L78.9,85.3 L79.6,86.6 L81.5,85.9Z" fill="#fae1e1"/><path d="M82.0,85.8 L82.6,84.1 L81.6,82.7 L81.5,82.6 L79.9,82.6 L78.7,83.8 L78.8,83.9 L81.5,85.9Z" fill="#f9dcdc"/><path d="M94.2,89.1 L97.5,81.8 L97.5,81.8 L94.7,81.1 L91.8,81.8 L90.3,85.6 L91.0,87.1Z" fill="#fae2e2"/><path d="M83.4,83.9 L86.2,85.9 L88.0,84.6 L87.5,83.5 L86.7,83.0 L85.5,82.5 L85.4,82.6Z" fill="#f9dcdc"/><path d="M78.9,85.3 L75.6,85.0 L75.1,85.9 L75.1,85.9 L76.3,88.4 L76.9,89.0 L77.5,88.8 L79.6,86.6Z" fill="#fae0e0"/><path d="M83.3,78.3 L83.8,77.1 L80.4,74.5 L78.7,74.7 L78.0,76.2 L78.2,77.4 L79.2,77.7 L82.1,78.7Z" fill="#fae3e3"/><path d="M83.7,78.8 L83.3,78.3 L82.1,78.7 L81.4,81.6 L81.5,82.6 L81.6,82.7 L83.3,81.0Z" fill="#fae2e2"/><path d="M86.7,83.0 L87.5,83.5 L89.9,80.5 L88.7,78.8 L88.7,78.8Z" fill="#f9dede"/><path d="M76.9,89.0 L76.4,91.8 L80.7,92.7 L81.5,90.4 L81.1,90.1 L77.5,88.8Z" fill="#f9dfdf"/><path d="M86.1,91.9 L86.2,92.4 L94.8,90.5 L94.2,89.1 L91.0,87.1 L86.7,89.4Z" fill="#f9dcdc"/><path d="M86.7,83.0 L88.7,78.8 L88.1,78.9 L86.1,79.9 L85.5,82.5Z" fill="#fae0e0"/><path d="M79.2,77.7 L78.2,77.4 L77.7,78.7 L81.2,81.3Z" fill="#f9dddd"/><path d="M91.8,81.8 L89.9,80.5 L87.5,83.5 L88.0,84.6 L90.3,85.6Z" fill="#fae0e0"/><path d="M75.9,81.7 L76.1,80.7 L73.7,79.8 L70.4,81.8 L70.1,82.6 L70.6,83.4Z" fill="#f9dcdc"/><path d="M76.0,83.9 L75.9,81.7 L70.6,83.4 L70.7,84.0 L75.1,85.9 L75.6,85.0Z" fill="#fae3e3"/><path d="M78.7,74.7 L78.5,74.2 L71.6,69.5 L70.5,74.6 L72.3,75.7 L78.0,76.2Z" fill="#f9d7d7"/><path d="M83.3,81.0 L81.6,82.7 L82.6,84.1 L83.4,83.9 L85.4,82.6 L84.3,81.2Z" fill="#f9dddd"/><path d="M70.7,84.0 L69.4,87.0 L69.3,89.4 L69.3,89.4 L75.1,85.9 L75.1,85.9Z" fill="#fae3e3"/><path d="M93.0,73.2 L94.8,74.5 L98.9,76.2 L100.4,75.2 L99.9,67.6 L96.2,65.1 L95.8,64.9Z" fill="#f8d5d5"/><path d="M98.9,76.2 L94.8,74.5 L93.8,79.3 L94.7,81.1 L97.5,81.8Z" fill="#f9d8d8"/><path d="M81.2,81.3 L77.7,78.7 L76.9,80.1 L79.9,82.6 L81.5,82.6 L81.4,81.6Z" fill="#f9dada"/><path d="M76.3,88.4 L69.7,90.3 L69.9,94.2 L71.0,95.9 L75.0,94.5 L76.4,91.8 L76.9,89.0Z" fill="#fae2e2"/><path d="M88.7,78.8 L88.7,78.8 L89.9,75.3 L89.9,74.6 L88.1,73.5 L86.2,73.4 L84.1,76.8 L88.1,78.9Z" fill="#f9dfdf"/><path d="M84.2,71.5 L79.5,69.7 L78.5,74.2 L78.7,74.7 L80.4,74.5 L84.5,72.2Z" fill="#f9dbdb"/><path d="M79.6,86.6 L77.5,88.8 L81.1,90.1 L82.1,85.9 L82.0,85.8 L81.5,85.9Z" fill="#f9dada"/><path d="M73.7,79.8 L72.3,75.7 L70.5,74.6 L68.9,75.7 L70.4,81.8Z" fill="#f8d4d4"/><path d="M85.7,87.8 L83.5,87.2 L82.7,90.4 L86.1,91.9 L86.7,89.4Z" fill="#fae0e0"/><path d="M89.9,80.5 L91.8,81.8 L94.7,81.1 L93.8,79.3 L89.9,75.3 L88.7,78.8Z" fill="#f9dcdc"/><path d="M78.7,83.8 L76.0,83.9 L75.6,85.0 L78.9,85.3 L78.8,83.9Z" fill="#f9dfdf"/><path d="M82.1,78.7 L79.2,77.7 L81.2,81.3 L81.4,81.6Z" fill="#f9dede"/><path d="M86.2,93.3 L88.1,95.0 L96.1,94.6 L96.4,93.1 L95.3,91.2 L94.8,90.5 L86.2,92.4Z" fill="#f9d7d7"/><path d="M85.4,82.6 L85.5,82.5 L86.1,79.9 L84.3,79.3 L84.3,81.2Z" fill="#f9dada"/><path d="M88.1,73.5 L89.0,65.3 L84.8,67.6 L84.2,71.5 L84.5,72.2 L86.2,73.4Z" fill="#fae7e7"/><path d="M84.1,76.8 L86.2,73.4 L84.5,72.2 L80.4,74.5 L83.8,77.1Z" fill="#f9dcdc"/><path d="M101.9,83.8 L97.5,81.8 L94.2,89.1 L94.8,90.5 L95.3,91.2Z" fill="#f8d1d1"/><path d="M84.3,79.3 L83.7,78.8 L83.3,81.0 L84.3,81.2Z" fill="#fae0e0"/><path d="M63.5,83.6 L61.4,86.0 L61.8,87.9 L69.3,89.4 L69.4,87.0Z" fill="#fae0e0"/><path d="M89.9,74.6 L89.9,75.3 L93.8,79.3 L94.8,74.5 L93.0,73.2Z" fill="#f9dede"/><path d="M91.0,87.1 L90.3,85.6 L88.0,84.6 L86.2,85.9 L85.7,87.8 L86.7,89.4Z" fill="#fae3e3"/><path d="M69.3,89.4 L69.7,90.3 L76.3,88.4 L75.1,85.9Z" fill="#f9dbdb"/><path d="M62.2,3.0 L59.2,3.7 L53.4,8.1 L50.1,11.8 L50.4,13.2 L53.0,15.8Z" fill="#f9dbdb"/><path d="M53.0,15.8 L54.8,17.6 L59.2,21.5 L69.4,4.9 L63.6,2.7 L62.2,3.0Z" fill="#f9d9d9"/><path d="M59.2,21.5 L62.1,24.2 L65.4,26.7 L76.1,11.2 L76.0,11.1 L74.5,7.4 L70.1,5.2 L69.4,4.9Z" fill="#f9d7d7"/><path d="M81.2,14.7 L79.6,14.0 L76.1,11.2 L65.4,26.7 L70.9,30.8 L71.5,31.2Z" fill="#fae1e1"/><path d="M71.5,31.2 L79.1,36.3 L85.5,16.4 L81.2,14.7Z" fill="#f9dfdf"/><path d="M79.1,36.3 L79.6,36.6 L83.6,38.6 L93.8,20.6 L88.4,17.6 L85.5,16.4Z" fill="#f9dcdc"/><path d="M83.6,38.6 L86.8,40.1 L88.4,42.4 L90.9,43.7 L99.1,24.0 L96.4,22.0 L93.8,20.6Z" fill="#f9d9d9"/><path d="M96.9,44.7 L104.0,29.1 L101.5,27.8 L99.3,24.2 L99.1,24.0 L90.9,43.7 L93.2,44.9Z" fill="#f9dddd"/><path d="M96.9,44.7 L103.7,46.2 L112.0,32.8 L107.4,30.8 L104.0,29.1Z" fill="#f9dede"/><path d="M103.7,46.2 L108.1,49.7 L110.5,50.4 L111.2,50.8 L119.1,35.6 L117.6,35.1 L112.0,32.8Z" fill="#fae1e1"/><path d="M119.4,54.8 L124.2,37.3 L119.1,35.6 L111.2,50.8 L114.6,52.7 L118.4,54.5Z" fill="#f9dcdc"/><path d="M119.4,54.8 L120.0,55.2 L122.9,56.6 L123.9,56.4 L132.3,41.1 L132.2,41.0 L126.4,38.1 L124.2,37.3Z" fill="#f8d5d5"/><path d="M123.9,56.4 L124.2,56.3 L132.2,53.4 L134.2,52.5 L134.4,49.7 L135.7,44.2 L135.1,43.9 L132.3,41.1Z" fill="#fae1e1"/><path d="M108.0,57.2 L103.3,54.5 L95.0,50.4 L89.1,50.0 L88.9,52.5 L93.0,56.6 L100.2,60.7 L104.4,63.2Z" fill="#f9d9d9"/><path d="M103.7,46.2 L96.9,44.7 L93.2,44.9 L94.2,45.4 L103.0,48.3 L108.1,49.7Z" fill="#f9dfdf"/><path d="M119.5,64.9 L118.6,64.8 L118.8,66.3Z" fill="#f8d4d4"/><path d="M117.1,70.0 L116.7,64.8 L114.6,62.8 L111.0,60.7 L110.5,58.6 L108.0,57.2 L104.4,63.2 L110.5,66.9 L115.1,71.5 L116.6,71.1Z" fill="#f9d7d7"/><path d="M118.8,66.3 L119.4,70.8 L123.4,74.4 L129.8,74.4 L130.5,68.8 L124.9,65.8 L119.5,64.9Z" fill="#f9dfdf"/><path d="M116.6,71.1 L117.2,71.0 L117.1,70.0Z" fill="#f8d4d4"/><path d="M131.6,86.8 L132.2,83.3 L127.6,81.4 L131.0,86.6Z" fill="#f9dddd"/><path d="M141.5,87.3 L141.5,87.1 L141.4,86.7 L141.4,86.4 L141.2,86.1 L141.1,85.8 L140.9,85.5 L140.7,85.2 L140.5,85.0 L140.3,84.8 L140.0,84.6 L139.7,84.4 L139.4,84.3 L139.1,84.1 L138.8,84.1 L138.4,84.0 L138.1,84.0 L137.8,84.0 L137.4,84.1 L137.1,84.1 L136.8,84.3 L136.5,84.4 L136.2,84.6 L135.9,84.8 L135.7,85.0 L135.5,85.2 L135.3,85.5 L135.1,85.8 L135.0,86.1 L134.8,86.4 L134.8,86.7 L134.7,87.1 L134.7,87.4 L134.7,87.5Z" fill="#f9d8d8"/></g>
<g transform="translate(186.4 376.5)" stroke="#fbeeee" stroke-width="0.35" stroke-opacity="0.75" stroke-linejoin="round"><path d="M83.3,99.3 L89.5,98.8 L93.3,101.2 L93.3,113.8 L89.5,115.4 L86.3,112.8 L84.4,106Z" fill="#f7c6c6"/><path d="M91.8,94.1 L102.1,93.2 L103,98.8 L92.7,99.7Z" fill="#f8d2d2"/></g>
<text x="0" y="0" font-size="13.1" text-anchor="start" fill="#111" transform="translate(191.7 395.9) scale(1 1.06)">Station number</text>
<defs><linearGradient id="g264" x1="0" y1="1" x2="0" y2="0"><stop offset="0" stop-color="#fbe9ea"/><stop offset="0.35" stop-color="#f6b0b0"/><stop offset="0.65" stop-color="#f06060"/><stop offset="1" stop-color="#8b3c3c"/></linearGradient></defs>
<rect x="195.3" y="409.2" width="4.6" height="43" fill="url(#g264)" stroke="#444" stroke-width="0.6"/>
<line x1="199.9" y1="409.2" x2="201.7" y2="409.2" stroke="#555" stroke-width="0.7"/>
<text x="0" y="0" font-size="13" text-anchor="start" fill="#111" transform="translate(205.9 414.9) scale(1 1.06)">620</text>
<line x1="199.9" y1="430.7" x2="201.7" y2="430.7" stroke="#555" stroke-width="0.7"/>
<text x="0" y="0" font-size="13" text-anchor="start" fill="#111" transform="translate(205.9 436.4) scale(1 1.06)">310</text>
<line x1="199.9" y1="452.2" x2="201.7" y2="452.2" stroke="#555" stroke-width="0.7"/>
<text x="0" y="0" font-size="13" text-anchor="start" fill="#111" transform="translate(205.9 457.9) scale(1 1.06)">0</text>
<path d="M329,382.1 L320.2,405.3 L329,397.7 Z" fill="#fff" stroke="#333" stroke-width="0.5"/>
<path d="M329,382.1 L337.8,405.3 L329,397.7 Z" fill="#000" stroke="#000" stroke-width="0.5"/>
<text x="0" y="0" font-size="13" text-anchor="middle" fill="#111" transform="translate(329 414.7) scale(1 1.06)">N</text>
<rect x="283.7" y="520.2" width="17.2" height="3.8" fill="#000" stroke="none" stroke-width="1"/>
<rect x="300.9" y="520.4" width="17.2" height="3.4" fill="#fff" stroke="#666" stroke-width="0.5"/>
<text x="0" y="0" font-size="13" text-anchor="middle" fill="#111" transform="translate(283.1 516.8) scale(1 1.06)">0</text>
<text x="0" y="0" font-size="13" text-anchor="middle" fill="#111" transform="translate(301.3 516.8) scale(1 1.06)">15</text>
<text x="0" y="0" font-size="13" text-anchor="middle" fill="#111" transform="translate(317.9 516.8) scale(1 1.06)">30</text>
<text x="0" y="0" font-size="13" text-anchor="start" fill="#111" transform="translate(320.4 528.8) scale(1 1.06)">KM</text>
<text x="0" y="0" font-size="13" text-anchor="start" fill="#111" transform="translate(194.1 525.5) scale(1 1.06)">2018</text>
<rect x="352.7" y="376.7" width="156.3" height="155.6" fill="#f9f9f9" stroke="#444" stroke-width="1.3"/>
<g transform="translate(354.1 377.7)" stroke="#fbeeee" stroke-width="0.35" stroke-opacity="0.75" stroke-linejoin="round"><path d="M27.3,101.3 L30.4,100.1 L30.3,94.7 L26.8,95.0 L21.8,95.6 L19.1,97.1Z" fill="#f5bcbc"/><path d="M27.3,101.3 L19.1,97.1 L15.1,99.2 L18.7,101.1 L19.3,105.9 L20.6,110.2 L25.1,110.9Z" fill="#f6bfbf"/><path d="M30.4,100.1 L34.8,101.5 L39.2,93.4 L37.2,92.0 L34.0,94.4 L30.3,94.7Z" fill="#f6bebe"/><path d="M30.4,100.1 L27.3,101.3 L25.1,110.9 L28.5,111.4 L28.7,111.9 L36.8,106.0 L36.7,103.9 L34.8,101.5Z" fill="#f7c8c8"/><path d="M36.8,106.0 L28.7,111.9 L29.7,114.5 L29.8,116.1 L37.2,116.4 L40.0,110.2Z" fill="#f6bfbf"/><path d="M29.8,116.1 L30.3,125.4 L32.0,128.8 L37.2,126.3 L40.0,120.0 L37.2,116.4Z" fill="#f5b9b9"/><path d="M42.4,83.3 L48.1,76.3 L47.3,75.6 L45.1,77.4 L40.2,76.8 L38.4,80.4 L38.2,81.9Z" fill="#f6bebe"/><path d="M39.2,93.4 L43.6,93.1 L45.3,90.4 L44.9,86.8 L42.4,83.3 L38.2,81.9 L37.7,85.3 L38.2,91.3 L37.2,92.0Z" fill="#f7c7c7"/><path d="M43.6,93.1 L39.2,93.4 L34.8,101.5 L36.7,103.9 L45.8,100.7 L46.3,99.8Z" fill="#f5b9b9"/><path d="M47.1,107.4 L45.8,100.7 L36.7,103.9 L36.8,106.0 L40.0,110.2 L43.3,110.4Z" fill="#f6bebe"/><path d="M40.0,110.2 L37.2,116.4 L40.0,120.0 L45.7,119.6 L47.4,118.0 L43.3,110.4Z" fill="#f7c6c6"/><path d="M37.2,126.3 L44.5,129.5 L47.2,127.1 L45.7,119.6 L40.0,120.0Z" fill="#f6bebe"/><path d="M44.5,129.5 L37.2,126.3 L32.0,128.8 L32.1,129.1 L30.3,134.6 L35.8,133.9 L41.3,132.1 L44.4,134.8Z" fill="#f5b9b9"/><path d="M53.7,67.2 L55.5,65.7 L58.0,60.2 L49.4,54.9 L46.9,56.7 L46.9,60.9 L44.6,63.6Z" fill="#f6c4c4"/><path d="M48.1,76.3 L53.6,76.8 L54.8,75.4 L53.7,67.2 L44.6,63.6 L43.8,64.6 L42.6,68.2 L45.7,71.9 L48.1,74.9 L47.3,75.6Z" fill="#f4b2b2"/><path d="M53.6,76.8 L48.1,76.3 L42.4,83.3 L44.9,86.8 L53.9,81.6Z" fill="#f5b7b7"/><path d="M54.8,83.0 L53.9,81.6 L44.9,86.8 L45.3,90.4 L52.8,91.1Z" fill="#f6c4c4"/><path d="M52.8,91.1 L45.3,90.4 L43.6,93.1 L46.3,99.8 L51.5,99.4 L55.1,93.4Z" fill="#f7c7c7"/><path d="M55.7,103.6 L51.5,99.4 L46.3,99.8 L45.8,100.7 L47.1,107.4 L53.7,109.8Z" fill="#f5b9b9"/><path d="M47.1,107.4 L43.3,110.4 L47.4,118.0 L53.5,116.6 L53.9,110.1 L53.7,109.8Z" fill="#f6c4c4"/><path d="M45.7,119.6 L47.2,127.1 L52.4,127.8 L55.7,124.9 L54.1,117.1 L53.5,116.6 L47.4,118.0Z" fill="#f6c2c2"/><path d="M47.2,127.1 L44.5,129.5 L44.4,134.8 L44.4,134.8 L53.5,134.6 L52.4,127.8Z" fill="#f6bebe"/><path d="M54.1,135.2 L53.5,134.6 L44.4,134.8 L44.9,135.2 L44.3,140.6 L52.2,141.3 L53.5,142.2Z" fill="#f6c2c2"/><path d="M61.9,49.2 L57.2,50.6 L51.1,53.6 L49.4,54.9 L58.0,60.2 L61.0,58.9Z" fill="#f7caca"/><path d="M61.0,58.9 L58.0,60.2 L55.5,65.7 L63.8,68.3 L62.9,60.0Z" fill="#f6c3c3"/><path d="M63.8,68.3 L63.8,68.3 L55.5,65.7 L53.7,67.2 L54.8,75.4 L61.5,75.0Z" fill="#f5bdbd"/><path d="M64.1,82.3 L63.5,76.5 L61.5,75.0 L54.8,75.4 L53.6,76.8 L53.9,81.6 L54.8,83.0 L61.4,86.0 L63.5,83.6Z" fill="#f5b5b5"/><path d="M60.4,92.7 L61.8,87.9 L61.4,86.0 L54.8,83.0 L52.8,91.1 L55.1,93.4 L59.6,93.6Z" fill="#f5b9b9"/><path d="M61.6,101.1 L59.6,93.6 L55.1,93.4 L51.5,99.4 L55.7,103.6 L61.5,101.3Z" fill="#f6c2c2"/><path d="M61.5,101.3 L55.7,103.6 L53.7,109.8 L53.9,110.1 L64.7,109.8 L65.5,109.2Z" fill="#f7c6c6"/><path d="M53.9,110.1 L53.5,116.6 L54.1,117.1 L61.2,117.0 L64.7,109.8Z" fill="#f5bcbc"/><path d="M61.2,117.0 L54.1,117.1 L55.7,124.9 L63.0,127.5 L64.6,120.2Z" fill="#f7c7c7"/><path d="M55.7,124.9 L52.4,127.8 L53.5,134.6 L54.1,135.2 L62.6,133.3 L63.3,128.1 L63.0,127.5Z" fill="#f6bdbd"/><path d="M60.9,144.9 L63.4,134.7 L62.6,133.3 L54.1,135.2 L53.5,142.2 L55.9,143.7 L58.4,146.7Z" fill="#f6c1c1"/><path d="M70.9,60.3 L71.9,58.9 L71.7,48.2 L68.8,46.9 L63.3,48.8 L61.9,49.2 L61.0,58.9 L62.9,60.0Z" fill="#f5bbbb"/><path d="M71.7,67.4 L70.9,60.3 L62.9,60.0 L63.8,68.3 L63.8,68.3 L71.6,67.7Z" fill="#f6bfbf"/><path d="M63.8,68.3 L61.5,75.0 L63.5,76.5 L68.9,75.7 L70.5,74.6 L71.6,69.5 L71.6,67.7Z" fill="#f6c4c4"/><path d="M70.4,81.8 L68.9,75.7 L63.5,76.5 L64.1,82.3 L70.1,82.6Z" fill="#f6c5c5"/><path d="M69.3,89.4 L61.8,87.9 L60.4,92.7 L69.9,94.2 L69.7,90.3 L69.3,89.4Z" fill="#f5b8b8"/><path d="M70.6,98.2 L71.0,95.9 L69.9,94.2 L60.4,92.7 L59.6,93.6 L61.6,101.1Z" fill="#f6c2c2"/><path d="M69.0,109.8 L72.8,102.6 L70.6,98.2 L61.6,101.1 L61.5,101.3 L65.5,109.2Z" fill="#f7c9c9"/><path d="M69.0,109.8 L65.5,109.2 L64.7,109.8 L61.2,117.0 L64.6,120.2 L69.3,118.3 L69.6,110.5Z" fill="#f7c6c6"/><path d="M64.6,120.2 L63.0,127.5 L63.3,128.1 L71.7,127.5 L73.4,125.9 L70.5,119.2 L69.3,118.3Z" fill="#f5baba"/><path d="M63.3,128.1 L62.6,133.3 L63.4,134.7 L70.9,137.6 L73.5,135.8 L71.7,127.5Z" fill="#f6bebe"/><path d="M63.4,134.7 L60.9,144.9 L70.1,144.6 L70.9,137.6Z" fill="#f6c0c0"/><path d="M70.1,144.6 L60.9,144.9 L58.4,146.7 L59.5,148.0 L59.9,149.2 L61.2,151.9 L67.7,149.9 L72.1,146.8Z" fill="#f6c3c3"/><path d="M89.1,50.0 L86.8,49.9 L88.9,52.5 L88.9,52.5Z" fill="#f8d3d3"/><path d="M71.9,58.9 L81.3,59.7 L84.1,57.7 L79.6,53.0 L75.5,50.0 L71.7,48.2Z" fill="#f6c2c2"/><path d="M78.5,67.2 L80.1,65.7 L81.3,59.7 L71.9,58.9 L70.9,60.3 L71.7,67.4Z" fill="#f5b8b8"/><path d="M78.5,67.2 L71.7,67.4 L71.6,67.7 L71.6,69.5 L78.5,74.2 L79.5,69.7Z" fill="#fae0e0"/><path d="M72.8,102.6 L77.7,103.2 L81.7,99.7 L81.5,97.8 L75.0,94.5 L71.0,95.9 L70.6,98.2Z" fill="#f5b8b8"/><path d="M80.2,110.2 L77.7,103.2 L72.8,102.6 L69.0,109.8 L69.6,110.5 L77.8,112.4Z" fill="#f4afaf"/><path d="M77.8,112.4 L69.6,110.5 L69.3,118.3 L70.5,119.2 L78.2,117.0Z" fill="#f6bebe"/><path d="M70.5,119.2 L73.4,125.9 L79.1,125.2 L79.7,119.2 L78.2,117.0Z" fill="#f7c8c8"/><path d="M73.4,125.9 L71.7,127.5 L73.5,135.8 L78.1,136.2 L81.0,126.8 L79.1,125.2Z" fill="#f6c0c0"/><path d="M78.1,136.2 L73.5,135.8 L70.9,137.6 L70.1,144.6 L72.1,146.8 L74.3,145.3 L80.9,140.7 L82.2,140.0Z" fill="#f6c4c4"/><path d="M89.0,65.3 L91.0,63.0 L87.8,61.7 L84.1,57.7 L81.3,59.7 L80.1,65.7 L84.8,67.6Z" fill="#f5b5b5"/><path d="M84.2,71.5 L84.8,67.6 L80.1,65.7 L78.5,67.2 L79.5,69.7Z" fill="#f7c9c9"/><path d="M81.9,96.9 L81.5,97.8 L81.7,99.7 L88.8,103.6 L89.1,103.4 L88.1,95.0 L86.2,93.3Z" fill="#f7cbcb"/><path d="M77.7,103.2 L80.2,110.2 L87.5,109.9 L88.8,103.6 L81.7,99.7Z" fill="#f7c9c9"/><path d="M79.7,119.2 L87.0,117.3 L87.7,110.1 L87.5,109.9 L80.2,110.2 L77.8,112.4 L78.2,117.0Z" fill="#f6c4c4"/><path d="M79.7,119.2 L79.1,125.2 L81.0,126.8 L87.3,127.6 L89.2,125.6 L89.5,120.7 L87.0,117.3Z" fill="#f5bbbb"/><path d="M87.3,127.6 L81.0,126.8 L78.1,136.2 L82.2,140.0 L88.8,136.1 L89.3,136.0Z" fill="#f6c0c0"/><path d="M95.8,64.9 L91.0,63.0 L89.0,65.3 L88.1,73.5 L89.9,74.6 L93.0,73.2Z" fill="#f5bcbc"/><path d="M88.1,95.0 L89.1,103.4 L96.4,100.6 L96.1,94.6Z" fill="#f7caca"/><path d="M87.7,110.1 L96.4,112.8 L99.3,110.7 L96.6,100.7 L96.4,100.6 L89.1,103.4 L88.8,103.6 L87.5,109.9Z" fill="#f7c7c7"/><path d="M87.0,117.3 L89.5,120.7 L96.2,117.6 L96.4,112.8 L87.7,110.1Z" fill="#f6c3c3"/><path d="M97.3,118.7 L96.2,117.6 L89.5,120.7 L89.2,125.6 L96.6,126.4Z" fill="#f6bfbf"/><path d="M89.2,125.6 L87.3,127.6 L89.3,136.0 L100.6,132.8 L101.5,132.8 L101.5,129.9 L96.6,126.4Z" fill="#f5bdbd"/><path d="M100.4,75.2 L107.6,76.7 L109.7,74.8 L104.0,70.3 L99.9,67.6Z" fill="#f6bebe"/><path d="M101.9,83.8 L104.8,84.7 L106.1,83.6 L107.6,76.7 L100.4,75.2 L98.9,76.2 L97.5,81.8 L97.5,81.8Z" fill="#f6c5c5"/><path d="M96.4,93.1 L104.1,90.8 L104.8,84.7 L101.9,83.8 L95.3,91.2Z" fill="#f7c7c7"/><path d="M96.1,94.6 L96.4,100.6 L96.6,100.7 L105.3,100.9 L105.8,92.4 L104.1,90.8 L96.4,93.1Z" fill="#f6c1c1"/><path d="M105.3,100.9 L96.6,100.7 L99.3,110.7 L102.7,111.1 L103.5,110.3 L106.0,101.4Z" fill="#f6c5c5"/><path d="M106.9,117.8 L102.7,111.1 L99.3,110.7 L96.4,112.8 L96.2,117.6 L97.3,118.7 L104.6,120.5Z" fill="#f5bdbd"/><path d="M97.3,118.7 L96.6,126.4 L101.5,129.9 L103.9,126.8 L104.6,120.5Z" fill="#f5baba"/><path d="M107.6,76.7 L106.1,83.6 L116.4,87.0 L115.8,86.1 L114.5,80.8 L110.6,75.6 L109.7,74.8Z" fill="#f5b8b8"/><path d="M105.8,92.4 L114.9,92.9 L118.5,89.7 L116.4,87.0 L106.1,83.6 L104.8,84.7 L104.1,90.8Z" fill="#f7c9c9"/><path d="M114.9,92.9 L105.8,92.4 L105.3,100.9 L106.0,101.4 L111.3,102.3 L112.9,100.5Z" fill="#f5b9b9"/><path d="M106.0,101.4 L103.5,110.3 L113.1,108.1 L111.3,102.3Z" fill="#f7cbcb"/><path d="M113.4,116.1 L113.3,108.4 L113.1,108.1 L103.5,110.3 L102.7,111.1 L106.9,117.8 L112.1,117.3Z" fill="#f7c7c7"/><path d="M112.1,117.3 L106.9,117.8 L104.6,120.5 L103.9,126.8 L112.8,127.0 L114.0,125.2Z" fill="#f6bebe"/><path d="M112.8,127.0 L103.9,126.8 L101.5,129.9 L101.5,132.8 L113.7,132.1 L113.8,132.1Z" fill="#f6c4c4"/><path d="M114.9,92.9 L112.9,100.5 L122.2,102.3 L125.4,98.5 L125.0,97.9 L119.7,91.3 L118.5,89.7Z" fill="#f5b8b8"/><path d="M122.2,102.3 L112.9,100.5 L111.3,102.3 L113.1,108.1 L113.3,108.4 L121.3,107.2Z" fill="#f5bbbb"/><path d="M113.3,108.4 L113.4,116.1 L121.9,116.9 L122.9,115.8 L123.2,109.7 L121.3,107.2Z" fill="#f6bfbf"/><path d="M123.0,125.2 L121.9,116.9 L113.4,116.1 L112.1,117.3 L114.0,125.2Z" fill="#f6bfbf"/><path d="M126.8,129.6 L123.0,125.2 L114.0,125.2 L112.8,127.0 L113.8,132.1 L127.0,130.4Z" fill="#f5baba"/><path d="M122.2,102.3 L121.3,107.2 L123.2,109.7 L131.2,107.6 L130.2,105.7 L125.4,98.5Z" fill="#f5b7b7"/><path d="M134.7,87.5 L134.7,87.7 L134.8,88.1 L134.8,88.4 L135.0,88.7 L135.1,89.0 L135.3,89.3 L135.5,89.6 L135.7,89.8 L135.9,90.0 L136.2,90.2 L136.5,90.4 L136.8,90.5 L137.1,90.7 L137.4,90.7 L137.8,90.8 L138.1,90.8 L138.4,90.8 L138.8,90.7 L139.1,90.7 L139.4,90.5 L139.7,90.4 L140.0,90.2 L140.3,90.0 L140.5,89.8 L140.7,89.6 L140.9,89.3 L141.1,89.0 L141.2,88.7 L141.4,88.4 L141.4,88.1 L141.5,87.7 L141.5,87.4 L141.5,87.3Z" fill="#f9dede"/><path d="M123.2,109.7 L122.9,115.8 L133.3,116.3 L135.0,115.5 L134.2,113.6 L131.2,107.6Z" fill="#f4b4b4"/><path d="M126.8,129.6 L133.3,116.3 L122.9,115.8 L121.9,116.9 L123.0,125.2Z" fill="#f6c2c2"/><path d="M133.3,116.3 L126.8,129.6 L127.0,130.4 L128.2,130.2 L136.1,129.3 L138.1,126.7 L137.4,121.5 L135.0,115.5Z" fill="#f6c5c5"/><path d="M75.0,94.5 L81.5,97.8 L81.9,96.9 L80.7,92.7 L76.4,91.8Z" fill="#f4b2b2"/><path d="M82.7,90.4 L83.5,87.2 L82.1,85.9 L81.1,90.1 L81.5,90.4Z" fill="#f8d7d7"/><path d="M86.1,79.9 L88.1,78.9 L84.1,76.8 L83.8,77.1 L83.3,78.3 L83.7,78.8 L84.3,79.3Z" fill="#f9d8d8"/><path d="M78.7,83.8 L79.9,82.6 L76.9,80.1 L76.1,80.7 L75.9,81.7 L76.0,83.9Z" fill="#f9d9d9"/><path d="M82.1,85.9 L83.5,87.2 L85.7,87.8 L86.2,85.9 L83.4,83.9 L82.6,84.1 L82.0,85.8Z" fill="#fae0e0"/><path d="M76.1,80.7 L76.9,80.1 L77.7,78.7 L78.2,77.4 L78.0,76.2 L72.3,75.7 L73.7,79.8Z" fill="#f9dddd"/><path d="M81.9,96.9 L86.2,93.3 L86.2,92.4 L86.1,91.9 L82.7,90.4 L81.5,90.4 L80.7,92.7Z" fill="#f4b3b3"/><path d="M70.1,82.6 L64.1,82.3 L63.5,83.6 L69.4,87.0 L70.7,84.0 L70.6,83.4Z" fill="#f4aeae"/><path d="M78.8,83.9 L78.9,85.3 L79.6,86.6 L81.5,85.9Z" fill="#f9dddd"/><path d="M82.0,85.8 L82.6,84.1 L81.6,82.7 L81.5,82.6 L79.9,82.6 L78.7,83.8 L78.8,83.9 L81.5,85.9Z" fill="#f9d8d8"/><path d="M94.2,89.1 L97.5,81.8 L97.5,81.8 L94.7,81.1 L91.8,81.8 L90.3,85.6 L91.0,87.1Z" fill="#f9dfdf"/><path d="M83.4,83.9 L86.2,85.9 L88.0,84.6 L87.5,83.5 L86.7,83.0 L85.5,82.5 L85.4,82.6Z" fill="#f9d8d8"/><path d="M78.9,85.3 L75.6,85.0 L75.1,85.9 L75.1,85.9 L76.3,88.4 L76.9,89.0 L77.5,88.8 L79.6,86.6Z" fill="#f9dcdc"/><path d="M83.3,78.3 L83.8,77.1 L80.4,74.5 L78.7,74.7 L78.0,76.2 L78.2,77.4 L79.2,77.7 L82.1,78.7Z" fill="#fadfdf"/><path d="M83.7,78.8 L83.3,78.3 L82.1,78.7 L81.4,81.6 L81.5,82.6 L81.6,82.7 L83.3,81.0Z" fill="#f9dede"/><path d="M86.7,83.0 L87.5,83.5 L89.9,80.5 L88.7,78.8 L88.7,78.8Z" fill="#f9dada"/><path d="M76.9,89.0 L76.4,91.8 L80.7,92.7 L81.5,90.4 L81.1,90.1 L77.5,88.8Z" fill="#f9dbdb"/><path d="M86.1,91.9 L86.2,92.4 L94.8,90.5 L94.2,89.1 L91.0,87.1 L86.7,89.4Z" fill="#f9d9d9"/><path d="M86.7,83.0 L88.7,78.8 L88.1,78.9 L86.1,79.9 L85.5,82.5Z" fill="#f9dcdc"/><path d="M79.2,77.7 L78.2,77.4 L77.7,78.7 L81.2,81.3Z" fill="#f9dada"/><path d="M91.8,81.8 L89.9,80.5 L87.5,83.5 L88.0,84.6 L90.3,85.6Z" fill="#f9dcdc"/><path d="M75.9,81.7 L76.1,80.7 L73.7,79.8 L70.4,81.8 L70.1,82.6 L70.6,83.4Z" fill="#f9d8d8"/><path d="M76.0,83.9 L75.9,81.7 L70.6,83.4 L70.7,84.0 L75.1,85.9 L75.6,85.0Z" fill="#fae0e0"/><path d="M78.7,74.7 L78.5,74.2 L71.6,69.5 L70.5,74.6 L72.3,75.7 L78.0,76.2Z" fill="#f5baba"/><path d="M83.3,81.0 L81.6,82.7 L82.6,84.1 L83.4,83.9 L85.4,82.6 L84.3,81.2Z" fill="#f9dada"/><path d="M70.7,84.0 L69.4,87.0 L69.3,89.4 L69.3,89.4 L75.1,85.9 L75.1,85.9Z" fill="#fadfdf"/><path d="M93.0,73.2 L94.8,74.5 L98.9,76.2 L100.4,75.2 L99.9,67.6 L96.2,65.1 L95.8,64.9Z" fill="#f5b9b9"/><path d="M98.9,76.2 L94.8,74.5 L93.8,79.3 L94.7,81.1 L97.5,81.8Z" fill="#f5bcbc"/><path d="M81.2,81.3 L77.7,78.7 L76.9,80.1 L79.9,82.6 L81.5,82.6 L81.4,81.6Z" fill="#f8d6d6"/><path d="M76.3,88.4 L69.7,90.3 L69.9,94.2 L71.0,95.9 L75.0,94.5 L76.4,91.8 L76.9,89.0Z" fill="#f6c5c5"/><path d="M88.7,78.8 L88.7,78.8 L89.9,75.3 L89.9,74.6 L88.1,73.5 L86.2,73.4 L84.1,76.8 L88.1,78.9Z" fill="#f9dcdc"/><path d="M84.2,71.5 L79.5,69.7 L78.5,74.2 L78.7,74.7 L80.4,74.5 L84.5,72.2Z" fill="#f9d7d7"/><path d="M79.6,86.6 L77.5,88.8 L81.1,90.1 L82.1,85.9 L82.0,85.8 L81.5,85.9Z" fill="#f8d6d6"/><path d="M73.7,79.8 L72.3,75.7 L70.5,74.6 L68.9,75.7 L70.4,81.8Z" fill="#f5b7b7"/><path d="M85.7,87.8 L83.5,87.2 L82.7,90.4 L86.1,91.9 L86.7,89.4Z" fill="#f9dcdc"/><path d="M89.9,80.5 L91.8,81.8 L94.7,81.1 L93.8,79.3 L89.9,75.3 L88.7,78.8Z" fill="#f9d8d8"/><path d="M78.7,83.8 L76.0,83.9 L75.6,85.0 L78.9,85.3 L78.8,83.9Z" fill="#f9dbdb"/><path d="M82.1,78.7 L79.2,77.7 L81.2,81.3 L81.4,81.6Z" fill="#f9dbdb"/><path d="M86.2,93.3 L88.1,95.0 L96.1,94.6 L96.4,93.1 L95.3,91.2 L94.8,90.5 L86.2,92.4Z" fill="#f5bbbb"/><path d="M85.4,82.6 L85.5,82.5 L86.1,79.9 L84.3,79.3 L84.3,81.2Z" fill="#f8d6d6"/><path d="M88.1,73.5 L89.0,65.3 L84.8,67.6 L84.2,71.5 L84.5,72.2 L86.2,73.4Z" fill="#f7cbcb"/><path d="M84.1,76.8 L86.2,73.4 L84.5,72.2 L80.4,74.5 L83.8,77.1Z" fill="#f9d9d9"/><path d="M101.9,83.8 L97.5,81.8 L94.2,89.1 L94.8,90.5 L95.3,91.2Z" fill="#f5b5b5"/><path d="M84.3,79.3 L83.7,78.8 L83.3,81.0 L84.3,81.2Z" fill="#f9dcdc"/><path d="M63.5,83.6 L61.4,86.0 L61.8,87.9 L69.3,89.4 L69.4,87.0Z" fill="#f6c3c3"/><path d="M89.9,74.6 L89.9,75.3 L93.8,79.3 L94.8,74.5 L93.0,73.2Z" fill="#f9dada"/><path d="M91.0,87.1 L90.3,85.6 L88.0,84.6 L86.2,85.9 L85.7,87.8 L86.7,89.4Z" fill="#fae0e0"/><path d="M69.3,89.4 L69.7,90.3 L76.3,88.4 L75.1,85.9Z" fill="#f9d8d8"/><path d="M62.2,3.0 L59.2,3.7 L53.4,8.1 L50.1,11.8 L50.4,13.2 L53.0,15.8Z" fill="#f9d8d8"/><path d="M53.0,15.8 L54.8,17.6 L59.2,21.5 L69.4,4.9 L63.6,2.7 L62.2,3.0Z" fill="#f8d5d5"/><path d="M59.2,21.5 L62.1,24.2 L65.4,26.7 L76.1,11.2 L76.0,11.1 L74.5,7.4 L70.1,5.2 L69.4,4.9Z" fill="#f8d4d4"/><path d="M81.2,14.7 L79.6,14.0 L76.1,11.2 L65.4,26.7 L70.9,30.8 L71.5,31.2Z" fill="#f9dede"/><path d="M71.5,31.2 L79.1,36.3 L85.5,16.4 L81.2,14.7Z" fill="#f9dcdc"/><path d="M79.1,36.3 L79.6,36.6 L83.6,38.6 L93.8,20.6 L88.4,17.6 L85.5,16.4Z" fill="#f9d9d9"/><path d="M83.6,38.6 L86.8,40.1 L88.4,42.4 L90.9,43.7 L99.1,24.0 L96.4,22.0 L93.8,20.6Z" fill="#f8d6d6"/><path d="M96.9,44.7 L104.0,29.1 L101.5,27.8 L99.3,24.2 L99.1,24.0 L90.9,43.7 L93.2,44.9Z" fill="#f9d9d9"/><path d="M96.9,44.7 L103.7,46.2 L112.0,32.8 L107.4,30.8 L104.0,29.1Z" fill="#f9dada"/><path d="M103.7,46.2 L108.1,49.7 L110.5,50.4 L111.2,50.8 L119.1,35.6 L117.6,35.1 L112.0,32.8Z" fill="#f9dede"/><path d="M119.4,54.8 L124.2,37.3 L119.1,35.6 L111.2,50.8 L114.6,52.7 L118.4,54.5Z" fill="#f9d8d8"/><path d="M119.4,54.8 L120.0,55.2 L122.9,56.6 L123.9,56.4 L132.3,41.1 L132.2,41.0 L126.4,38.1 L124.2,37.3Z" fill="#f8d1d1"/><path d="M123.9,56.4 L124.2,56.3 L132.2,53.4 L134.2,52.5 L134.4,49.7 L135.7,44.2 L135.1,43.9 L132.3,41.1Z" fill="#f9dede"/><path d="M108.0,57.2 L103.3,54.5 L95.0,50.4 L89.1,50.0 L88.9,52.5 L93.0,56.6 L100.2,60.7 L104.4,63.2Z" fill="#f8d6d6"/><path d="M103.7,46.2 L96.9,44.7 L93.2,44.9 L94.2,45.4 L103.0,48.3 L108.1,49.7Z" fill="#f9dbdb"/><path d="M119.5,64.9 L118.6,64.8 L118.8,66.3Z" fill="#f8d1d1"/><path d="M117.1,70.0 L116.7,64.8 L114.6,62.8 L111.0,60.7 L110.5,58.6 L108.0,57.2 L104.4,63.2 L110.5,66.9 L115.1,71.5 L116.6,71.1Z" fill="#f8d3d3"/><path d="M118.8,66.3 L119.4,70.8 L123.4,74.4 L129.8,74.4 L130.5,68.8 L124.9,65.8 L119.5,64.9Z" fill="#f9dbdb"/><path d="M116.6,71.1 L117.2,71.0 L117.1,70.0Z" fill="#f8d1d1"/><path d="M131.6,86.8 L132.2,83.3 L127.6,81.4 L131.0,86.6Z" fill="#f9dada"/><path d="M141.5,87.3 L141.5,87.1 L141.4,86.7 L141.4,86.4 L141.2,86.1 L141.1,85.8 L140.9,85.5 L140.7,85.2 L140.5,85.0 L140.3,84.8 L140.0,84.6 L139.7,84.4 L139.4,84.3 L139.1,84.1 L138.8,84.1 L138.4,84.0 L138.1,84.0 L137.8,84.0 L137.4,84.1 L137.1,84.1 L136.8,84.3 L136.5,84.4 L136.2,84.6 L135.9,84.8 L135.7,85.0 L135.5,85.2 L135.3,85.5 L135.1,85.8 L135.0,86.1 L134.8,86.4 L134.8,86.7 L134.7,87.1 L134.7,87.4 L134.7,87.5Z" fill="#f8d5d5"/></g>
<g transform="translate(352.7 376.7)" stroke="#fbeeee" stroke-width="0.35" stroke-opacity="0.75" stroke-linejoin="round"><path d="M83.3,99.3 L89.5,98.8 L93.3,101.2 L93.3,113.8 L89.5,115.4 L86.3,112.8 L84.4,106Z" fill="#ef6c6c"/><path d="M49.5,55 L56,53.5 L62.5,56 L62,65.5 L51,65Z" fill="#f39e9e"/><path d="M48.2,70.5 L62.5,70 L62.8,81.5 L49,81.8Z" fill="#f39e9e"/><path d="M104.9,88.5 L110.5,88.1 L113.3,90.4 L112.9,97.8 L111.4,102.5 L107.7,101.6 L104.3,96 L103,91.3Z" fill="#f3a3a3"/><path d="M113.3,88.1 L119.9,87 L124.5,94.1 L129.2,101.6 L132,109.1 L128.3,109.1 L122.7,106.3 L117.1,102.5 L112.9,97.8Z" fill="#f4adad"/><path d="M111.4,103.5 L119.9,103.5 L120.8,112.8 L113.3,112.8Z" fill="#f4adad"/><path d="M66,117 L72,116.5 L78.5,118 L79,130.5 L71,131.5 L66.5,127Z" fill="#f3a3a3"/><path d="M96,117 L104,116.5 L105,126 L97,127.5Z" fill="#f4b2b2"/><path d="M40,112 L50,111 L51,121 L41,122Z" fill="#f4b2b2"/></g>
<text x="0" y="0" font-size="13.1" text-anchor="start" fill="#111" transform="translate(358 396.1) scale(1 1.06)">Station number</text>
<defs><linearGradient id="g286" x1="0" y1="1" x2="0" y2="0"><stop offset="0" stop-color="#fbe9ea"/><stop offset="0.35" stop-color="#f6b0b0"/><stop offset="0.65" stop-color="#f06060"/><stop offset="1" stop-color="#8b3c3c"/></linearGradient></defs>
<rect x="361.6" y="409.4" width="4.6" height="43" fill="url(#g286)" stroke="#444" stroke-width="0.6"/>
<line x1="366.2" y1="409.4" x2="368" y2="409.4" stroke="#555" stroke-width="0.7"/>
<text x="0" y="0" font-size="13" text-anchor="start" fill="#111" transform="translate(372.2 415.1) scale(1 1.06)">620</text>
<line x1="366.2" y1="430.9" x2="368" y2="430.9" stroke="#555" stroke-width="0.7"/>
<text x="0" y="0" font-size="13" text-anchor="start" fill="#111" transform="translate(372.2 436.6) scale(1 1.06)">310</text>
<line x1="366.2" y1="452.4" x2="368" y2="452.4" stroke="#555" stroke-width="0.7"/>
<text x="0" y="0" font-size="13" text-anchor="start" fill="#111" transform="translate(372.2 458.1) scale(1 1.06)">0</text>
<path d="M495.3,382.3 L486.5,405.5 L495.3,397.9 Z" fill="#fff" stroke="#333" stroke-width="0.5"/>
<path d="M495.3,382.3 L504.1,405.5 L495.3,397.9 Z" fill="#000" stroke="#000" stroke-width="0.5"/>
<text x="0" y="0" font-size="13" text-anchor="middle" fill="#111" transform="translate(495.3 414.9) scale(1 1.06)">N</text>
<rect x="450" y="520.4" width="17.2" height="3.8" fill="#000" stroke="none" stroke-width="1"/>
<rect x="467.2" y="520.6" width="17.2" height="3.4" fill="#fff" stroke="#666" stroke-width="0.5"/>
<text x="0" y="0" font-size="13" text-anchor="middle" fill="#111" transform="translate(449.4 517) scale(1 1.06)">0</text>
<text x="0" y="0" font-size="13" text-anchor="middle" fill="#111" transform="translate(467.6 517) scale(1 1.06)">15</text>
<text x="0" y="0" font-size="13" text-anchor="middle" fill="#111" transform="translate(484.2 517) scale(1 1.06)">30</text>
<text x="0" y="0" font-size="13" text-anchor="start" fill="#111" transform="translate(486.7 529) scale(1 1.06)">KM</text>
<text x="0" y="0" font-size="13" text-anchor="start" fill="#111" transform="translate(360.4 525.7) scale(1 1.06)">2026</text>
<rect x="519.3" y="376.7" width="156.3" height="155.6" fill="#f9f9f9" stroke="#444" stroke-width="1.3"/>
<g transform="translate(520.7 377.7)" stroke="#fbeeee" stroke-width="0.35" stroke-opacity="0.75" stroke-linejoin="round"><path d="M27.3,101.3 L30.4,100.1 L30.3,94.7 L26.8,95.0 L21.8,95.6 L19.1,97.1Z" fill="#f4aeae"/><path d="M27.3,101.3 L19.1,97.1 L15.1,99.2 L18.7,101.1 L19.3,105.9 L20.6,110.2 L25.1,110.9Z" fill="#f4b2b2"/><path d="M30.4,100.1 L34.8,101.5 L39.2,93.4 L37.2,92.0 L34.0,94.4 L30.3,94.7Z" fill="#f4b0b0"/><path d="M30.4,100.1 L27.3,101.3 L25.1,110.9 L28.5,111.4 L28.7,111.9 L36.8,106.0 L36.7,103.9 L34.8,101.5Z" fill="#f5baba"/><path d="M36.8,106.0 L28.7,111.9 L29.7,114.5 L29.8,116.1 L37.2,116.4 L40.0,110.2Z" fill="#f4b1b1"/><path d="M29.8,116.1 L30.3,125.4 L32.0,128.8 L37.2,126.3 L40.0,120.0 L37.2,116.4Z" fill="#f3a9a9"/><path d="M42.4,83.3 L48.1,76.3 L47.3,75.6 L45.1,77.4 L40.2,76.8 L38.4,80.4 L38.2,81.9Z" fill="#f4b0b0"/><path d="M39.2,93.4 L43.6,93.1 L45.3,90.4 L44.9,86.8 L42.4,83.3 L38.2,81.9 L37.7,85.3 L38.2,91.3 L37.2,92.0Z" fill="#f5b9b9"/><path d="M43.6,93.1 L39.2,93.4 L34.8,101.5 L36.7,103.9 L45.8,100.7 L46.3,99.8Z" fill="#f3a9a9"/><path d="M47.1,107.4 L45.8,100.7 L36.7,103.9 L36.8,106.0 L40.0,110.2 L43.3,110.4Z" fill="#f4b0b0"/><path d="M40.0,110.2 L37.2,116.4 L40.0,120.0 L45.7,119.6 L47.4,118.0 L43.3,110.4Z" fill="#f5b9b9"/><path d="M37.2,126.3 L44.5,129.5 L47.2,127.1 L45.7,119.6 L40.0,120.0Z" fill="#f4b0b0"/><path d="M44.5,129.5 L37.2,126.3 L32.0,128.8 L32.1,129.1 L30.3,134.6 L35.8,133.9 L41.3,132.1 L44.4,134.8Z" fill="#f3a9a9"/><path d="M53.7,67.2 L55.5,65.7 L58.0,60.2 L49.4,54.9 L46.9,56.7 L46.9,60.9 L44.6,63.6Z" fill="#f5b6b6"/><path d="M48.1,76.3 L53.6,76.8 L54.8,75.4 L53.7,67.2 L44.6,63.6 L43.8,64.6 L42.6,68.2 L45.7,71.9 L48.1,74.9 L47.3,75.6Z" fill="#f39f9f"/><path d="M53.6,76.8 L48.1,76.3 L42.4,83.3 L44.9,86.8 L53.9,81.6Z" fill="#f3a5a5"/><path d="M54.8,83.0 L53.9,81.6 L44.9,86.8 L45.3,90.4 L52.8,91.1Z" fill="#f5b6b6"/><path d="M52.8,91.1 L45.3,90.4 L43.6,93.1 L46.3,99.8 L51.5,99.4 L55.1,93.4Z" fill="#f5b9b9"/><path d="M55.7,103.6 L51.5,99.4 L46.3,99.8 L45.8,100.7 L47.1,107.4 L53.7,109.8Z" fill="#f3aaaa"/><path d="M47.1,107.4 L43.3,110.4 L47.4,118.0 L53.5,116.6 L53.9,110.1 L53.7,109.8Z" fill="#f5b6b6"/><path d="M45.7,119.6 L47.2,127.1 L52.4,127.8 L55.7,124.9 L54.1,117.1 L53.5,116.6 L47.4,118.0Z" fill="#f5b4b4"/><path d="M47.2,127.1 L44.5,129.5 L44.4,134.8 L44.4,134.8 L53.5,134.6 L52.4,127.8Z" fill="#f4b1b1"/><path d="M54.1,135.2 L53.5,134.6 L44.4,134.8 L44.9,135.2 L44.3,140.6 L52.2,141.3 L53.5,142.2Z" fill="#f5b4b4"/><path d="M61.9,49.2 L57.2,50.6 L51.1,53.6 L49.4,54.9 L58.0,60.2 L61.0,58.9Z" fill="#f5bcbc"/><path d="M61.0,58.9 L58.0,60.2 L55.5,65.7 L63.8,68.3 L62.9,60.0Z" fill="#f5b5b5"/><path d="M63.8,68.3 L63.8,68.3 L55.5,65.7 L53.7,67.2 L54.8,75.4 L61.5,75.0Z" fill="#f4afaf"/><path d="M64.1,82.3 L63.5,76.5 L61.5,75.0 L54.8,75.4 L53.6,76.8 L53.9,81.6 L54.8,83.0 L61.4,86.0 L63.5,83.6Z" fill="#f3a3a3"/><path d="M60.4,92.7 L61.8,87.9 L61.4,86.0 L54.8,83.0 L52.8,91.1 L55.1,93.4 L59.6,93.6Z" fill="#f3a9a9"/><path d="M61.6,101.1 L59.6,93.6 L55.1,93.4 L51.5,99.4 L55.7,103.6 L61.5,101.3Z" fill="#f5b5b5"/><path d="M61.5,101.3 L55.7,103.6 L53.7,109.8 L53.9,110.1 L64.7,109.8 L65.5,109.2Z" fill="#f5b9b9"/><path d="M53.9,110.1 L53.5,116.6 L54.1,117.1 L61.2,117.0 L64.7,109.8Z" fill="#f4aeae"/><path d="M61.2,117.0 L54.1,117.1 L55.7,124.9 L63.0,127.5 L64.6,120.2Z" fill="#f5b9b9"/><path d="M55.7,124.9 L52.4,127.8 L53.5,134.6 L54.1,135.2 L62.6,133.3 L63.3,128.1 L63.0,127.5Z" fill="#f4afaf"/><path d="M60.9,144.9 L63.4,134.7 L62.6,133.3 L54.1,135.2 L53.5,142.2 L55.9,143.7 L58.4,146.7Z" fill="#f4b3b3"/><path d="M70.9,60.3 L71.9,58.9 L71.7,48.2 L68.8,46.9 L63.3,48.8 L61.9,49.2 L61.0,58.9 L62.9,60.0Z" fill="#f4abab"/><path d="M71.7,67.4 L70.9,60.3 L62.9,60.0 L63.8,68.3 L63.8,68.3 L71.6,67.7Z" fill="#f4b1b1"/><path d="M63.8,68.3 L61.5,75.0 L63.5,76.5 L68.9,75.7 L70.5,74.6 L71.6,69.5 L71.6,67.7Z" fill="#f5b6b6"/><path d="M70.4,81.8 L68.9,75.7 L63.5,76.5 L64.1,82.3 L70.1,82.6Z" fill="#f5b7b7"/><path d="M69.3,89.4 L61.8,87.9 L60.4,92.7 L69.9,94.2 L69.7,90.3 L69.3,89.4Z" fill="#f3a8a8"/><path d="M70.6,98.2 L71.0,95.9 L69.9,94.2 L60.4,92.7 L59.6,93.6 L61.6,101.1Z" fill="#f5b4b4"/><path d="M69.0,109.8 L72.8,102.6 L70.6,98.2 L61.6,101.1 L61.5,101.3 L65.5,109.2Z" fill="#f5bcbc"/><path d="M69.0,109.8 L65.5,109.2 L64.7,109.8 L61.2,117.0 L64.6,120.2 L69.3,118.3 L69.6,110.5Z" fill="#f5b9b9"/><path d="M64.6,120.2 L63.0,127.5 L63.3,128.1 L71.7,127.5 L73.4,125.9 L70.5,119.2 L69.3,118.3Z" fill="#f4aaaa"/><path d="M63.3,128.1 L62.6,133.3 L63.4,134.7 L70.9,137.6 L73.5,135.8 L71.7,127.5Z" fill="#f4b0b0"/><path d="M63.4,134.7 L60.9,144.9 L70.1,144.6 L70.9,137.6Z" fill="#f4b2b2"/><path d="M70.1,144.6 L60.9,144.9 L58.4,146.7 L59.5,148.0 L59.9,149.2 L61.2,151.9 L67.7,149.9 L72.1,146.8Z" fill="#f5b5b5"/><path d="M89.1,50.0 L86.8,49.9 L88.9,52.5 L88.9,52.5Z" fill="#f7c7c7"/><path d="M71.9,58.9 L81.3,59.7 L84.1,57.7 L79.6,53.0 L75.5,50.0 L71.7,48.2Z" fill="#f5b5b5"/><path d="M78.5,67.2 L80.1,65.7 L81.3,59.7 L71.9,58.9 L70.9,60.3 L71.7,67.4Z" fill="#f3a8a8"/><path d="M78.5,67.2 L71.7,67.4 L71.6,67.7 L71.6,69.5 L78.5,74.2 L79.5,69.7Z" fill="#f9dcdc"/><path d="M72.8,102.6 L77.7,103.2 L81.7,99.7 L81.5,97.8 L75.0,94.5 L71.0,95.9 L70.6,98.2Z" fill="#f3a8a8"/><path d="M80.2,110.2 L77.7,103.2 L72.8,102.6 L69.0,109.8 L69.6,110.5 L77.8,112.4Z" fill="#f29a9a"/><path d="M77.8,112.4 L69.6,110.5 L69.3,118.3 L70.5,119.2 L78.2,117.0Z" fill="#f4b0b0"/><path d="M70.5,119.2 L73.4,125.9 L79.1,125.2 L79.7,119.2 L78.2,117.0Z" fill="#f5bbbb"/><path d="M73.4,125.9 L71.7,127.5 L73.5,135.8 L78.1,136.2 L81.0,126.8 L79.1,125.2Z" fill="#f4b2b2"/><path d="M78.1,136.2 L73.5,135.8 L70.9,137.6 L70.1,144.6 L72.1,146.8 L74.3,145.3 L80.9,140.7 L82.2,140.0Z" fill="#f5b7b7"/><path d="M89.0,65.3 L91.0,63.0 L87.8,61.7 L84.1,57.7 L81.3,59.7 L80.1,65.7 L84.8,67.6Z" fill="#f3a4a4"/><path d="M84.2,71.5 L84.8,67.6 L80.1,65.7 L78.5,67.2 L79.5,69.7Z" fill="#f5bcbc"/><path d="M81.9,96.9 L81.5,97.8 L81.7,99.7 L88.8,103.6 L89.1,103.4 L88.1,95.0 L86.2,93.3Z" fill="#f6bdbd"/><path d="M77.7,103.2 L80.2,110.2 L87.5,109.9 L88.8,103.6 L81.7,99.7Z" fill="#f5bbbb"/><path d="M79.7,119.2 L87.0,117.3 L87.7,110.1 L87.5,109.9 L80.2,110.2 L77.8,112.4 L78.2,117.0Z" fill="#f5b6b6"/><path d="M79.7,119.2 L79.1,125.2 L81.0,126.8 L87.3,127.6 L89.2,125.6 L89.5,120.7 L87.0,117.3Z" fill="#f4abab"/><path d="M87.3,127.6 L81.0,126.8 L78.1,136.2 L82.2,140.0 L88.8,136.1 L89.3,136.0Z" fill="#f4b2b2"/><path d="M95.8,64.9 L91.0,63.0 L89.0,65.3 L88.1,73.5 L89.9,74.6 L93.0,73.2Z" fill="#f4adad"/><path d="M88.1,95.0 L89.1,103.4 L96.4,100.6 L96.1,94.6Z" fill="#f5bdbd"/><path d="M87.7,110.1 L96.4,112.8 L99.3,110.7 L96.6,100.7 L96.4,100.6 L89.1,103.4 L88.8,103.6 L87.5,109.9Z" fill="#f5baba"/><path d="M87.0,117.3 L89.5,120.7 L96.2,117.6 L96.4,112.8 L87.7,110.1Z" fill="#f5b5b5"/><path d="M97.3,118.7 L96.2,117.6 L89.5,120.7 L89.2,125.6 L96.6,126.4Z" fill="#f4b1b1"/><path d="M89.2,125.6 L87.3,127.6 L89.3,136.0 L100.6,132.8 L101.5,132.8 L101.5,129.9 L96.6,126.4Z" fill="#f4afaf"/><path d="M100.4,75.2 L107.6,76.7 L109.7,74.8 L104.0,70.3 L99.9,67.6Z" fill="#f4b0b0"/><path d="M101.9,83.8 L104.8,84.7 L106.1,83.6 L107.6,76.7 L100.4,75.2 L98.9,76.2 L97.5,81.8 L97.5,81.8Z" fill="#f5b7b7"/><path d="M96.4,93.1 L104.1,90.8 L104.8,84.7 L101.9,83.8 L95.3,91.2Z" fill="#f5b9b9"/><path d="M96.1,94.6 L96.4,100.6 L96.6,100.7 L105.3,100.9 L105.8,92.4 L104.1,90.8 L96.4,93.1Z" fill="#f4b4b4"/><path d="M105.3,100.9 L96.6,100.7 L99.3,110.7 L102.7,111.1 L103.5,110.3 L106.0,101.4Z" fill="#f5b8b8"/><path d="M106.9,117.8 L102.7,111.1 L99.3,110.7 L96.4,112.8 L96.2,117.6 L97.3,118.7 L104.6,120.5Z" fill="#f4aeae"/><path d="M97.3,118.7 L96.6,126.4 L101.5,129.9 L103.9,126.8 L104.6,120.5Z" fill="#f4abab"/><path d="M107.6,76.7 L106.1,83.6 L116.4,87.0 L115.8,86.1 L114.5,80.8 L110.6,75.6 L109.7,74.8Z" fill="#f3a8a8"/><path d="M105.8,92.4 L114.9,92.9 L118.5,89.7 L116.4,87.0 L106.1,83.6 L104.8,84.7 L104.1,90.8Z" fill="#f5bbbb"/><path d="M114.9,92.9 L105.8,92.4 L105.3,100.9 L106.0,101.4 L111.3,102.3 L112.9,100.5Z" fill="#f3a8a8"/><path d="M106.0,101.4 L103.5,110.3 L113.1,108.1 L111.3,102.3Z" fill="#f6bdbd"/><path d="M113.4,116.1 L113.3,108.4 L113.1,108.1 L103.5,110.3 L102.7,111.1 L106.9,117.8 L112.1,117.3Z" fill="#f5baba"/><path d="M112.1,117.3 L106.9,117.8 L104.6,120.5 L103.9,126.8 L112.8,127.0 L114.0,125.2Z" fill="#f4b0b0"/><path d="M112.8,127.0 L103.9,126.8 L101.5,129.9 L101.5,132.8 L113.7,132.1 L113.8,132.1Z" fill="#f5b6b6"/><path d="M114.9,92.9 L112.9,100.5 L122.2,102.3 L125.4,98.5 L125.0,97.9 L119.7,91.3 L118.5,89.7Z" fill="#f3a7a7"/><path d="M122.2,102.3 L112.9,100.5 L111.3,102.3 L113.1,108.1 L113.3,108.4 L121.3,107.2Z" fill="#f4acac"/><path d="M113.3,108.4 L113.4,116.1 L121.9,116.9 L122.9,115.8 L123.2,109.7 L121.3,107.2Z" fill="#f4b1b1"/><path d="M123.0,125.2 L121.9,116.9 L113.4,116.1 L112.1,117.3 L114.0,125.2Z" fill="#f4b2b2"/><path d="M126.8,129.6 L123.0,125.2 L114.0,125.2 L112.8,127.0 L113.8,132.1 L127.0,130.4Z" fill="#f4abab"/><path d="M122.2,102.3 L121.3,107.2 L123.2,109.7 L131.2,107.6 L130.2,105.7 L125.4,98.5Z" fill="#f3a7a7"/><path d="M134.7,87.5 L134.7,87.7 L134.8,88.1 L134.8,88.4 L135.0,88.7 L135.1,89.0 L135.3,89.3 L135.5,89.6 L135.7,89.8 L135.9,90.0 L136.2,90.2 L136.5,90.4 L136.8,90.5 L137.1,90.7 L137.4,90.7 L137.8,90.8 L138.1,90.8 L138.4,90.8 L138.8,90.7 L139.1,90.7 L139.4,90.5 L139.7,90.4 L140.0,90.2 L140.3,90.0 L140.5,89.8 L140.7,89.6 L140.9,89.3 L141.1,89.0 L141.2,88.7 L141.4,88.4 L141.4,88.1 L141.5,87.7 L141.5,87.4 L141.5,87.3Z" fill="#f8d2d2"/><path d="M123.2,109.7 L122.9,115.8 L133.3,116.3 L135.0,115.5 L134.2,113.6 L131.2,107.6Z" fill="#f3a1a1"/><path d="M126.8,129.6 L133.3,116.3 L122.9,115.8 L121.9,116.9 L123.0,125.2Z" fill="#f5b5b5"/><path d="M133.3,116.3 L126.8,129.6 L127.0,130.4 L128.2,130.2 L136.1,129.3 L138.1,126.7 L137.4,121.5 L135.0,115.5Z" fill="#f5b7b7"/><path d="M75.0,94.5 L81.5,97.8 L81.9,96.9 L80.7,92.7 L76.4,91.8Z" fill="#f39e9e"/><path d="M82.7,90.4 L83.5,87.2 L82.1,85.9 L81.1,90.1 L81.5,90.4Z" fill="#f8d3d3"/><path d="M86.1,79.9 L88.1,78.9 L84.1,76.8 L83.8,77.1 L83.3,78.3 L83.7,78.8 L84.3,79.3Z" fill="#f8d5d5"/><path d="M78.7,83.8 L79.9,82.6 L76.9,80.1 L76.1,80.7 L75.9,81.7 L76.0,83.9Z" fill="#f8d5d5"/><path d="M82.1,85.9 L83.5,87.2 L85.7,87.8 L86.2,85.9 L83.4,83.9 L82.6,84.1 L82.0,85.8Z" fill="#f9dcdc"/><path d="M76.1,80.7 L76.9,80.1 L77.7,78.7 L78.2,77.4 L78.0,76.2 L72.3,75.7 L73.7,79.8Z" fill="#f9dada"/><path d="M81.9,96.9 L86.2,93.3 L86.2,92.4 L86.1,91.9 L82.7,90.4 L81.5,90.4 L80.7,92.7Z" fill="#f3a1a1"/><path d="M70.1,82.6 L64.1,82.3 L63.5,83.6 L69.4,87.0 L70.7,84.0 L70.6,83.4Z" fill="#f29999"/><path d="M78.8,83.9 L78.9,85.3 L79.6,86.6 L81.5,85.9Z" fill="#f9dada"/><path d="M82.0,85.8 L82.6,84.1 L81.6,82.7 L81.5,82.6 L79.9,82.6 L78.7,83.8 L78.8,83.9 L81.5,85.9Z" fill="#f8d5d5"/><path d="M94.2,89.1 L97.5,81.8 L97.5,81.8 L94.7,81.1 L91.8,81.8 L90.3,85.6 L91.0,87.1Z" fill="#f9dbdb"/><path d="M83.4,83.9 L86.2,85.9 L88.0,84.6 L87.5,83.5 L86.7,83.0 L85.5,82.5 L85.4,82.6Z" fill="#f8d5d5"/><path d="M78.9,85.3 L75.6,85.0 L75.1,85.9 L75.1,85.9 L76.3,88.4 L76.9,89.0 L77.5,88.8 L79.6,86.6Z" fill="#f9d9d9"/><path d="M83.3,78.3 L83.8,77.1 L80.4,74.5 L78.7,74.7 L78.0,76.2 L78.2,77.4 L79.2,77.7 L82.1,78.7Z" fill="#f9dcdc"/><path d="M83.7,78.8 L83.3,78.3 L82.1,78.7 L81.4,81.6 L81.5,82.6 L81.6,82.7 L83.3,81.0Z" fill="#f9dbdb"/><path d="M86.7,83.0 L87.5,83.5 L89.9,80.5 L88.7,78.8 L88.7,78.8Z" fill="#f9d7d7"/><path d="M76.9,89.0 L76.4,91.8 L80.7,92.7 L81.5,90.4 L81.1,90.1 L77.5,88.8Z" fill="#f9d8d8"/><path d="M86.1,91.9 L86.2,92.4 L94.8,90.5 L94.2,89.1 L91.0,87.1 L86.7,89.4Z" fill="#f8d6d6"/><path d="M86.7,83.0 L88.7,78.8 L88.1,78.9 L86.1,79.9 L85.5,82.5Z" fill="#f9d9d9"/><path d="M79.2,77.7 L78.2,77.4 L77.7,78.7 L81.2,81.3Z" fill="#f8d6d6"/><path d="M91.8,81.8 L89.9,80.5 L87.5,83.5 L88.0,84.6 L90.3,85.6Z" fill="#f9d9d9"/><path d="M75.9,81.7 L76.1,80.7 L73.7,79.8 L70.4,81.8 L70.1,82.6 L70.6,83.4Z" fill="#f8d5d5"/><path d="M76.0,83.9 L75.9,81.7 L70.6,83.4 L70.7,84.0 L75.1,85.9 L75.6,85.0Z" fill="#f9dddd"/><path d="M78.7,74.7 L78.5,74.2 L71.6,69.5 L70.5,74.6 L72.3,75.7 L78.0,76.2Z" fill="#f4aaaa"/><path d="M83.3,81.0 L81.6,82.7 L82.6,84.1 L83.4,83.9 L85.4,82.6 L84.3,81.2Z" fill="#f8d7d7"/><path d="M70.7,84.0 L69.4,87.0 L69.3,89.4 L69.3,89.4 L75.1,85.9 L75.1,85.9Z" fill="#f9dcdc"/><path d="M93.0,73.2 L94.8,74.5 L98.9,76.2 L100.4,75.2 L99.9,67.6 L96.2,65.1 L95.8,64.9Z" fill="#f3a9a9"/><path d="M98.9,76.2 L94.8,74.5 L93.8,79.3 L94.7,81.1 L97.5,81.8Z" fill="#f4aeae"/><path d="M81.2,81.3 L77.7,78.7 L76.9,80.1 L79.9,82.6 L81.5,82.6 L81.4,81.6Z" fill="#f8d3d3"/><path d="M76.3,88.4 L69.7,90.3 L69.9,94.2 L71.0,95.9 L75.0,94.5 L76.4,91.8 L76.9,89.0Z" fill="#f5b7b7"/><path d="M88.7,78.8 L88.7,78.8 L89.9,75.3 L89.9,74.6 L88.1,73.5 L86.2,73.4 L84.1,76.8 L88.1,78.9Z" fill="#f9d8d8"/><path d="M84.2,71.5 L79.5,69.7 L78.5,74.2 L78.7,74.7 L80.4,74.5 L84.5,72.2Z" fill="#f8d4d4"/><path d="M79.6,86.6 L77.5,88.8 L81.1,90.1 L82.1,85.9 L82.0,85.8 L81.5,85.9Z" fill="#f8d3d3"/><path d="M73.7,79.8 L72.3,75.7 L70.5,74.6 L68.9,75.7 L70.4,81.8Z" fill="#f3a6a6"/><path d="M85.7,87.8 L83.5,87.2 L82.7,90.4 L86.1,91.9 L86.7,89.4Z" fill="#f9d9d9"/><path d="M89.9,80.5 L91.8,81.8 L94.7,81.1 L93.8,79.3 L89.9,75.3 L88.7,78.8Z" fill="#f8d5d5"/><path d="M78.7,83.8 L76.0,83.9 L75.6,85.0 L78.9,85.3 L78.8,83.9Z" fill="#f9d8d8"/><path d="M82.1,78.7 L79.2,77.7 L81.2,81.3 L81.4,81.6Z" fill="#f9d7d7"/><path d="M86.2,93.3 L88.1,95.0 L96.1,94.6 L96.4,93.1 L95.3,91.2 L94.8,90.5 L86.2,92.4Z" fill="#f4acac"/><path d="M85.4,82.6 L85.5,82.5 L86.1,79.9 L84.3,79.3 L84.3,81.2Z" fill="#f8d3d3"/><path d="M88.1,73.5 L89.0,65.3 L84.8,67.6 L84.2,71.5 L84.5,72.2 L86.2,73.4Z" fill="#f6bebe"/><path d="M84.1,76.8 L86.2,73.4 L84.5,72.2 L80.4,74.5 L83.8,77.1Z" fill="#f8d5d5"/><path d="M101.9,83.8 L97.5,81.8 L94.2,89.1 L94.8,90.5 L95.3,91.2Z" fill="#f3a4a4"/><path d="M84.3,79.3 L83.7,78.8 L83.3,81.0 L84.3,81.2Z" fill="#f9d9d9"/><path d="M63.5,83.6 L61.4,86.0 L61.8,87.9 L69.3,89.4 L69.4,87.0Z" fill="#f5b6b6"/><path d="M89.9,74.6 L89.9,75.3 L93.8,79.3 L94.8,74.5 L93.0,73.2Z" fill="#f9d7d7"/><path d="M91.0,87.1 L90.3,85.6 L88.0,84.6 L86.2,85.9 L85.7,87.8 L86.7,89.4Z" fill="#f9dcdc"/><path d="M69.3,89.4 L69.7,90.3 L76.3,88.4 L75.1,85.9Z" fill="#f8d4d4"/><path d="M62.2,3.0 L59.2,3.7 L53.4,8.1 L50.1,11.8 L50.4,13.2 L53.0,15.8Z" fill="#f7cccc"/><path d="M53.0,15.8 L54.8,17.6 L59.2,21.5 L69.4,4.9 L63.6,2.7 L62.2,3.0Z" fill="#f7c9c9"/><path d="M59.2,21.5 L62.1,24.2 L65.4,26.7 L76.1,11.2 L76.0,11.1 L74.5,7.4 L70.1,5.2 L69.4,4.9Z" fill="#f7c8c8"/><path d="M81.2,14.7 L79.6,14.0 L76.1,11.2 L65.4,26.7 L70.9,30.8 L71.5,31.2Z" fill="#f8d2d2"/><path d="M71.5,31.2 L79.1,36.3 L85.5,16.4 L81.2,14.7Z" fill="#f8d0d0"/><path d="M79.1,36.3 L79.6,36.6 L83.6,38.6 L93.8,20.6 L88.4,17.6 L85.5,16.4Z" fill="#f7cdcd"/><path d="M83.6,38.6 L86.8,40.1 L88.4,42.4 L90.9,43.7 L99.1,24.0 L96.4,22.0 L93.8,20.6Z" fill="#f7caca"/><path d="M96.9,44.7 L104.0,29.1 L101.5,27.8 L99.3,24.2 L99.1,24.0 L90.9,43.7 L93.2,44.9Z" fill="#f7cdcd"/><path d="M96.9,44.7 L103.7,46.2 L112.0,32.8 L107.4,30.8 L104.0,29.1Z" fill="#f8cece"/><path d="M103.7,46.2 L108.1,49.7 L110.5,50.4 L111.2,50.8 L119.1,35.6 L117.6,35.1 L112.0,32.8Z" fill="#f8d2d2"/><path d="M119.4,54.8 L124.2,37.3 L119.1,35.6 L111.2,50.8 L114.6,52.7 L118.4,54.5Z" fill="#f7cccc"/><path d="M119.4,54.8 L120.0,55.2 L122.9,56.6 L123.9,56.4 L132.3,41.1 L132.2,41.0 L126.4,38.1 L124.2,37.3Z" fill="#f6c5c5"/><path d="M123.9,56.4 L124.2,56.3 L132.2,53.4 L134.2,52.5 L134.4,49.7 L135.7,44.2 L135.1,43.9 L132.3,41.1Z" fill="#f8d2d2"/><path d="M108.0,57.2 L103.3,54.5 L95.0,50.4 L89.1,50.0 L88.9,52.5 L93.0,56.6 L100.2,60.7 L104.4,63.2Z" fill="#f7caca"/><path d="M103.7,46.2 L96.9,44.7 L93.2,44.9 L94.2,45.4 L103.0,48.3 L108.1,49.7Z" fill="#f8cfcf"/><path d="M119.5,64.9 L118.6,64.8 L118.8,66.3Z" fill="#f6c5c5"/><path d="M117.1,70.0 L116.7,64.8 L114.6,62.8 L111.0,60.7 L110.5,58.6 L108.0,57.2 L104.4,63.2 L110.5,66.9 L115.1,71.5 L116.6,71.1Z" fill="#f7c7c7"/><path d="M118.8,66.3 L119.4,70.8 L123.4,74.4 L129.8,74.4 L130.5,68.8 L124.9,65.8 L119.5,64.9Z" fill="#f8cfcf"/><path d="M116.6,71.1 L117.2,71.0 L117.1,70.0Z" fill="#f6c5c5"/><path d="M131.6,86.8 L132.2,83.3 L127.6,81.4 L131.0,86.6Z" fill="#f8cece"/><path d="M141.5,87.3 L141.5,87.1 L141.4,86.7 L141.4,86.4 L141.2,86.1 L141.1,85.8 L140.9,85.5 L140.7,85.2 L140.5,85.0 L140.3,84.8 L140.0,84.6 L139.7,84.4 L139.4,84.3 L139.1,84.1 L138.8,84.1 L138.4,84.0 L138.1,84.0 L137.8,84.0 L137.4,84.1 L137.1,84.1 L136.8,84.3 L136.5,84.4 L136.2,84.6 L135.9,84.8 L135.7,85.0 L135.5,85.2 L135.3,85.5 L135.1,85.8 L135.0,86.1 L134.8,86.4 L134.8,86.7 L134.7,87.1 L134.7,87.4 L134.7,87.5Z" fill="#f7c9c9"/></g>
<g transform="translate(519.3 376.7)" stroke="#fbeeee" stroke-width="0.35" stroke-opacity="0.75" stroke-linejoin="round"><path d="M83.3,99.3 L89.5,98.8 L93.3,101.2 L93.3,113.8 L89.5,115.4 L86.3,112.8 L84.4,106Z" fill="#933e3e"/><path d="M49.5,55 L56,53.5 L62.5,56 L62,65.5 L51,65Z" fill="#ef6c6c"/><path d="M48.2,70.5 L62.5,70 L62.8,81.5 L49,81.8Z" fill="#ef6c6c"/><path d="M104.9,88.5 L110.5,88.1 L113.3,90.4 L112.9,97.8 L111.4,102.5 L107.7,101.6 L104.3,96 L103,91.3Z" fill="#ef6c6c"/><path d="M113.3,88.1 L119.9,87 L124.5,94.1 L129.2,101.6 L132,109.1 L128.3,109.1 L122.7,106.3 L117.1,102.5 L112.9,97.8Z" fill="#f07b7b"/><path d="M111.4,103.5 L119.9,103.5 L120.8,112.8 L113.3,112.8Z" fill="#f29292"/><path d="M72.1,99.7 L77.7,99.7 L79.6,107.2 L73,108.2Z" fill="#f29292"/><path d="M58,87.5 L66.5,87.5 L67.4,95 L58.9,95Z" fill="#f29292"/><path d="M66,117 L72,116.5 L78.5,118 L79,130.5 L71,131.5 L66.5,127Z" fill="#f07d7d"/><path d="M96,117 L104,116.5 L105,126 L97,127.5Z" fill="#f29797"/><path d="M40,112 L50,111 L51,121 L41,122Z" fill="#f29797"/></g>
<text x="0" y="0" font-size="13.1" text-anchor="start" fill="#111" transform="translate(524.6 396.1) scale(1 1.06)">Station number</text>
<defs><linearGradient id="g308" x1="0" y1="1" x2="0" y2="0"><stop offset="0" stop-color="#fbe9ea"/><stop offset="0.35" stop-color="#f6b0b0"/><stop offset="0.65" stop-color="#f06060"/><stop offset="1" stop-color="#8b3c3c"/></linearGradient></defs>
<rect x="528.2" y="409.4" width="4.6" height="43" fill="url(#g308)" stroke="#444" stroke-width="0.6"/>
<line x1="532.8" y1="409.4" x2="534.6" y2="409.4" stroke="#555" stroke-width="0.7"/>
<text x="0" y="0" font-size="13" text-anchor="start" fill="#111" transform="translate(538.8 415.1) scale(1 1.06)">620</text>
<line x1="532.8" y1="430.9" x2="534.6" y2="430.9" stroke="#555" stroke-width="0.7"/>
<text x="0" y="0" font-size="13" text-anchor="start" fill="#111" transform="translate(538.8 436.6) scale(1 1.06)">310</text>
<line x1="532.8" y1="452.4" x2="534.6" y2="452.4" stroke="#555" stroke-width="0.7"/>
<text x="0" y="0" font-size="13" text-anchor="start" fill="#111" transform="translate(538.8 458.1) scale(1 1.06)">0</text>
<path d="M661.9,382.3 L653.1,405.5 L661.9,397.9 Z" fill="#fff" stroke="#333" stroke-width="0.5"/>
<path d="M661.9,382.3 L670.7,405.5 L661.9,397.9 Z" fill="#000" stroke="#000" stroke-width="0.5"/>
<text x="0" y="0" font-size="13" text-anchor="middle" fill="#111" transform="translate(661.9 414.9) scale(1 1.06)">N</text>
<rect x="616.6" y="520.4" width="17.2" height="3.8" fill="#000" stroke="none" stroke-width="1"/>
<rect x="633.8" y="520.6" width="17.2" height="3.4" fill="#fff" stroke="#666" stroke-width="0.5"/>
<text x="0" y="0" font-size="13" text-anchor="middle" fill="#111" transform="translate(616 517) scale(1 1.06)">0</text>
<text x="0" y="0" font-size="13" text-anchor="middle" fill="#111" transform="translate(634.2 517) scale(1 1.06)">15</text>
<text x="0" y="0" font-size="13" text-anchor="middle" fill="#111" transform="translate(650.8 517) scale(1 1.06)">30</text>
<text x="0" y="0" font-size="13" text-anchor="start" fill="#111" transform="translate(653.3 529) scale(1 1.06)">KM</text>
<text x="0" y="0" font-size="13" text-anchor="start" fill="#111" transform="translate(527 525.7) scale(1 1.06)">2035</text>
</svg></body></html>
